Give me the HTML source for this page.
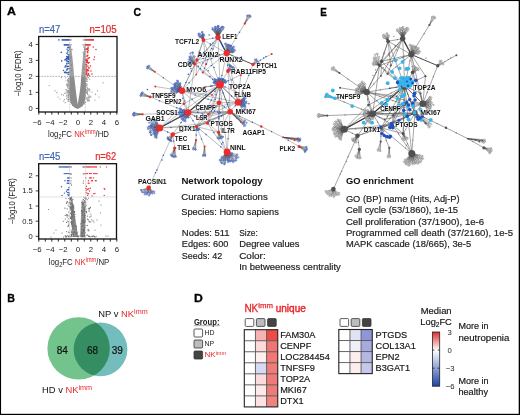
<!DOCTYPE html>
<html><head><meta charset="utf-8"><style>
html,body{margin:0;padding:0;background:#fff;}
svg{display:block;font-family:"Liberation Sans", sans-serif;will-change:transform;}
</style></head><body>
<svg width="520" height="415" viewBox="0 0 520 415">
<rect width="520" height="415" fill="#fff"/>
<g fill="#000"><rect x="0" y="0" width="520" height="1.05"/><rect x="0" y="0" width="1.05" height="415"/><rect x="518.7" y="0" width="1.3" height="415"/><rect x="0" y="413.8" width="520" height="1.2"/></g>
<text transform="translate(6.89,15.25) scale(1.065,1)" x="0" y="0" font-size="11.6" font-weight="bold" stroke="#000" stroke-width="0.3">A</text>
<text transform="translate(7.29,301.85) scale(0.92,1)" x="0" y="0" font-size="11.6" font-weight="bold" stroke="#000" stroke-width="0.3">B</text>
<text transform="translate(133.58,15.85) scale(0.9,1)" x="0" y="0" font-size="11.6" font-weight="bold" stroke="#000" stroke-width="0.3">C</text>
<text transform="translate(193.89,302.05) scale(1.05,1)" x="0" y="0" font-size="11.6" font-weight="bold" stroke="#000" stroke-width="0.3">D</text>
<text transform="translate(320.14,15.7) scale(0.85,1)" x="0" y="0" font-size="11.6" font-weight="bold" stroke="#000" stroke-width="0.3">E</text>
<polygon fill="#a2a2a2" opacity="1" points="69.4,46 70.9,46 72.4,57 73.4,67 74.2,76.5 69.4,76.5"/>
<polygon fill="#a2a2a2" opacity="1" points="84.4,46 85.7,46 85.7,76.5 81.2,76.5 82.0,67 83.0,57"/>
<g fill="#b8b8b8" opacity="1"><circle cx="68.58" cy="87.07" r="0.7"/><circle cx="68.65" cy="101.00" r="0.7"/><circle cx="68.14" cy="88.24" r="0.7"/><circle cx="86.79" cy="80.41" r="0.7"/><circle cx="68.47" cy="79.96" r="0.7"/><circle cx="68.76" cy="93.83" r="0.7"/><circle cx="67.74" cy="95.66" r="0.7"/><circle cx="73.23" cy="105.34" r="0.7"/><circle cx="68.72" cy="93.59" r="0.7"/><circle cx="87.00" cy="81.30" r="0.7"/><circle cx="67.55" cy="93.69" r="0.7"/><circle cx="67.88" cy="83.26" r="0.7"/><circle cx="67.24" cy="93.34" r="0.7"/><circle cx="87.01" cy="91.90" r="0.7"/><circle cx="87.53" cy="99.76" r="0.7"/><circle cx="68.17" cy="86.39" r="0.7"/><circle cx="67.94" cy="97.57" r="0.7"/><circle cx="86.84" cy="91.86" r="0.7"/><circle cx="86.69" cy="98.42" r="0.7"/><circle cx="68.58" cy="92.33" r="0.7"/><circle cx="67.66" cy="99.20" r="0.7"/><circle cx="72.88" cy="104.94" r="0.7"/><circle cx="86.95" cy="99.41" r="0.7"/><circle cx="87.32" cy="91.91" r="0.7"/><circle cx="67.51" cy="79.93" r="0.7"/><circle cx="68.40" cy="96.60" r="0.7"/><circle cx="88.77" cy="98.47" r="0.7"/><circle cx="88.96" cy="101.01" r="0.7"/><circle cx="87.73" cy="98.07" r="0.7"/><circle cx="68.70" cy="82.71" r="0.7"/><circle cx="68.82" cy="91.82" r="0.7"/><circle cx="86.98" cy="84.93" r="0.7"/><circle cx="84.27" cy="103.67" r="0.7"/><circle cx="68.21" cy="93.38" r="0.7"/><circle cx="87.33" cy="100.94" r="0.7"/><circle cx="89.97" cy="97.12" r="0.7"/><circle cx="72.67" cy="104.82" r="0.7"/><circle cx="68.53" cy="96.44" r="0.7"/><circle cx="68.89" cy="91.58" r="0.7"/><circle cx="86.42" cy="89.73" r="0.7"/><circle cx="88.21" cy="95.07" r="0.7"/><circle cx="68.32" cy="92.43" r="0.7"/><circle cx="87.34" cy="90.79" r="0.7"/><circle cx="87.08" cy="91.48" r="0.7"/><circle cx="67.51" cy="79.74" r="0.7"/><circle cx="68.77" cy="81.08" r="0.7"/><circle cx="65.81" cy="80.87" r="0.7"/><circle cx="68.18" cy="95.18" r="0.7"/><circle cx="84.81" cy="102.48" r="0.7"/><circle cx="87.10" cy="87.73" r="0.7"/><circle cx="66.51" cy="91.28" r="0.7"/><circle cx="89.63" cy="91.05" r="0.7"/><circle cx="67.95" cy="86.73" r="0.7"/><circle cx="68.19" cy="85.41" r="0.7"/><circle cx="67.38" cy="92.46" r="0.7"/><circle cx="68.42" cy="82.10" r="0.7"/><circle cx="88.87" cy="99.23" r="0.7"/><circle cx="86.65" cy="97.49" r="0.7"/><circle cx="68.33" cy="92.52" r="0.7"/><circle cx="87.03" cy="93.16" r="0.7"/><circle cx="68.07" cy="95.82" r="0.7"/><circle cx="66.65" cy="98.72" r="0.7"/><circle cx="86.49" cy="83.60" r="0.7"/><circle cx="86.55" cy="78.78" r="0.7"/><circle cx="67.75" cy="91.22" r="0.7"/><circle cx="89.35" cy="90.52" r="0.7"/><circle cx="82.49" cy="104.74" r="0.7"/><circle cx="86.59" cy="91.16" r="0.7"/><circle cx="67.02" cy="83.72" r="0.7"/><circle cx="68.66" cy="100.39" r="0.7"/></g>
<polygon fill="#8c8c8c" opacity="1" points="69.4,76.5 69.2,90 69.6,98 70.5,102.5 72.2,105.5 74.8,107.8 77.5,109 80.2,107.8 82.8,105.5 84.5,102.5 85.5,98 86.0,90 85.8,76.5 81.2,76.5 80.6,85 79.6,93 77.7,104.5 76.1,93 75.2,85 74.2,76.5"/>
<g fill="#8a8a8a" opacity="1"><circle cx="68.12" cy="101.20" r="0.6"/><circle cx="67.44" cy="90.86" r="0.6"/><circle cx="86.93" cy="89.58" r="0.6"/><circle cx="68.37" cy="90.43" r="0.6"/><circle cx="68.55" cy="98.02" r="0.6"/><circle cx="87.39" cy="94.13" r="0.6"/><circle cx="89.15" cy="100.39" r="0.6"/><circle cx="90.07" cy="96.06" r="0.6"/><circle cx="68.68" cy="81.52" r="0.6"/><circle cx="69.04" cy="92.27" r="0.6"/><circle cx="65.83" cy="89.58" r="0.6"/><circle cx="65.69" cy="77.81" r="0.6"/><circle cx="86.41" cy="85.50" r="0.6"/><circle cx="65.75" cy="92.79" r="0.6"/><circle cx="86.55" cy="78.77" r="0.6"/><circle cx="63.66" cy="100.99" r="0.6"/><circle cx="86.70" cy="92.42" r="0.6"/><circle cx="69.13" cy="99.52" r="0.6"/><circle cx="68.35" cy="99.51" r="0.6"/><circle cx="87.36" cy="93.14" r="0.6"/><circle cx="66.27" cy="96.79" r="0.6"/><circle cx="70.84" cy="102.61" r="0.6"/><circle cx="86.95" cy="84.21" r="0.6"/><circle cx="64.79" cy="93.29" r="0.6"/><circle cx="66.85" cy="89.85" r="0.6"/><circle cx="88.20" cy="97.09" r="0.6"/><circle cx="68.11" cy="91.74" r="0.6"/><circle cx="89.10" cy="97.28" r="0.6"/><circle cx="84.01" cy="103.76" r="0.6"/><circle cx="68.11" cy="80.98" r="0.6"/><circle cx="87.76" cy="88.38" r="0.6"/><circle cx="89.75" cy="79.12" r="0.6"/><circle cx="87.40" cy="99.73" r="0.6"/><circle cx="68.29" cy="81.15" r="0.6"/><circle cx="82.56" cy="105.06" r="0.6"/><circle cx="65.16" cy="102.66" r="0.6"/><circle cx="81.46" cy="105.71" r="0.6"/><circle cx="81.91" cy="105.83" r="0.6"/><circle cx="86.96" cy="86.83" r="0.6"/><circle cx="88.35" cy="77.57" r="0.6"/><circle cx="88.52" cy="89.77" r="0.6"/><circle cx="68.94" cy="91.86" r="0.6"/><circle cx="67.57" cy="80.27" r="0.6"/><circle cx="87.12" cy="79.44" r="0.6"/><circle cx="68.83" cy="78.15" r="0.6"/><circle cx="88.23" cy="100.77" r="0.6"/><circle cx="89.24" cy="88.77" r="0.6"/><circle cx="68.49" cy="97.31" r="0.6"/><circle cx="68.69" cy="85.09" r="0.6"/><circle cx="67.62" cy="84.80" r="0.6"/><circle cx="68.85" cy="95.40" r="0.6"/><circle cx="68.17" cy="78.93" r="0.6"/><circle cx="87.95" cy="90.16" r="0.6"/><circle cx="66.40" cy="95.03" r="0.6"/><circle cx="69.11" cy="92.28" r="0.6"/><circle cx="67.95" cy="84.59" r="0.6"/><circle cx="68.36" cy="82.85" r="0.6"/><circle cx="67.15" cy="85.41" r="0.6"/><circle cx="66.42" cy="84.85" r="0.6"/><circle cx="61.29" cy="77.45" r="0.6"/><circle cx="86.28" cy="91.91" r="0.6"/><circle cx="89.03" cy="96.04" r="0.6"/><circle cx="73.30" cy="105.14" r="0.6"/><circle cx="67.51" cy="86.94" r="0.6"/><circle cx="68.70" cy="88.74" r="0.6"/><circle cx="86.91" cy="77.41" r="0.6"/><circle cx="89.82" cy="89.49" r="0.6"/><circle cx="85.47" cy="102.25" r="0.6"/><circle cx="68.92" cy="94.36" r="0.6"/><circle cx="86.94" cy="81.57" r="0.6"/><circle cx="83.72" cy="47.11" r="0.6"/><circle cx="83.67" cy="54.09" r="0.6"/><circle cx="83.03" cy="52.31" r="0.6"/><circle cx="70.06" cy="61.58" r="0.6"/><circle cx="71.79" cy="49.63" r="0.6"/><circle cx="70.34" cy="58.43" r="0.6"/><circle cx="84.90" cy="63.98" r="0.6"/><circle cx="84.18" cy="69.17" r="0.6"/><circle cx="82.92" cy="68.00" r="0.6"/><circle cx="71.77" cy="68.28" r="0.6"/><circle cx="71.14" cy="70.97" r="0.6"/><circle cx="69.62" cy="49.47" r="0.6"/><circle cx="70.76" cy="57.92" r="0.6"/><circle cx="71.41" cy="65.16" r="0.6"/><circle cx="69.70" cy="60.25" r="0.6"/><circle cx="84.86" cy="66.12" r="0.6"/><circle cx="71.87" cy="70.47" r="0.6"/><circle cx="84.09" cy="53.69" r="0.6"/><circle cx="72.05" cy="49.23" r="0.6"/><circle cx="71.30" cy="64.89" r="0.6"/><circle cx="71.32" cy="56.62" r="0.6"/><circle cx="69.67" cy="47.36" r="0.6"/><circle cx="83.61" cy="67.07" r="0.6"/><circle cx="70.81" cy="60.48" r="0.6"/><circle cx="84.12" cy="56.04" r="0.6"/><circle cx="85.51" cy="60.31" r="0.6"/><circle cx="70.58" cy="75.83" r="0.6"/><circle cx="84.89" cy="49.16" r="0.6"/><circle cx="85.10" cy="74.63" r="0.6"/><circle cx="83.45" cy="72.72" r="0.6"/><circle cx="49.20" cy="85.50" r="0.6"/><circle cx="103.10" cy="82.80" r="0.6"/><circle cx="55.00" cy="90.80" r="0.6"/><circle cx="56.90" cy="92.70" r="0.6"/><circle cx="61.70" cy="94.60" r="0.6"/><circle cx="63.40" cy="95.10" r="0.6"/><circle cx="97.40" cy="90.80" r="0.6"/><circle cx="95.50" cy="94.20" r="0.6"/><circle cx="92.00" cy="92.00" r="0.6"/><circle cx="60.00" cy="99.00" r="0.6"/><circle cx="58.00" cy="97.00" r="0.6"/><circle cx="95.00" cy="100.00" r="0.6"/><circle cx="99.00" cy="97.00" r="0.6"/><circle cx="64.50" cy="99.50" r="0.6"/><circle cx="91.00" cy="97.00" r="0.6"/></g>
<g fill="#2f58b3" opacity="1"><circle cx="58.90" cy="39.90" r="0.78"/><circle cx="62.20" cy="39.90" r="0.78"/><circle cx="63.10" cy="39.90" r="0.78"/><circle cx="64.00" cy="39.90" r="0.78"/><circle cx="64.90" cy="39.90" r="0.78"/><circle cx="65.80" cy="39.90" r="0.78"/><circle cx="66.70" cy="39.90" r="0.78"/><circle cx="67.60" cy="39.90" r="0.78"/><circle cx="68.50" cy="39.90" r="0.78"/><circle cx="69.40" cy="39.90" r="0.78"/><circle cx="64.30" cy="44.90" r="0.78"/><circle cx="65.20" cy="44.90" r="0.78"/><circle cx="66.10" cy="44.90" r="0.78"/><circle cx="67.00" cy="44.90" r="0.78"/><circle cx="67.90" cy="44.90" r="0.78"/><circle cx="68.80" cy="44.90" r="0.78"/><circle cx="66.49" cy="58.63" r="0.78"/><circle cx="65.09" cy="67.11" r="0.78"/><circle cx="68.72" cy="58.96" r="0.78"/><circle cx="67.05" cy="58.10" r="0.78"/><circle cx="68.18" cy="50.57" r="0.78"/><circle cx="67.53" cy="56.98" r="0.78"/><circle cx="67.83" cy="58.75" r="0.78"/><circle cx="68.54" cy="47.35" r="0.78"/><circle cx="68.99" cy="68.83" r="0.78"/><circle cx="68.30" cy="58.51" r="0.78"/><circle cx="65.16" cy="72.66" r="0.78"/><circle cx="67.00" cy="69.29" r="0.78"/><circle cx="68.88" cy="72.20" r="0.78"/><circle cx="68.39" cy="66.53" r="0.78"/><circle cx="66.00" cy="65.73" r="0.78"/><circle cx="64.93" cy="59.87" r="0.78"/><circle cx="68.52" cy="56.31" r="0.78"/><circle cx="65.70" cy="59.62" r="0.78"/><circle cx="68.86" cy="47.86" r="0.78"/><circle cx="67.08" cy="72.83" r="0.78"/><circle cx="68.78" cy="63.35" r="0.78"/><circle cx="68.25" cy="74.54" r="0.78"/><circle cx="68.22" cy="59.12" r="0.78"/><circle cx="68.31" cy="72.65" r="0.78"/><circle cx="66.96" cy="61.32" r="0.78"/><circle cx="67.74" cy="52.04" r="0.78"/><circle cx="68.71" cy="59.24" r="0.78"/><circle cx="67.57" cy="68.79" r="0.78"/><circle cx="67.83" cy="66.26" r="0.78"/><circle cx="68.22" cy="61.25" r="0.78"/><circle cx="67.01" cy="66.73" r="0.78"/><circle cx="67.14" cy="49.22" r="0.78"/><circle cx="68.09" cy="61.77" r="0.78"/><circle cx="66.78" cy="60.36" r="0.78"/><circle cx="68.88" cy="56.82" r="0.78"/><circle cx="67.00" cy="63.16" r="0.78"/><circle cx="67.90" cy="54.20" r="0.78"/><circle cx="66.85" cy="56.42" r="0.78"/><circle cx="68.53" cy="57.87" r="0.78"/><circle cx="67.81" cy="47.59" r="0.78"/><circle cx="66.67" cy="72.68" r="0.78"/><circle cx="66.89" cy="53.20" r="0.78"/><circle cx="68.97" cy="54.97" r="0.78"/><circle cx="66.77" cy="63.94" r="0.78"/><circle cx="68.10" cy="57.62" r="0.78"/><circle cx="66.85" cy="70.31" r="0.78"/><circle cx="65.62" cy="72.03" r="0.78"/><circle cx="66.77" cy="58.34" r="0.78"/><circle cx="61.30" cy="52.40" r="0.78"/><circle cx="61.70" cy="60.90" r="0.78"/><circle cx="64.60" cy="72.40" r="0.78"/><circle cx="63.50" cy="70.50" r="0.78"/><circle cx="65.50" cy="66.00" r="0.78"/></g>
<g fill="#e8333a" opacity="1"><circle cx="85.30" cy="39.90" r="0.78"/><circle cx="86.20" cy="39.90" r="0.78"/><circle cx="87.10" cy="39.90" r="0.78"/><circle cx="88.00" cy="39.90" r="0.78"/><circle cx="88.90" cy="39.90" r="0.78"/><circle cx="89.80" cy="39.90" r="0.78"/><circle cx="90.70" cy="39.90" r="0.78"/><circle cx="91.60" cy="39.90" r="0.78"/><circle cx="92.50" cy="39.90" r="0.78"/><circle cx="93.40" cy="39.90" r="0.78"/><circle cx="85.60" cy="44.90" r="0.78"/><circle cx="86.50" cy="44.90" r="0.78"/><circle cx="87.40" cy="44.90" r="0.78"/><circle cx="88.30" cy="44.90" r="0.78"/><circle cx="89.20" cy="44.90" r="0.78"/><circle cx="90.10" cy="44.90" r="0.78"/><circle cx="87.83" cy="66.05" r="0.78"/><circle cx="86.89" cy="71.02" r="0.78"/><circle cx="87.71" cy="75.56" r="0.78"/><circle cx="87.76" cy="69.53" r="0.78"/><circle cx="88.60" cy="70.73" r="0.78"/><circle cx="86.61" cy="49.16" r="0.78"/><circle cx="88.53" cy="74.44" r="0.78"/><circle cx="87.28" cy="60.81" r="0.78"/><circle cx="86.42" cy="60.24" r="0.78"/><circle cx="87.63" cy="51.49" r="0.78"/><circle cx="89.29" cy="75.67" r="0.78"/><circle cx="88.70" cy="67.68" r="0.78"/><circle cx="86.83" cy="71.97" r="0.78"/><circle cx="86.67" cy="69.92" r="0.78"/><circle cx="88.11" cy="47.04" r="0.78"/><circle cx="88.13" cy="48.11" r="0.78"/><circle cx="89.10" cy="68.09" r="0.78"/><circle cx="86.82" cy="62.58" r="0.78"/><circle cx="86.19" cy="59.90" r="0.78"/><circle cx="87.10" cy="55.86" r="0.78"/><circle cx="86.71" cy="74.83" r="0.78"/><circle cx="87.70" cy="70.32" r="0.78"/><circle cx="93.27" cy="47.03" r="0.78"/><circle cx="87.82" cy="55.22" r="0.78"/><circle cx="86.97" cy="56.33" r="0.78"/><circle cx="87.49" cy="62.53" r="0.78"/><circle cx="88.33" cy="63.14" r="0.78"/><circle cx="86.51" cy="66.16" r="0.78"/><circle cx="87.67" cy="48.63" r="0.78"/><circle cx="90.40" cy="66.09" r="0.78"/><circle cx="86.42" cy="49.39" r="0.78"/><circle cx="88.39" cy="57.92" r="0.78"/><circle cx="87.27" cy="61.54" r="0.78"/><circle cx="89.40" cy="57.69" r="0.78"/><circle cx="87.93" cy="58.69" r="0.78"/><circle cx="86.18" cy="71.93" r="0.78"/><circle cx="87.57" cy="48.99" r="0.78"/><circle cx="86.14" cy="69.59" r="0.78"/><circle cx="87.79" cy="52.72" r="0.78"/><circle cx="86.48" cy="73.24" r="0.78"/><circle cx="88.25" cy="50.22" r="0.78"/><circle cx="88.22" cy="73.45" r="0.78"/><circle cx="86.73" cy="61.31" r="0.78"/><circle cx="86.50" cy="64.55" r="0.78"/><circle cx="86.55" cy="74.20" r="0.78"/><circle cx="86.26" cy="64.59" r="0.78"/><circle cx="86.45" cy="59.25" r="0.78"/><circle cx="87.46" cy="60.26" r="0.78"/><circle cx="86.52" cy="68.01" r="0.78"/><circle cx="87.09" cy="49.34" r="0.78"/><circle cx="87.26" cy="51.89" r="0.78"/><circle cx="89.08" cy="62.48" r="0.78"/><circle cx="96.00" cy="49.50" r="0.78"/><circle cx="94.50" cy="57.00" r="0.78"/><circle cx="94.00" cy="59.60" r="0.78"/><circle cx="91.00" cy="71.00" r="0.78"/><circle cx="92.00" cy="74.00" r="0.78"/></g>
<g fill="#9a9a9a" opacity="1"><circle cx="69.70" cy="39.90" r="0.65"/><circle cx="70.50" cy="39.90" r="0.65"/><circle cx="71.30" cy="39.90" r="0.65"/><circle cx="69.70" cy="44.90" r="0.65"/><circle cx="70.50" cy="44.90" r="0.65"/><circle cx="71.30" cy="44.90" r="0.65"/><circle cx="83.30" cy="39.90" r="0.65"/><circle cx="84.10" cy="39.90" r="0.65"/><circle cx="84.90" cy="39.90" r="0.65"/><circle cx="83.00" cy="44.90" r="0.65"/><circle cx="83.80" cy="44.90" r="0.65"/><circle cx="84.60" cy="44.90" r="0.65"/></g>
<line x1="38.7" y1="76.4" x2="117" y2="76.4" stroke="#777" stroke-width="0.6" stroke-dasharray="1.6,1.2"/>
<line x1="69.8" y1="36.5" x2="69.8" y2="112" stroke="#999" stroke-width="0.5" stroke-dasharray="1.6,1.2"/>
<line x1="85.3" y1="36.5" x2="85.3" y2="112" stroke="#999" stroke-width="0.5" stroke-dasharray="1.6,1.2"/>
<rect x="38.7" y="36.5" width="78.3" height="75.5" fill="none" stroke="#111" stroke-width="1.3"/>
<line x1="35.7" y1="108.40" x2="38.7" y2="108.40" stroke="#111" stroke-width="0.8"/>
<text x="32.80" y="110.90" font-size="7.6" fill="#222" text-anchor="end">0</text>
<line x1="35.7" y1="92.40" x2="38.7" y2="92.40" stroke="#111" stroke-width="0.8"/>
<text x="32.80" y="94.90" font-size="7.6" fill="#222" text-anchor="end">1</text>
<line x1="35.7" y1="76.40" x2="38.7" y2="76.40" stroke="#111" stroke-width="0.8"/>
<text x="32.80" y="78.90" font-size="7.6" fill="#222" text-anchor="end">2</text>
<line x1="35.7" y1="60.40" x2="38.7" y2="60.40" stroke="#111" stroke-width="0.8"/>
<text x="32.80" y="62.90" font-size="7.6" fill="#222" text-anchor="end">3</text>
<line x1="35.7" y1="44.40" x2="38.7" y2="44.40" stroke="#111" stroke-width="0.8"/>
<text x="32.80" y="46.90" font-size="7.6" fill="#222" text-anchor="end">4</text>
<line x1="38.80" y1="112" x2="38.80" y2="114.6" stroke="#111" stroke-width="0.9"/>
<text x="37.20" y="124.50" font-size="7.8" fill="#222" text-anchor="middle">−6</text>
<line x1="45.30" y1="112" x2="45.30" y2="114.6" stroke="#111" stroke-width="0.9"/>
<line x1="51.80" y1="112" x2="51.80" y2="114.6" stroke="#111" stroke-width="0.9"/>
<text x="50.20" y="124.50" font-size="7.8" fill="#222" text-anchor="middle">−4</text>
<line x1="58.30" y1="112" x2="58.30" y2="114.6" stroke="#111" stroke-width="0.9"/>
<line x1="64.80" y1="112" x2="64.80" y2="114.6" stroke="#111" stroke-width="0.9"/>
<text x="63.20" y="124.50" font-size="7.8" fill="#222" text-anchor="middle">−2</text>
<line x1="71.30" y1="112" x2="71.30" y2="114.6" stroke="#111" stroke-width="0.9"/>
<line x1="77.80" y1="112" x2="77.80" y2="114.6" stroke="#111" stroke-width="0.9"/>
<text x="77.80" y="124.50" font-size="7.8" fill="#222" text-anchor="middle">0</text>
<line x1="84.30" y1="112" x2="84.30" y2="114.6" stroke="#111" stroke-width="0.9"/>
<line x1="90.80" y1="112" x2="90.80" y2="114.6" stroke="#111" stroke-width="0.9"/>
<text x="90.80" y="124.50" font-size="7.8" fill="#222" text-anchor="middle">2</text>
<line x1="97.30" y1="112" x2="97.30" y2="114.6" stroke="#111" stroke-width="0.9"/>
<line x1="103.80" y1="112" x2="103.80" y2="114.6" stroke="#111" stroke-width="0.9"/>
<text x="103.80" y="124.50" font-size="7.8" fill="#222" text-anchor="middle">4</text>
<line x1="110.30" y1="112" x2="110.30" y2="114.6" stroke="#111" stroke-width="0.9"/>
<line x1="116.80" y1="112" x2="116.80" y2="114.6" stroke="#111" stroke-width="0.9"/>
<text x="116.80" y="124.50" font-size="7.8" fill="#222" text-anchor="middle">6</text>
<text x="38.90" y="32.80" font-size="10.2" fill="#3f66b8" textLength="21.50" lengthAdjust="spacingAndGlyphs" stroke="#3f66b8" stroke-width="0.2">n=47</text>
<text x="89.40" y="32.80" font-size="10.2" fill="#e8262b" textLength="27.30" lengthAdjust="spacingAndGlyphs" stroke="#e8262b" stroke-width="0.2">n=105</text>
<text transform="translate(21.0,73.5) rotate(-90)" x="0" y="0" font-size="8.6" text-anchor="middle" fill="#222" textLength="46" lengthAdjust="spacingAndGlyphs">−log10 (FDR)</text>
<polygon fill="#7a7a7a" opacity="0.85" points="70.6,203 72.4,200 78.2,236.8 72.6,236.8 71.0,215"/>
<polygon fill="#7a7a7a" opacity="0.85" points="81.8,200 84.6,203 85.3,215 84.8,236.8 80.1,236.8"/>
<g fill="#6e6e6e" opacity="1"><circle cx="84.87" cy="215.47" r="0.6"/><circle cx="86.14" cy="211.96" r="0.6"/><circle cx="75.02" cy="214.48" r="0.6"/><circle cx="84.05" cy="208.05" r="0.6"/><circle cx="74.19" cy="231.96" r="0.6"/><circle cx="85.21" cy="227.36" r="0.6"/><circle cx="71.22" cy="214.08" r="0.6"/><circle cx="83.04" cy="204.73" r="0.6"/><circle cx="81.68" cy="211.39" r="0.6"/><circle cx="81.71" cy="213.23" r="0.6"/><circle cx="69.88" cy="198.38" r="0.6"/><circle cx="70.11" cy="199.45" r="0.6"/><circle cx="83.07" cy="232.49" r="0.6"/><circle cx="72.75" cy="210.23" r="0.6"/><circle cx="85.65" cy="225.31" r="0.6"/><circle cx="74.02" cy="208.75" r="0.6"/><circle cx="85.30" cy="206.24" r="0.6"/><circle cx="85.36" cy="215.40" r="0.6"/><circle cx="81.73" cy="233.08" r="0.6"/><circle cx="71.02" cy="216.61" r="0.6"/><circle cx="72.50" cy="226.17" r="0.6"/><circle cx="84.17" cy="209.95" r="0.6"/><circle cx="73.12" cy="227.96" r="0.6"/><circle cx="73.05" cy="212.47" r="0.6"/><circle cx="70.91" cy="199.56" r="0.6"/><circle cx="70.46" cy="218.51" r="0.6"/><circle cx="74.90" cy="231.90" r="0.6"/><circle cx="71.18" cy="200.32" r="0.6"/><circle cx="81.90" cy="236.04" r="0.6"/><circle cx="85.03" cy="202.25" r="0.6"/><circle cx="71.55" cy="223.63" r="0.6"/><circle cx="84.66" cy="208.61" r="0.6"/><circle cx="82.84" cy="211.73" r="0.6"/><circle cx="72.53" cy="206.77" r="0.6"/><circle cx="72.25" cy="208.11" r="0.6"/><circle cx="71.89" cy="212.64" r="0.6"/><circle cx="70.86" cy="206.14" r="0.6"/><circle cx="77.80" cy="236.14" r="0.6"/><circle cx="71.79" cy="231.87" r="0.6"/><circle cx="71.69" cy="233.12" r="0.6"/><circle cx="72.69" cy="206.20" r="0.6"/><circle cx="71.57" cy="235.43" r="0.6"/><circle cx="72.06" cy="211.70" r="0.6"/><circle cx="73.25" cy="207.27" r="0.6"/><circle cx="82.67" cy="220.55" r="0.6"/><circle cx="74.19" cy="211.56" r="0.6"/><circle cx="73.32" cy="236.50" r="0.6"/><circle cx="71.35" cy="222.74" r="0.6"/><circle cx="84.59" cy="229.34" r="0.6"/><circle cx="82.33" cy="204.31" r="0.6"/><circle cx="84.85" cy="198.24" r="0.6"/><circle cx="69.97" cy="199.50" r="0.6"/><circle cx="72.14" cy="223.23" r="0.6"/><circle cx="71.29" cy="200.60" r="0.6"/><circle cx="85.08" cy="207.71" r="0.6"/><circle cx="72.83" cy="213.50" r="0.6"/><circle cx="83.70" cy="219.38" r="0.6"/><circle cx="85.24" cy="197.72" r="0.6"/><circle cx="82.85" cy="212.43" r="0.6"/><circle cx="70.90" cy="197.23" r="0.6"/><circle cx="84.16" cy="229.40" r="0.6"/><circle cx="73.58" cy="211.41" r="0.6"/><circle cx="70.38" cy="199.04" r="0.6"/><circle cx="73.19" cy="232.94" r="0.6"/><circle cx="75.94" cy="233.63" r="0.6"/><circle cx="70.10" cy="208.19" r="0.6"/><circle cx="85.55" cy="201.30" r="0.6"/><circle cx="74.31" cy="228.29" r="0.6"/><circle cx="71.08" cy="230.07" r="0.6"/><circle cx="71.75" cy="216.07" r="0.6"/><circle cx="70.95" cy="222.14" r="0.6"/><circle cx="72.01" cy="221.50" r="0.6"/><circle cx="84.28" cy="230.84" r="0.6"/><circle cx="82.98" cy="204.75" r="0.6"/><circle cx="86.11" cy="205.62" r="0.6"/><circle cx="82.67" cy="203.18" r="0.6"/><circle cx="73.63" cy="206.76" r="0.6"/><circle cx="71.73" cy="219.21" r="0.6"/><circle cx="84.76" cy="209.81" r="0.6"/><circle cx="84.73" cy="218.73" r="0.6"/><circle cx="71.94" cy="209.17" r="0.6"/><circle cx="84.00" cy="223.02" r="0.6"/><circle cx="70.82" cy="204.06" r="0.6"/><circle cx="72.46" cy="216.34" r="0.6"/><circle cx="85.40" cy="221.43" r="0.6"/><circle cx="81.69" cy="229.02" r="0.6"/><circle cx="83.97" cy="202.07" r="0.6"/><circle cx="76.33" cy="228.69" r="0.6"/><circle cx="85.62" cy="202.15" r="0.6"/><circle cx="71.25" cy="217.20" r="0.6"/><circle cx="76.96" cy="232.35" r="0.6"/><circle cx="71.97" cy="199.62" r="0.6"/><circle cx="82.58" cy="235.78" r="0.6"/><circle cx="72.33" cy="229.03" r="0.6"/><circle cx="75.69" cy="225.48" r="0.6"/><circle cx="82.64" cy="210.86" r="0.6"/><circle cx="85.42" cy="232.41" r="0.6"/><circle cx="84.21" cy="215.03" r="0.6"/><circle cx="73.12" cy="233.34" r="0.6"/><circle cx="73.54" cy="221.33" r="0.6"/><circle cx="71.07" cy="198.45" r="0.6"/><circle cx="84.77" cy="222.14" r="0.6"/><circle cx="72.05" cy="232.37" r="0.6"/><circle cx="71.01" cy="207.44" r="0.6"/><circle cx="84.54" cy="211.21" r="0.6"/><circle cx="73.78" cy="219.91" r="0.6"/><circle cx="85.10" cy="218.16" r="0.6"/><circle cx="86.17" cy="211.67" r="0.6"/><circle cx="83.29" cy="219.81" r="0.6"/><circle cx="72.11" cy="200.21" r="0.6"/><circle cx="74.16" cy="226.37" r="0.6"/><circle cx="84.73" cy="217.39" r="0.6"/><circle cx="84.66" cy="235.87" r="0.6"/><circle cx="75.13" cy="226.51" r="0.6"/><circle cx="83.66" cy="221.33" r="0.6"/><circle cx="73.56" cy="211.38" r="0.6"/><circle cx="73.69" cy="205.98" r="0.6"/><circle cx="83.84" cy="197.10" r="0.6"/><circle cx="72.73" cy="217.66" r="0.6"/><circle cx="72.90" cy="208.90" r="0.6"/><circle cx="82.28" cy="221.65" r="0.6"/><circle cx="70.09" cy="197.56" r="0.6"/><circle cx="71.53" cy="214.81" r="0.6"/><circle cx="83.30" cy="231.42" r="0.6"/><circle cx="73.60" cy="207.44" r="0.6"/><circle cx="84.23" cy="229.42" r="0.6"/><circle cx="82.86" cy="219.85" r="0.6"/><circle cx="76.59" cy="232.69" r="0.6"/><circle cx="71.62" cy="198.00" r="0.6"/><circle cx="72.93" cy="199.31" r="0.6"/><circle cx="74.32" cy="218.76" r="0.6"/><circle cx="85.69" cy="204.88" r="0.6"/><circle cx="82.24" cy="203.90" r="0.6"/><circle cx="84.93" cy="221.73" r="0.6"/><circle cx="85.62" cy="197.25" r="0.6"/><circle cx="82.59" cy="215.38" r="0.6"/><circle cx="82.25" cy="236.37" r="0.6"/><circle cx="86.10" cy="198.53" r="0.6"/><circle cx="84.63" cy="233.54" r="0.6"/><circle cx="85.15" cy="207.51" r="0.6"/><circle cx="82.70" cy="233.23" r="0.6"/><circle cx="76.47" cy="233.68" r="0.6"/><circle cx="73.44" cy="217.04" r="0.6"/><circle cx="69.94" cy="206.33" r="0.6"/><circle cx="82.33" cy="226.47" r="0.6"/><circle cx="72.41" cy="212.35" r="0.6"/><circle cx="83.65" cy="230.65" r="0.6"/><circle cx="70.89" cy="217.96" r="0.6"/><circle cx="71.77" cy="214.27" r="0.6"/><circle cx="72.07" cy="209.16" r="0.6"/><circle cx="74.46" cy="220.12" r="0.6"/><circle cx="70.37" cy="198.06" r="0.6"/><circle cx="70.51" cy="203.39" r="0.6"/><circle cx="70.18" cy="198.22" r="0.6"/><circle cx="71.63" cy="222.04" r="0.6"/><circle cx="83.24" cy="199.60" r="0.6"/><circle cx="71.77" cy="234.71" r="0.6"/><circle cx="81.76" cy="226.85" r="0.6"/><circle cx="73.48" cy="205.13" r="0.6"/><circle cx="72.02" cy="234.50" r="0.6"/><circle cx="83.92" cy="221.95" r="0.6"/><circle cx="71.82" cy="202.24" r="0.6"/><circle cx="81.62" cy="210.29" r="0.6"/><circle cx="82.00" cy="207.14" r="0.6"/><circle cx="85.01" cy="227.01" r="0.6"/><circle cx="85.47" cy="220.78" r="0.6"/><circle cx="71.37" cy="221.42" r="0.6"/><circle cx="71.25" cy="198.23" r="0.6"/><circle cx="71.92" cy="224.83" r="0.6"/><circle cx="82.09" cy="229.70" r="0.6"/><circle cx="71.34" cy="197.05" r="0.6"/><circle cx="76.57" cy="226.65" r="0.6"/><circle cx="84.97" cy="216.39" r="0.6"/><circle cx="84.22" cy="229.60" r="0.6"/><circle cx="84.02" cy="234.81" r="0.6"/><circle cx="69.79" cy="203.28" r="0.6"/><circle cx="73.10" cy="206.15" r="0.6"/><circle cx="72.75" cy="222.14" r="0.6"/><circle cx="73.14" cy="236.15" r="0.6"/><circle cx="85.97" cy="211.05" r="0.6"/><circle cx="73.96" cy="232.23" r="0.6"/><circle cx="82.54" cy="222.51" r="0.6"/><circle cx="71.97" cy="207.40" r="0.6"/><circle cx="71.32" cy="231.92" r="0.6"/><circle cx="71.59" cy="202.01" r="0.6"/><circle cx="70.38" cy="209.90" r="0.6"/><circle cx="82.57" cy="214.79" r="0.6"/><circle cx="84.56" cy="214.33" r="0.6"/><circle cx="85.12" cy="201.98" r="0.6"/><circle cx="74.15" cy="224.51" r="0.6"/><circle cx="72.01" cy="226.81" r="0.6"/><circle cx="84.11" cy="235.50" r="0.6"/><circle cx="72.50" cy="210.77" r="0.6"/><circle cx="72.62" cy="204.48" r="0.6"/><circle cx="73.35" cy="222.99" r="0.6"/><circle cx="84.66" cy="235.86" r="0.6"/><circle cx="74.02" cy="214.18" r="0.6"/><circle cx="82.20" cy="233.00" r="0.6"/><circle cx="74.60" cy="212.34" r="0.6"/><circle cx="84.62" cy="230.75" r="0.6"/><circle cx="84.00" cy="216.77" r="0.6"/><circle cx="81.71" cy="202.60" r="0.6"/><circle cx="85.23" cy="206.57" r="0.6"/><circle cx="85.47" cy="220.20" r="0.6"/><circle cx="71.97" cy="223.38" r="0.6"/><circle cx="83.70" cy="222.34" r="0.6"/><circle cx="70.14" cy="207.26" r="0.6"/><circle cx="85.28" cy="206.57" r="0.6"/><circle cx="85.44" cy="221.87" r="0.6"/><circle cx="71.69" cy="216.07" r="0.6"/><circle cx="70.48" cy="213.17" r="0.6"/><circle cx="72.16" cy="209.96" r="0.6"/><circle cx="74.83" cy="216.35" r="0.6"/><circle cx="71.48" cy="218.46" r="0.6"/><circle cx="73.61" cy="234.58" r="0.6"/><circle cx="84.75" cy="200.99" r="0.6"/><circle cx="72.29" cy="225.33" r="0.6"/><circle cx="83.39" cy="229.74" r="0.6"/><circle cx="71.24" cy="234.44" r="0.6"/><circle cx="70.48" cy="204.26" r="0.6"/><circle cx="73.91" cy="221.25" r="0.6"/><circle cx="74.56" cy="212.08" r="0.6"/><circle cx="84.78" cy="213.53" r="0.6"/><circle cx="81.89" cy="223.66" r="0.6"/><circle cx="86.05" cy="208.99" r="0.6"/><circle cx="70.38" cy="217.82" r="0.6"/><circle cx="82.17" cy="234.95" r="0.6"/><circle cx="70.10" cy="202.11" r="0.6"/><circle cx="84.62" cy="222.05" r="0.6"/><circle cx="73.75" cy="225.47" r="0.6"/><circle cx="83.87" cy="222.23" r="0.6"/><circle cx="70.60" cy="208.63" r="0.6"/><circle cx="73.25" cy="215.54" r="0.6"/><circle cx="86.14" cy="211.86" r="0.6"/><circle cx="80.86" cy="223.81" r="0.6"/><circle cx="83.25" cy="225.51" r="0.6"/><circle cx="83.90" cy="222.85" r="0.6"/><circle cx="71.39" cy="213.93" r="0.6"/><circle cx="85.69" cy="211.32" r="0.6"/><circle cx="85.71" cy="199.25" r="0.6"/><circle cx="85.07" cy="202.55" r="0.6"/><circle cx="71.69" cy="197.59" r="0.6"/><circle cx="83.49" cy="199.84" r="0.6"/><circle cx="69.90" cy="201.01" r="0.6"/><circle cx="83.82" cy="204.33" r="0.6"/><circle cx="85.65" cy="203.03" r="0.6"/><circle cx="70.63" cy="203.63" r="0.6"/><circle cx="82.17" cy="232.31" r="0.6"/><circle cx="71.76" cy="224.37" r="0.6"/><circle cx="71.83" cy="214.32" r="0.6"/><circle cx="70.37" cy="207.45" r="0.6"/><circle cx="72.24" cy="215.69" r="0.6"/><circle cx="82.44" cy="232.77" r="0.6"/><circle cx="72.54" cy="203.50" r="0.6"/><circle cx="85.02" cy="209.67" r="0.6"/><circle cx="83.45" cy="230.20" r="0.6"/><circle cx="75.98" cy="236.50" r="0.6"/><circle cx="74.37" cy="211.23" r="0.6"/><circle cx="85.81" cy="198.81" r="0.6"/><circle cx="84.53" cy="200.71" r="0.6"/><circle cx="68.64" cy="232.11" r="0.6"/><circle cx="66.47" cy="202.82" r="0.6"/><circle cx="89.14" cy="230.74" r="0.6"/><circle cx="65.22" cy="219.06" r="0.6"/><circle cx="89.64" cy="208.80" r="0.6"/><circle cx="88.17" cy="229.42" r="0.6"/><circle cx="89.23" cy="211.50" r="0.6"/><circle cx="88.38" cy="208.32" r="0.6"/><circle cx="87.15" cy="235.05" r="0.6"/><circle cx="88.92" cy="210.05" r="0.6"/><circle cx="69.13" cy="202.85" r="0.6"/><circle cx="87.28" cy="225.46" r="0.6"/><circle cx="68.22" cy="218.73" r="0.6"/><circle cx="87.30" cy="199.76" r="0.6"/><circle cx="67.81" cy="221.13" r="0.6"/><circle cx="63.34" cy="221.25" r="0.6"/><circle cx="68.33" cy="221.82" r="0.6"/><circle cx="65.26" cy="215.40" r="0.6"/><circle cx="67.31" cy="201.85" r="0.6"/><circle cx="67.15" cy="201.82" r="0.6"/><circle cx="68.48" cy="212.02" r="0.6"/><circle cx="90.00" cy="207.80" r="0.6"/><circle cx="68.06" cy="205.02" r="0.6"/><circle cx="66.60" cy="222.39" r="0.6"/><circle cx="67.11" cy="216.92" r="0.6"/><circle cx="90.80" cy="214.00" r="0.6"/><circle cx="67.70" cy="214.97" r="0.6"/><circle cx="65.90" cy="235.74" r="0.6"/><circle cx="87.61" cy="216.07" r="0.6"/><circle cx="68.95" cy="215.94" r="0.6"/><circle cx="90.75" cy="221.82" r="0.6"/><circle cx="69.17" cy="202.62" r="0.6"/><circle cx="68.93" cy="206.29" r="0.6"/><circle cx="68.92" cy="225.34" r="0.6"/><circle cx="66.94" cy="215.13" r="0.6"/><circle cx="68.05" cy="226.40" r="0.6"/><circle cx="68.34" cy="225.73" r="0.6"/><circle cx="89.94" cy="216.93" r="0.6"/><circle cx="69.21" cy="232.71" r="0.6"/><circle cx="68.88" cy="198.56" r="0.6"/><circle cx="86.72" cy="212.78" r="0.6"/><circle cx="88.17" cy="230.72" r="0.6"/><circle cx="88.97" cy="221.14" r="0.6"/><circle cx="66.59" cy="214.67" r="0.6"/><circle cx="66.67" cy="203.51" r="0.6"/><circle cx="89.55" cy="221.93" r="0.6"/><circle cx="91.12" cy="216.12" r="0.6"/><circle cx="88.16" cy="219.54" r="0.6"/><circle cx="89.57" cy="208.64" r="0.6"/><circle cx="66.01" cy="198.59" r="0.6"/><circle cx="93.10" cy="220.84" r="0.6"/><circle cx="90.39" cy="207.35" r="0.6"/><circle cx="68.49" cy="224.02" r="0.6"/><circle cx="88.64" cy="198.06" r="0.6"/><circle cx="64.89" cy="208.18" r="0.6"/><circle cx="66.63" cy="231.72" r="0.6"/><circle cx="67.17" cy="208.96" r="0.6"/><circle cx="91.71" cy="219.73" r="0.6"/><circle cx="87.17" cy="235.06" r="0.6"/><circle cx="87.47" cy="219.04" r="0.6"/><circle cx="69.19" cy="236.70" r="0.6"/><circle cx="93.99" cy="236.08" r="0.6"/><circle cx="82.97" cy="236.61" r="0.6"/><circle cx="78.17" cy="236.05" r="0.6"/><circle cx="71.04" cy="236.70" r="0.6"/><circle cx="89.24" cy="236.35" r="0.6"/><circle cx="65.37" cy="236.77" r="0.6"/><circle cx="88.58" cy="236.08" r="0.6"/><circle cx="82.05" cy="236.88" r="0.6"/><circle cx="92.40" cy="236.43" r="0.6"/><circle cx="78.56" cy="236.51" r="0.6"/><circle cx="68.81" cy="236.03" r="0.6"/><circle cx="68.53" cy="236.64" r="0.6"/><circle cx="74.70" cy="236.48" r="0.6"/><circle cx="76.04" cy="236.42" r="0.6"/><circle cx="67.45" cy="235.85" r="0.6"/><circle cx="96.20" cy="236.25" r="0.6"/><circle cx="66.00" cy="236.56" r="0.6"/><circle cx="89.09" cy="235.99" r="0.6"/><circle cx="82.65" cy="236.21" r="0.6"/><circle cx="80.01" cy="235.82" r="0.6"/><circle cx="63.54" cy="236.99" r="0.6"/><circle cx="91.76" cy="236.38" r="0.6"/><circle cx="81.63" cy="236.11" r="0.6"/><circle cx="88.81" cy="236.31" r="0.6"/><circle cx="94.49" cy="236.72" r="0.6"/><circle cx="90.16" cy="236.96" r="0.6"/><circle cx="71.01" cy="235.85" r="0.6"/><circle cx="69.21" cy="236.02" r="0.6"/><circle cx="65.24" cy="235.86" r="0.6"/><circle cx="81.30" cy="236.84" r="0.6"/><circle cx="77.94" cy="236.94" r="0.6"/><circle cx="93.25" cy="235.88" r="0.6"/><circle cx="82.67" cy="236.28" r="0.6"/><circle cx="66.47" cy="236.95" r="0.6"/><circle cx="71.12" cy="236.48" r="0.6"/><circle cx="84.12" cy="236.95" r="0.6"/><circle cx="85.10" cy="236.27" r="0.6"/><circle cx="77.60" cy="235.99" r="0.6"/><circle cx="95.14" cy="236.99" r="0.6"/><circle cx="48.50" cy="209.50" r="0.6"/><circle cx="54.00" cy="233.00" r="0.6"/><circle cx="51.00" cy="237.00" r="0.6"/><circle cx="99.00" cy="201.00" r="0.6"/><circle cx="101.00" cy="205.00" r="0.6"/><circle cx="100.50" cy="213.00" r="0.6"/><circle cx="97.00" cy="220.00" r="0.6"/><circle cx="101.00" cy="225.00" r="0.6"/><circle cx="106.00" cy="236.00" r="0.6"/><circle cx="108.00" cy="236.00" r="0.6"/><circle cx="56.00" cy="230.00" r="0.6"/><circle cx="62.00" cy="233.00" r="0.6"/><circle cx="94.00" cy="222.00" r="0.6"/><circle cx="95.00" cy="230.00" r="0.6"/></g>
<g fill="#2f58b3" opacity="1"><circle cx="59.30" cy="166.90" r="0.7"/><circle cx="60.20" cy="166.90" r="0.7"/><circle cx="61.10" cy="166.90" r="0.7"/><circle cx="62.00" cy="166.90" r="0.7"/><circle cx="62.90" cy="166.90" r="0.7"/><circle cx="63.80" cy="166.90" r="0.7"/><circle cx="64.70" cy="166.90" r="0.7"/><circle cx="65.60" cy="166.90" r="0.7"/><circle cx="66.50" cy="166.90" r="0.7"/><circle cx="67.40" cy="166.90" r="0.7"/><circle cx="68.30" cy="166.90" r="0.7"/><circle cx="69.20" cy="166.90" r="0.7"/><circle cx="64.20" cy="173.60" r="0.7"/><circle cx="65.10" cy="173.60" r="0.7"/><circle cx="66.00" cy="173.60" r="0.7"/><circle cx="66.90" cy="173.60" r="0.7"/><circle cx="67.80" cy="173.60" r="0.7"/><circle cx="68.70" cy="173.60" r="0.7"/><circle cx="69.60" cy="173.60" r="0.7"/><circle cx="67.50" cy="177.90" r="0.7"/><circle cx="68.40" cy="177.90" r="0.7"/><circle cx="69.30" cy="177.90" r="0.7"/><circle cx="65.00" cy="180.80" r="0.7"/><circle cx="67.50" cy="180.80" r="0.7"/><circle cx="68.30" cy="180.80" r="0.7"/><circle cx="69.10" cy="180.80" r="0.7"/><circle cx="67.30" cy="183.20" r="0.7"/><circle cx="68.10" cy="183.20" r="0.7"/><circle cx="68.90" cy="183.20" r="0.7"/><circle cx="61.50" cy="186.80" r="0.7"/><circle cx="67.30" cy="189.70" r="0.7"/><circle cx="68.10" cy="189.90" r="0.7"/><circle cx="68.60" cy="189.40" r="0.7"/><circle cx="64.40" cy="193.10" r="0.7"/><circle cx="67.30" cy="192.60" r="0.7"/><circle cx="68.20" cy="192.40" r="0.7"/><circle cx="69.00" cy="192.80" r="0.7"/><circle cx="62.10" cy="195.40" r="0.7"/><circle cx="68.40" cy="195.60" r="0.7"/><circle cx="69.20" cy="195.00" r="0.7"/><circle cx="66.50" cy="191.20" r="0.7"/><circle cx="68.90" cy="187.50" r="0.7"/><circle cx="69.30" cy="194.00" r="0.7"/><circle cx="67.90" cy="194.60" r="0.7"/></g>
<g fill="#e8333a" opacity="1"><circle cx="85.80" cy="166.90" r="0.7"/><circle cx="86.70" cy="166.90" r="0.7"/><circle cx="87.60" cy="166.90" r="0.7"/><circle cx="88.50" cy="166.90" r="0.7"/><circle cx="89.40" cy="166.90" r="0.7"/><circle cx="90.30" cy="166.90" r="0.7"/><circle cx="91.20" cy="166.90" r="0.7"/><circle cx="92.10" cy="166.90" r="0.7"/><circle cx="93.00" cy="166.90" r="0.7"/><circle cx="93.90" cy="166.90" r="0.7"/><circle cx="94.80" cy="166.90" r="0.7"/><circle cx="95.70" cy="166.90" r="0.7"/><circle cx="96.60" cy="166.90" r="0.7"/><circle cx="100.20" cy="166.90" r="0.7"/><circle cx="106.50" cy="166.90" r="0.7"/><circle cx="84.90" cy="173.60" r="0.7"/><circle cx="85.80" cy="173.60" r="0.7"/><circle cx="86.70" cy="173.60" r="0.7"/><circle cx="87.60" cy="173.60" r="0.7"/><circle cx="89.50" cy="173.60" r="0.7"/><circle cx="90.40" cy="173.60" r="0.7"/><circle cx="91.30" cy="173.60" r="0.7"/><circle cx="93.50" cy="173.60" r="0.7"/><circle cx="94.40" cy="173.60" r="0.7"/><circle cx="95.30" cy="173.60" r="0.7"/><circle cx="96.20" cy="173.60" r="0.7"/><circle cx="97.10" cy="173.60" r="0.7"/><circle cx="85.80" cy="177.90" r="0.7"/><circle cx="89.50" cy="177.90" r="0.7"/><circle cx="90.40" cy="177.90" r="0.7"/><circle cx="91.30" cy="177.90" r="0.7"/><circle cx="93.50" cy="177.90" r="0.7"/><circle cx="88.40" cy="180.80" r="0.7"/><circle cx="91.50" cy="180.80" r="0.7"/><circle cx="92.40" cy="180.80" r="0.7"/><circle cx="95.30" cy="180.80" r="0.7"/><circle cx="96.20" cy="180.80" r="0.7"/><circle cx="88.20" cy="183.20" r="0.7"/><circle cx="89.00" cy="183.20" r="0.7"/><circle cx="85.80" cy="188.50" r="0.7"/><circle cx="86.80" cy="189.00" r="0.7"/><circle cx="87.80" cy="189.50" r="0.7"/><circle cx="88.80" cy="188.80" r="0.7"/><circle cx="90.40" cy="188.20" r="0.7"/><circle cx="104.20" cy="188.50" r="0.7"/><circle cx="104.80" cy="189.20" r="0.7"/><circle cx="86.00" cy="192.60" r="0.7"/><circle cx="87.20" cy="193.20" r="0.7"/><circle cx="88.60" cy="193.70" r="0.7"/><circle cx="93.80" cy="193.70" r="0.7"/><circle cx="95.00" cy="193.40" r="0.7"/><circle cx="92.10" cy="196.00" r="0.7"/><circle cx="104.20" cy="195.40" r="0.7"/><circle cx="86.50" cy="186.20" r="0.7"/><circle cx="87.60" cy="195.20" r="0.7"/><circle cx="89.50" cy="191.00" r="0.7"/><circle cx="86.10" cy="190.60" r="0.7"/></g>
<g fill="#777" opacity="1"><circle cx="69.70" cy="166.90" r="0.65"/><circle cx="70.50" cy="166.90" r="0.65"/><circle cx="71.30" cy="166.90" r="0.65"/><circle cx="83.00" cy="166.90" r="0.65"/><circle cx="83.80" cy="166.90" r="0.65"/><circle cx="84.60" cy="166.90" r="0.65"/><circle cx="71.00" cy="177.90" r="0.65"/><circle cx="71.00" cy="180.80" r="0.65"/><circle cx="70.80" cy="183.20" r="0.65"/><circle cx="71.50" cy="185.00" r="0.65"/><circle cx="83.50" cy="180.80" r="0.65"/><circle cx="83.20" cy="183.20" r="0.65"/><circle cx="70.50" cy="174.00" r="0.65"/><circle cx="71.20" cy="174.00" r="0.65"/><circle cx="83.40" cy="174.00" r="0.65"/></g>
<line x1="38.7" y1="196.98" x2="116.5" y2="196.98" stroke="#cfcfcf" stroke-width="0.65"/>
<line x1="69.5" y1="163.7" x2="69.5" y2="239" stroke="#c8c8c8" stroke-width="0.5"/>
<line x1="85.6" y1="163.7" x2="85.6" y2="239" stroke="#c8c8c8" stroke-width="0.5"/>
<rect x="38.7" y="163.7" width="77.8" height="75.30000000000001" fill="none" stroke="#111" stroke-width="1.3"/>
<line x1="35.7" y1="236.30" x2="38.7" y2="236.30" stroke="#111" stroke-width="0.8"/>
<text x="32.80" y="238.80" font-size="7.6" fill="#222" text-anchor="end">0</text>
<line x1="35.7" y1="221.18" x2="38.7" y2="221.18" stroke="#111" stroke-width="0.8"/>
<text x="32.80" y="223.68" font-size="7.6" fill="#222" text-anchor="end">0.5</text>
<line x1="35.7" y1="206.05" x2="38.7" y2="206.05" stroke="#111" stroke-width="0.8"/>
<text x="32.80" y="208.55" font-size="7.6" fill="#222" text-anchor="end">1</text>
<line x1="35.7" y1="190.93" x2="38.7" y2="190.93" stroke="#111" stroke-width="0.8"/>
<text x="32.80" y="193.43" font-size="7.6" fill="#222" text-anchor="end">1.5</text>
<line x1="35.7" y1="175.80" x2="38.7" y2="175.80" stroke="#111" stroke-width="0.8"/>
<text x="32.80" y="178.30" font-size="7.6" fill="#222" text-anchor="end">2</text>
<line x1="38.80" y1="239" x2="38.80" y2="241.6" stroke="#111" stroke-width="0.9"/>
<text x="37.20" y="251.50" font-size="7.8" fill="#222" text-anchor="middle">−6</text>
<line x1="45.30" y1="239" x2="45.30" y2="241.6" stroke="#111" stroke-width="0.9"/>
<line x1="51.80" y1="239" x2="51.80" y2="241.6" stroke="#111" stroke-width="0.9"/>
<text x="50.20" y="251.50" font-size="7.8" fill="#222" text-anchor="middle">−4</text>
<line x1="58.30" y1="239" x2="58.30" y2="241.6" stroke="#111" stroke-width="0.9"/>
<line x1="64.80" y1="239" x2="64.80" y2="241.6" stroke="#111" stroke-width="0.9"/>
<text x="63.20" y="251.50" font-size="7.8" fill="#222" text-anchor="middle">−2</text>
<line x1="71.30" y1="239" x2="71.30" y2="241.6" stroke="#111" stroke-width="0.9"/>
<line x1="77.80" y1="239" x2="77.80" y2="241.6" stroke="#111" stroke-width="0.9"/>
<text x="77.80" y="251.50" font-size="7.8" fill="#222" text-anchor="middle">0</text>
<line x1="84.30" y1="239" x2="84.30" y2="241.6" stroke="#111" stroke-width="0.9"/>
<line x1="90.80" y1="239" x2="90.80" y2="241.6" stroke="#111" stroke-width="0.9"/>
<text x="90.80" y="251.50" font-size="7.8" fill="#222" text-anchor="middle">2</text>
<line x1="97.30" y1="239" x2="97.30" y2="241.6" stroke="#111" stroke-width="0.9"/>
<line x1="103.80" y1="239" x2="103.80" y2="241.6" stroke="#111" stroke-width="0.9"/>
<text x="103.80" y="251.50" font-size="7.8" fill="#222" text-anchor="middle">4</text>
<line x1="110.30" y1="239" x2="110.30" y2="241.6" stroke="#111" stroke-width="0.9"/>
<line x1="116.80" y1="239" x2="116.80" y2="241.6" stroke="#111" stroke-width="0.9"/>
<text x="116.80" y="251.50" font-size="7.8" fill="#222" text-anchor="middle">6</text>
<text x="38.90" y="160.40" font-size="10.2" fill="#3f66b8" textLength="21.50" lengthAdjust="spacingAndGlyphs" stroke="#3f66b8" stroke-width="0.2">n=45</text>
<text x="95.20" y="160.40" font-size="10.2" fill="#e8262b" textLength="21.00" lengthAdjust="spacingAndGlyphs" stroke="#e8262b" stroke-width="0.2">n=62</text>
<text transform="translate(15.2,201.3) rotate(-90)" x="0" y="0" font-size="8.6" text-anchor="middle" fill="#222" textLength="46" lengthAdjust="spacingAndGlyphs">−log10 (FDR)</text>
<text transform="translate(48.0,136.5) scale(0.87,1)" x="0" y="0" font-size="9" fill="#222">log<tspan font-size="6.4" dy="2">2</tspan><tspan dy="-2">FC </tspan><tspan fill="#e8262b">NK<tspan font-size="6.4" dy="-3">imm</tspan></tspan><tspan dy="3">/HD</tspan></text>
<text transform="translate(48.7,265.0) scale(0.87,1)" x="0" y="0" font-size="9" fill="#222">log<tspan font-size="6.4" dy="2">2</tspan><tspan dy="-2">FC </tspan><tspan fill="#e8262b">NK<tspan font-size="6.4" dy="-3">imm</tspan></tspan><tspan dy="3">/NP</tspan></text>
<circle cx="78.6" cy="348.4" r="31.2" fill="#72c48c"/>
<circle cx="100.5" cy="349.3" r="26.9" fill="#73bebd"/>
<clipPath id="cg"><circle cx="78.6" cy="348.4" r="31.2"/></clipPath>
<circle cx="100.5" cy="349.3" r="26.9" fill="#358e61" clip-path="url(#cg)"/>
<text x="62.20" y="353.50" font-size="10" fill="#111" text-anchor="middle" stroke="#111" stroke-width="0.2">84</text>
<text x="92.60" y="353.50" font-size="10" fill="#111" text-anchor="middle" stroke="#111" stroke-width="0.2">68</text>
<text x="117.20" y="353.50" font-size="10" fill="#111" text-anchor="middle" stroke="#111" stroke-width="0.2">39</text>
<text x="98.3" y="317" font-size="9.4" fill="#111">NP v <tspan fill="#e8262b">NK<tspan font-size="7.2" dy="-3.5">imm</tspan></tspan></text>
<text x="42" y="393" font-size="9.4" fill="#111">HD v <tspan fill="#e8262b">NK<tspan font-size="7.2" dy="-3.5">imm</tspan></tspan></text>
<line x1="218.00" y1="37.30" x2="203.40" y2="40.00" stroke="#626262" stroke-width="0.42"/>
<line x1="218.00" y1="37.30" x2="226.60" y2="53.20" stroke="#333" stroke-width="1.20"/>
<line x1="218.00" y1="37.30" x2="196.90" y2="60.00" stroke="#626262" stroke-width="0.40"/>
<line x1="218.00" y1="37.30" x2="196.20" y2="74.60" stroke="#626262" stroke-width="0.40"/>
<line x1="218.00" y1="37.30" x2="202.80" y2="72.50" stroke="#626262" stroke-width="0.40"/>
<line x1="218.00" y1="37.30" x2="194.80" y2="64.20" stroke="#626262" stroke-width="0.40"/>
<line x1="203.40" y1="40.00" x2="196.90" y2="60.00" stroke="#626262" stroke-width="0.40"/>
<line x1="203.40" y1="40.00" x2="194.80" y2="64.20" stroke="#626262" stroke-width="0.40"/>
<line x1="203.40" y1="40.00" x2="206.00" y2="64.20" stroke="#626262" stroke-width="0.40"/>
<line x1="203.40" y1="40.00" x2="226.60" y2="53.20" stroke="#626262" stroke-width="0.40"/>
<line x1="244.70" y1="23.70" x2="226.60" y2="53.20" stroke="#626262" stroke-width="0.40"/>
<line x1="226.60" y1="53.20" x2="196.90" y2="60.00" stroke="#626262" stroke-width="0.40"/>
<line x1="226.60" y1="53.20" x2="253.00" y2="64.40" stroke="#333" stroke-width="0.84"/>
<line x1="226.60" y1="53.20" x2="220.00" y2="84.60" stroke="#626262" stroke-width="0.42"/>
<line x1="226.60" y1="53.20" x2="228.00" y2="71.00" stroke="#626262" stroke-width="0.40"/>
<line x1="226.60" y1="53.20" x2="202.80" y2="72.50" stroke="#626262" stroke-width="0.40"/>
<line x1="226.60" y1="53.20" x2="194.80" y2="64.20" stroke="#626262" stroke-width="0.40"/>
<line x1="253.00" y1="64.40" x2="271.70" y2="53.90" stroke="#626262" stroke-width="0.40"/>
<line x1="253.00" y1="64.40" x2="238.10" y2="102.40" stroke="#626262" stroke-width="0.40"/>
<line x1="220.00" y1="84.60" x2="240.70" y2="74.90" stroke="#626262" stroke-width="0.40"/>
<line x1="220.00" y1="84.60" x2="182.00" y2="90.80" stroke="#626262" stroke-width="0.48"/>
<line x1="220.00" y1="84.60" x2="188.00" y2="112.50" stroke="#333" stroke-width="1.14"/>
<line x1="220.00" y1="84.60" x2="219.00" y2="102.80" stroke="#626262" stroke-width="0.40"/>
<line x1="220.00" y1="84.60" x2="238.10" y2="102.40" stroke="#333" stroke-width="0.72"/>
<line x1="220.00" y1="84.60" x2="230.20" y2="111.70" stroke="#333" stroke-width="0.72"/>
<line x1="220.00" y1="84.60" x2="228.00" y2="71.00" stroke="#626262" stroke-width="0.40"/>
<line x1="220.00" y1="84.60" x2="194.80" y2="64.20" stroke="#626262" stroke-width="0.40"/>
<line x1="220.00" y1="84.60" x2="196.90" y2="60.00" stroke="#626262" stroke-width="0.40"/>
<line x1="220.00" y1="84.60" x2="208.50" y2="114.20" stroke="#626262" stroke-width="0.40"/>
<line x1="220.00" y1="84.60" x2="207.50" y2="123.20" stroke="#626262" stroke-width="0.40"/>
<line x1="220.00" y1="84.60" x2="196.50" y2="126.50" stroke="#626262" stroke-width="0.40"/>
<line x1="220.00" y1="84.60" x2="202.80" y2="72.50" stroke="#626262" stroke-width="0.40"/>
<line x1="220.00" y1="84.60" x2="205.00" y2="87.00" stroke="#626262" stroke-width="0.40"/>
<line x1="220.00" y1="84.60" x2="183.80" y2="103.70" stroke="#626262" stroke-width="0.40"/>
<line x1="220.00" y1="84.60" x2="218.50" y2="132.30" stroke="#626262" stroke-width="0.40"/>
<line x1="220.00" y1="84.60" x2="236.00" y2="92.00" stroke="#626262" stroke-width="0.40"/>
<line x1="182.00" y1="90.80" x2="150.10" y2="96.90" stroke="#626262" stroke-width="0.40"/>
<line x1="182.00" y1="90.80" x2="188.00" y2="112.50" stroke="#626262" stroke-width="0.40"/>
<line x1="182.00" y1="90.80" x2="155.30" y2="86.50" stroke="#626262" stroke-width="0.40"/>
<line x1="182.00" y1="90.80" x2="194.80" y2="64.20" stroke="#626262" stroke-width="0.40"/>
<line x1="182.00" y1="90.80" x2="183.80" y2="103.70" stroke="#626262" stroke-width="0.40"/>
<line x1="182.00" y1="90.80" x2="154.80" y2="71.80" stroke="#626262" stroke-width="0.40"/>
<line x1="182.00" y1="90.80" x2="196.20" y2="74.60" stroke="#626262" stroke-width="0.40"/>
<line x1="182.00" y1="90.80" x2="219.00" y2="102.80" stroke="#626262" stroke-width="0.40"/>
<line x1="188.00" y1="112.50" x2="159.60" y2="128.00" stroke="#333" stroke-width="1.26"/>
<line x1="188.00" y1="112.50" x2="142.60" y2="114.30" stroke="#626262" stroke-width="0.40"/>
<line x1="188.00" y1="112.50" x2="196.50" y2="126.50" stroke="#626262" stroke-width="0.40"/>
<line x1="188.00" y1="112.50" x2="219.00" y2="102.80" stroke="#626262" stroke-width="0.40"/>
<line x1="188.00" y1="112.50" x2="172.80" y2="134.50" stroke="#626262" stroke-width="0.40"/>
<line x1="188.00" y1="112.50" x2="230.20" y2="111.70" stroke="#626262" stroke-width="0.40"/>
<line x1="188.00" y1="112.50" x2="208.50" y2="114.20" stroke="#626262" stroke-width="0.40"/>
<line x1="159.60" y1="128.00" x2="172.80" y2="134.50" stroke="#626262" stroke-width="0.48"/>
<line x1="159.60" y1="128.00" x2="196.50" y2="126.50" stroke="#626262" stroke-width="0.40"/>
<line x1="150.10" y1="96.90" x2="188.00" y2="112.50" stroke="#626262" stroke-width="0.40"/>
<line x1="159.60" y1="128.00" x2="183.80" y2="103.70" stroke="#626262" stroke-width="0.40"/>
<line x1="172.80" y1="134.50" x2="148.70" y2="187.80" stroke="#626262" stroke-width="0.40"/>
<line x1="172.80" y1="134.50" x2="174.70" y2="148.00" stroke="#626262" stroke-width="0.40"/>
<line x1="172.80" y1="134.50" x2="196.50" y2="126.50" stroke="#626262" stroke-width="0.40"/>
<line x1="196.50" y1="126.50" x2="227.10" y2="152.10" stroke="#626262" stroke-width="0.48"/>
<line x1="196.50" y1="126.50" x2="207.50" y2="123.20" stroke="#626262" stroke-width="0.40"/>
<line x1="196.50" y1="126.50" x2="196.00" y2="140.20" stroke="#626262" stroke-width="0.40"/>
<line x1="196.50" y1="126.50" x2="204.60" y2="146.50" stroke="#626262" stroke-width="0.40"/>
<line x1="196.50" y1="126.50" x2="230.20" y2="111.70" stroke="#626262" stroke-width="0.40"/>
<line x1="230.20" y1="111.70" x2="240.80" y2="121.90" stroke="#626262" stroke-width="0.40"/>
<line x1="230.20" y1="111.70" x2="261.30" y2="126.50" stroke="#626262" stroke-width="0.54"/>
<line x1="261.30" y1="126.50" x2="283.00" y2="137.30" stroke="#626262" stroke-width="0.42"/>
<line x1="283.00" y1="137.30" x2="299.20" y2="146.50" stroke="#626262" stroke-width="0.40"/>
<line x1="230.20" y1="111.70" x2="238.10" y2="102.40" stroke="#626262" stroke-width="0.42"/>
<line x1="230.20" y1="111.70" x2="219.00" y2="102.80" stroke="#626262" stroke-width="0.40"/>
<line x1="230.20" y1="111.70" x2="207.50" y2="123.20" stroke="#626262" stroke-width="0.40"/>
<line x1="230.20" y1="111.70" x2="218.50" y2="132.30" stroke="#626262" stroke-width="0.40"/>
<line x1="230.20" y1="111.70" x2="227.10" y2="152.10" stroke="#626262" stroke-width="0.40"/>
<line x1="230.20" y1="111.70" x2="208.50" y2="114.20" stroke="#626262" stroke-width="0.40"/>
<line x1="218.50" y1="132.30" x2="227.10" y2="152.10" stroke="#626262" stroke-width="0.40"/>
<line x1="207.50" y1="123.20" x2="227.10" y2="152.10" stroke="#626262" stroke-width="0.40"/>
<line x1="219.00" y1="102.80" x2="238.10" y2="102.40" stroke="#626262" stroke-width="0.40"/>
<line x1="219.00" y1="102.80" x2="208.50" y2="114.20" stroke="#626262" stroke-width="0.40"/>
<line x1="238.10" y1="102.40" x2="236.00" y2="92.00" stroke="#626262" stroke-width="0.40"/>
<line x1="219.00" y1="102.80" x2="207.50" y2="123.20" stroke="#626262" stroke-width="0.40"/>
<line x1="212.00" y1="95.00" x2="220.00" y2="84.60" stroke="#626262" stroke-width="0.40"/>
<line x1="212.00" y1="95.00" x2="182.00" y2="90.80" stroke="#626262" stroke-width="0.40"/>
<line x1="200.00" y1="118.00" x2="188.00" y2="112.50" stroke="#626262" stroke-width="0.40"/>
<line x1="200.00" y1="118.00" x2="230.20" y2="111.70" stroke="#626262" stroke-width="0.40"/>
<line x1="238.10" y1="102.40" x2="240.80" y2="74.90" stroke="#626262" stroke-width="0.40"/>
<line x1="240.80" y1="74.90" x2="226.60" y2="53.20" stroke="#626262" stroke-width="0.40"/>
<line x1="196.90" y1="60.00" x2="196.20" y2="74.60" stroke="#626262" stroke-width="0.40"/>
<line x1="194.80" y1="64.20" x2="202.80" y2="72.50" stroke="#626262" stroke-width="0.40"/>
<line x1="183.80" y1="103.70" x2="188.00" y2="112.50" stroke="#626262" stroke-width="0.40"/>
<line x1="208.50" y1="114.20" x2="207.50" y2="123.20" stroke="#626262" stroke-width="0.40"/>
<line x1="218.50" y1="132.30" x2="207.50" y2="123.20" stroke="#626262" stroke-width="0.40"/>
<line x1="159.60" y1="128.00" x2="188.00" y2="112.50" stroke="#626262" stroke-width="0.40"/>
<line x1="159.60" y1="128.00" x2="220.00" y2="84.60" stroke="#626262" stroke-width="0.40"/>
<line x1="230.20" y1="111.70" x2="188.00" y2="112.50" stroke="#626262" stroke-width="0.40"/>
<line x1="230.20" y1="111.70" x2="196.50" y2="126.50" stroke="#626262" stroke-width="0.40"/>
<line x1="238.10" y1="102.40" x2="188.00" y2="112.50" stroke="#626262" stroke-width="0.40"/>
<line x1="238.10" y1="102.40" x2="208.50" y2="114.20" stroke="#626262" stroke-width="0.40"/>
<line x1="219.00" y1="102.80" x2="196.50" y2="126.50" stroke="#626262" stroke-width="0.40"/>
<line x1="219.00" y1="102.80" x2="218.50" y2="132.30" stroke="#626262" stroke-width="0.40"/>
<line x1="220.00" y1="84.60" x2="227.10" y2="152.10" stroke="#626262" stroke-width="0.40"/>
<line x1="182.00" y1="90.80" x2="208.50" y2="114.20" stroke="#626262" stroke-width="0.40"/>
<line x1="182.00" y1="90.80" x2="238.10" y2="102.40" stroke="#626262" stroke-width="0.40"/>
<line x1="203.40" y1="40.00" x2="220.00" y2="84.60" stroke="#626262" stroke-width="0.40"/>
<line x1="218.00" y1="37.30" x2="220.00" y2="84.60" stroke="#626262" stroke-width="0.40"/>
<line x1="196.90" y1="60.00" x2="182.00" y2="90.80" stroke="#626262" stroke-width="0.40"/>
<line x1="194.80" y1="64.20" x2="188.00" y2="112.50" stroke="#626262" stroke-width="0.40"/>
<line x1="226.60" y1="53.20" x2="238.10" y2="102.40" stroke="#626262" stroke-width="0.40"/>
<line x1="228.00" y1="71.00" x2="238.10" y2="102.40" stroke="#626262" stroke-width="0.40"/>
<line x1="228.00" y1="71.00" x2="230.20" y2="111.70" stroke="#626262" stroke-width="0.40"/>
<line x1="172.80" y1="134.50" x2="230.20" y2="111.70" stroke="#626262" stroke-width="0.40"/>
<line x1="159.60" y1="128.00" x2="207.50" y2="123.20" stroke="#626262" stroke-width="0.40"/>
<line x1="188.00" y1="112.50" x2="207.50" y2="123.20" stroke="#626262" stroke-width="0.40"/>
<line x1="196.50" y1="126.50" x2="218.50" y2="132.30" stroke="#626262" stroke-width="0.40"/>
<path d="M218.00,37.30L212.47,29.57M218.00,37.30L212.73,29.06M218.00,37.30L214.73,31.36M218.00,37.30L212.54,27.95M218.00,37.30L214.48,30.28M218.00,37.30L214.88,28.72M218.00,37.30L215.06,28.62M218.00,37.30L215.77,30.31M218.00,37.30L215.07,26.74M218.00,37.30L215.48,27.20M218.00,37.30L216.72,30.65M218.00,37.30L216.62,27.68M218.00,37.30L217.01,30.83M218.00,37.30L217.50,28.17M218.00,37.30L217.66,26.30M218.00,37.30L218.08,26.12M218.00,37.30L218.13,26.63M218.00,37.30L218.62,26.08M218.00,37.30L218.97,30.37M218.00,37.30L218.78,29.59M218.00,37.30L220.00,28.57M218.00,37.30L219.87,29.28M218.00,37.30L220.19,28.89M218.00,37.30L220.65,27.98M218.00,37.30L221.70,26.83M218.00,37.30L222.25,26.92M218.00,37.30L222.94,26.95M218.00,37.30L221.32,30.67M218.00,37.30L223.67,27.46M218.00,37.30L223.16,29.18M203.40,40.00L199.44,36.76M203.40,40.00L198.65,35.42M203.40,40.00L200.30,36.93M203.40,40.00L198.51,33.71M203.40,40.00L198.81,34.22M203.40,40.00L200.81,35.94M203.40,40.00L199.85,33.65M203.40,40.00L201.82,36.05M203.40,40.00L201.99,35.98M203.40,40.00L201.97,34.54M203.40,40.00L202.06,32.17M203.40,40.00L202.29,32.08M203.40,40.00L203.00,35.58M203.40,40.00L203.44,35.82M203.40,40.00L203.63,34.04M203.40,40.00L204.13,35.21M226.60,53.20L224.99,43.85M226.60,53.20L225.74,43.39M226.60,53.20L226.80,45.90M226.60,53.20L226.89,45.20M226.60,53.20L227.51,44.90M226.60,53.20L227.90,44.84M226.60,53.20L228.56,45.51M226.60,53.20L228.80,44.59M226.60,53.20L228.53,46.58M226.60,53.20L229.83,45.88M226.60,53.20L228.69,48.57M226.60,53.20L230.31,45.80M226.60,53.20L230.48,45.71M226.60,53.20L229.65,48.70M226.60,53.20L231.28,47.03M226.60,53.20L231.27,47.76M226.60,53.20L232.82,46.74M226.60,53.20L230.30,49.22M226.60,53.20L234.15,46.85M226.60,53.20L232.54,48.30M226.60,53.20L232.38,49.25M226.60,53.20L232.46,49.45M226.60,53.20L233.86,49.09M226.60,53.20L233.11,49.91M226.60,53.20L231.46,51.35M226.60,53.20L235.06,50.29M226.60,53.20L232.76,51.26M226.60,53.20L233.02,51.91M226.60,53.20L234.03,51.62M226.60,53.20L232.28,52.62M194.80,64.20L189.15,63.81M194.80,64.20L188.84,62.98M194.80,64.20L190.08,62.83M194.80,64.20L188.25,62.12M194.80,64.20L189.26,61.56M194.80,64.20L190.61,62.15M194.80,64.20L190.57,61.51M194.80,64.20L188.94,59.52M194.80,64.20L190.62,60.76M194.80,64.20L190.20,59.14M194.80,64.20L191.31,59.68M194.80,64.20L191.49,59.84M194.80,64.20L189.80,57.85M194.80,64.20L189.54,56.90M194.80,64.20L190.30,56.46M194.80,64.20L192.07,57.46M194.80,64.20L190.33,53.34M194.80,64.20L192.32,52.52M194.80,64.20L192.85,52.59M194.80,64.20L194.61,56.46M228.00,71.00L229.28,64.68M228.00,71.00L229.85,65.19M228.00,71.00L230.22,65.53M228.00,71.00L230.66,66.07M228.00,71.00L231.53,66.35M228.00,71.00L231.96,67.07M228.00,71.00L232.99,67.16M228.00,71.00L233.60,67.66M228.00,71.00L233.62,68.47M228.00,71.00L233.85,68.53M220.00,84.60L215.22,83.93M220.00,84.60L214.56,83.20M220.00,84.60L213.44,82.66M220.00,84.60L215.36,82.80M220.00,84.60L213.88,82.07M220.00,84.60L214.31,81.66M220.00,84.60L216.18,82.39M220.00,84.60L214.65,80.91M220.00,84.60L214.79,80.83M220.00,84.60L215.34,80.11M220.00,84.60L217.58,82.02M220.00,84.60L215.66,79.59M220.00,84.60L216.92,81.03M220.00,84.60L216.69,80.05M220.00,84.60L217.15,79.97M220.00,84.60L218.46,81.45M220.00,84.60L218.14,80.93M220.00,84.60L218.50,81.06M220.00,84.60L218.36,78.20M220.00,84.60L218.45,79.28M220.00,84.60L219.04,79.82M220.00,84.60L219.20,78.65M220.00,84.60L219.76,79.55M220.00,84.60L219.86,79.67M220.00,84.60L220.15,78.89M220.00,84.60L220.76,79.54M220.00,84.60L220.62,80.31M220.00,84.60L221.36,78.89M220.00,84.60L221.70,79.77M220.00,84.60L222.31,79.14M220.00,84.60L222.09,79.96M220.00,84.60L222.91,79.16M220.00,84.60L223.18,79.34M220.00,84.60L222.64,80.82M220.00,84.60L223.85,79.81M220.00,84.60L223.36,80.53M220.00,84.60L224.73,79.89M220.00,84.60L224.00,81.44M220.00,84.60L225.26,80.91M220.00,84.60L224.41,81.47M220.00,84.60L225.46,81.09M220.00,84.60L226.02,81.66M220.00,84.60L225.63,82.35M220.00,84.60L225.44,82.77M182.00,90.80L173.39,94.00M182.00,90.80L176.56,92.62M182.00,90.80L177.47,91.72M182.00,90.80L176.87,91.99M182.00,90.80L175.95,91.42M182.00,90.80L171.45,92.39M182.00,90.80L171.37,91.82M182.00,90.80L171.36,90.75M182.00,90.80L172.89,90.10M182.00,90.80L177.51,90.33M182.00,90.80L173.40,89.56M182.00,90.80L176.74,89.84M182.00,90.80L171.12,88.28M182.00,90.80L174.81,89.35M182.00,90.80L171.86,87.73M182.00,90.80L176.19,88.98M182.00,90.80L173.19,87.62M182.00,90.80L174.89,87.43M182.00,90.80L174.88,87.40M182.00,90.80L174.89,87.04M182.00,90.80L174.44,86.66M182.00,90.80L175.57,86.03M182.00,90.80L177.33,87.20M182.00,90.80L174.16,84.28M182.00,90.80L175.52,84.95M182.00,90.80L175.08,84.25M182.00,90.80L178.15,86.47M182.00,90.80L174.95,83.49M182.00,90.80L176.80,83.79M182.00,90.80L176.00,82.82M182.00,90.80L177.96,85.24M182.00,90.80L176.94,83.15M182.00,90.80L178.68,85.13M182.00,90.80L177.13,80.64M182.00,90.80L177.73,81.86M182.00,90.80L177.91,80.87M182.00,90.80L179.78,84.30M182.00,90.80L180.61,86.68M182.00,90.80L180.04,83.27M182.00,90.80L180.16,83.41M150.10,96.90L140.82,95.94M150.10,96.90L140.53,95.47M150.10,96.90L141.33,94.68M150.10,96.90L141.13,94.02M150.10,96.90L141.88,93.31M150.10,96.90L141.74,92.96M150.10,96.90L142.64,92.39M188.00,112.50L185.36,121.45M188.00,112.50L186.33,117.64M188.00,112.50L185.22,120.26M188.00,112.50L183.99,120.92M188.00,112.50L185.28,117.28M188.00,112.50L185.29,117.42M188.00,112.50L183.67,119.44M188.00,112.50L182.27,119.54M188.00,112.50L182.43,119.46M188.00,112.50L183.52,117.45M188.00,112.50L184.87,115.34M188.00,112.50L181.57,118.47M188.00,112.50L183.10,116.41M188.00,112.50L181.31,116.95M188.00,112.50L182.92,115.92M188.00,112.50L181.80,115.83M188.00,112.50L181.22,115.87M188.00,112.50L181.87,114.59M188.00,112.50L183.70,113.91M188.00,112.50L180.35,114.79M188.00,112.50L179.27,114.75M188.00,112.50L183.70,112.99M188.00,112.50L181.63,112.86M188.00,112.50L179.57,112.66M188.00,112.50L179.96,112.61M188.00,112.50L179.37,111.82M188.00,112.50L179.62,111.72M188.00,112.50L180.17,110.75M188.00,112.50L183.64,111.48M188.00,112.50L182.00,110.77M188.00,112.50L180.47,109.67M188.00,112.50L183.35,110.54M188.00,112.50L181.01,109.02M188.00,112.50L179.94,108.43M188.00,112.50L184.17,110.03M188.00,112.50L184.26,109.62M159.60,128.00L156.57,137.91M159.60,128.00L156.26,136.63M159.60,128.00L156.12,135.80M159.60,128.00L157.09,133.46M159.60,128.00L155.11,137.30M159.60,128.00L154.67,135.74M159.60,128.00L155.16,134.35M159.60,128.00L155.07,134.53M159.60,128.00L156.78,131.25M159.60,128.00L155.15,133.05M159.60,128.00L154.10,133.40M159.60,128.00L153.81,133.68M159.60,128.00L151.50,134.96M159.60,128.00L150.97,135.03M159.60,128.00L154.12,132.29M159.60,128.00L155.31,131.06M159.60,128.00L150.49,133.02M159.60,128.00L154.27,131.05M159.60,128.00L150.14,132.58M159.60,128.00L149.75,131.75M159.60,128.00L154.26,129.90M159.60,128.00L153.72,129.93M159.60,128.00L150.56,130.39M159.60,128.00L153.04,129.65M159.60,128.00L155.53,128.58M159.60,128.00L148.26,129.07M159.60,128.00L151.66,128.26M159.60,128.00L150.15,128.28M159.60,128.00L147.73,127.71M159.60,128.00L152.40,127.46M159.60,128.00L150.94,126.79M159.60,128.00L149.33,126.38M159.60,128.00L149.03,126.52M159.60,128.00L151.08,125.79M159.60,128.00L151.38,125.60M159.60,128.00L150.92,125.36M159.60,128.00L151.20,125.18M159.60,128.00L151.94,124.46M159.60,128.00L149.10,122.67M159.60,128.00L154.87,125.11M159.60,128.00L151.48,122.64M159.60,128.00L153.00,123.94M159.60,128.00L155.67,125.22M159.60,128.00L150.67,120.58M159.60,128.00L151.10,120.60M159.60,128.00L155.75,124.03M159.60,128.00L153.37,120.73M159.60,128.00L153.30,119.81M159.60,128.00L155.11,121.85M159.60,128.00L153.25,118.27M159.60,128.00L155.38,120.76M159.60,128.00L155.46,120.29M159.60,128.00L157.48,124.25M159.60,128.00L156.75,122.43M159.60,128.00L156.00,119.93M238.10,102.40L244.31,96.45M238.10,102.40L244.90,96.15M238.10,102.40L244.31,97.11M238.10,102.40L244.46,97.96M238.10,102.40L246.67,96.29M238.10,102.40L244.66,98.71M238.10,102.40L245.61,98.30M238.10,102.40L244.01,99.72M238.10,102.40L243.87,99.69M238.10,102.40L243.65,100.64M238.10,102.40L244.10,100.60M238.10,102.40L243.94,100.80M238.10,102.40L244.02,101.22M238.10,102.40L243.53,101.37M238.10,102.40L246.36,101.39M238.10,102.40L242.74,102.01M238.10,102.40L245.90,102.45M238.10,102.40L243.04,102.81M238.10,102.40L245.78,103.19M238.10,102.40L248.87,103.62M238.10,102.40L243.39,103.38M238.10,102.40L243.91,103.94M238.10,102.40L245.10,104.76M238.10,102.40L242.81,103.97M238.10,102.40L244.34,105.30M238.10,102.40L245.30,106.25M238.10,102.40L244.10,106.13M238.10,102.40L243.96,105.87M238.10,102.40L245.40,107.88M238.10,102.40L242.40,105.63M238.10,102.40L246.19,109.64M238.10,102.40L241.29,105.49M238.10,102.40L241.97,106.09M238.10,102.40L241.36,105.93M238.10,102.40L244.12,109.44M238.10,102.40L241.50,107.71M218.50,132.30L222.79,136.57M218.50,132.30L222.63,137.37M218.50,132.30L221.39,137.05M218.50,132.30L221.43,137.76M218.50,132.30L220.17,137.67M218.50,132.30L220.09,138.57M218.50,132.30L219.36,138.19M218.50,132.30L218.50,138.58M218.50,132.30L217.45,137.92M172.80,134.50L171.45,141.19M172.80,134.50L170.81,140.80M172.80,134.50L170.24,140.35M172.80,134.50L170.06,140.09M172.80,134.50L169.16,139.91M172.80,134.50L169.15,139.45M172.80,134.50L168.11,139.25M172.80,134.50L167.88,138.61M172.80,134.50L167.82,138.07M172.80,134.50L167.56,137.37M174.70,148.00L175.96,156.72M174.70,148.00L175.03,155.79M174.70,148.00L174.79,156.94M174.70,148.00L173.70,156.94M174.70,148.00L172.93,156.15M174.70,148.00L172.15,156.39M174.70,148.00L172.16,155.81M174.70,148.00L171.75,155.72M174.70,148.00L170.71,154.71M227.10,152.10L232.40,153.36M227.10,152.10L237.14,154.44M227.10,152.10L231.49,153.42M227.10,152.10L236.83,155.42M227.10,152.10L230.72,153.72M227.10,152.10L238.30,157.22M227.10,152.10L235.73,156.53M227.10,152.10L236.69,157.86M227.10,152.10L236.33,158.50M227.10,152.10L232.21,155.94M227.10,152.10L231.09,155.16M227.10,152.10L231.05,155.91M227.10,152.10L236.27,160.30M227.10,152.10L235.43,160.57M227.10,152.10L233.16,158.70M227.10,152.10L234.34,161.02M227.10,152.10L232.85,160.60M227.10,152.10L233.08,162.21M227.10,152.10L232.16,160.71M227.10,152.10L229.60,156.96M227.10,152.10L230.85,161.29M227.10,152.10L229.32,158.30M227.10,152.10L229.97,160.57M227.10,152.10L228.39,156.94M227.10,152.10L229.40,160.91M227.10,152.10L229.37,161.46M227.10,152.10L228.15,160.65M227.10,152.10L227.95,162.07M227.10,152.10L227.77,160.07M227.10,152.10L226.76,159.95M227.10,152.10L226.95,157.20M227.10,152.10L226.77,158.22M227.10,152.10L225.22,162.77M227.10,152.10L224.45,164.24M227.10,152.10L224.30,163.87M227.10,152.10L224.80,160.36M227.10,152.10L222.89,163.27M227.10,152.10L223.50,160.46M227.10,152.10L223.53,159.79M227.10,152.10L221.29,162.64M227.10,152.10L221.54,162.87M227.10,152.10L224.53,156.69M227.10,152.10L222.80,158.21M227.10,152.10L221.00,160.33M227.10,152.10L220.61,160.93M227.10,152.10L221.47,158.72M227.10,152.10L219.58,160.04M227.10,152.10L221.55,157.01M299.20,146.50L306.40,146.83M299.20,146.50L306.01,147.64M299.20,146.50L306.84,148.25M299.20,146.50L306.78,149.44M299.20,146.50L306.26,150.24M299.20,146.50L305.33,149.93M299.20,146.50L305.37,150.64M299.20,146.50L304.96,151.36M299.20,146.50L304.91,152.05M148.70,187.80L154.16,191.45M148.70,187.80L154.40,193.21M148.70,187.80L152.57,191.83M148.70,187.80L151.15,191.35M148.70,187.80L152.37,193.57M148.70,187.80L150.80,192.56M148.70,187.80L150.59,192.85M148.70,187.80L149.85,194.28M148.70,187.80L149.05,195.58M148.70,187.80L148.42,192.26M148.70,187.80L148.32,192.12M148.70,187.80L147.37,193.69M148.70,187.80L146.73,194.42M148.70,187.80L146.39,193.24M148.70,187.80L144.76,194.58M148.70,187.80L145.26,192.31M148.70,187.80L144.46,192.63M148.70,187.80L142.95,192.45M148.70,187.80L141.96,191.86M148.70,187.80L144.29,190.24M148.70,187.80L141.35,190.42M148.70,187.80L141.03,189.85M244.70,23.70L247.38,15.61M244.70,23.70L247.47,16.09M244.70,23.70L249.00,15.20M244.70,23.70L249.44,16.25M244.70,23.70L250.19,15.86M244.70,23.70L250.50,16.76M154.80,71.80L147.12,68.30M154.80,71.80L147.74,68.20M154.80,71.80L147.21,66.66M154.80,71.80L148.22,66.79M154.80,71.80L148.42,66.42M154.80,71.80L149.09,65.72M142.60,114.30L134.36,115.49M142.60,114.30L133.78,115.61M142.60,114.30L133.18,114.99M142.60,114.30L133.03,113.97M142.60,114.30L134.50,113.68M142.60,114.30L133.72,113.09M142.60,114.30L134.23,112.68M196.00,140.20L195.62,149.74M196.00,140.20L195.50,149.34M196.00,140.20L194.57,148.99M196.00,140.20L193.21,149.41M196.00,140.20L193.15,148.09M204.60,146.50L205.25,154.84M204.60,146.50L205.13,155.90M204.60,146.50L204.47,155.01M204.60,146.50L203.07,155.98M204.60,146.50L203.10,155.08M253.00,64.40L255.10,59.61M253.00,64.40L256.37,59.31M253.00,64.40L256.60,60.47M253.00,64.40L257.15,61.30M253.00,64.40L258.32,61.94M253.00,64.40L258.60,63.11M283.00,137.30L297.39,138.79M283.00,137.30L300.19,138.48M283.00,137.30L298.19,138.34M283.00,137.30L298.09,139.33M283.00,137.30L297.40,139.65M283.00,137.30L300.02,139.89M283.00,137.30L299.84,140.08M283.00,137.30L300.01,140.55M283.00,137.30L298.76,141.54M230.20,111.70L244.95,120.51M230.20,111.70L244.42,122.07M230.20,111.70L246.56,122.84M230.20,111.70L243.37,122.71M230.20,111.70L244.19,124.29M230.20,111.70L243.49,122.88M230.20,111.70L245.41,125.24M230.20,111.70L243.05,123.50M230.20,111.70L242.88,123.66M230.20,111.70L244.14,126.19M188.00,112.50L188.95,115.49M188.00,112.50L188.59,117.46M188.00,112.50L188.06,115.80M188.00,112.50L187.93,117.41M188.00,112.50L187.45,116.87M188.00,112.50L187.48,115.03M188.00,112.50L186.65,116.80M188.00,112.50L186.22,116.21M188.00,112.50L186.03,116.03M188.00,112.50L185.71,115.82M196.50,126.50L199.13,128.87M196.50,126.50L199.14,129.55M196.50,126.50L198.30,129.53M196.50,126.50L197.96,130.19M196.50,126.50L197.59,129.91M196.50,126.50L197.03,129.89M196.50,126.50L196.22,130.17M196.50,126.50L195.76,129.90" stroke="#3a3a3a" stroke-width="0.3" fill="none"/>
<g fill="#fff" fill-opacity="0.55" stroke="#2248a8" stroke-width="0.5"><circle cx="212.47" cy="29.57" r="0.66"/><circle cx="212.73" cy="29.06" r="0.66"/><circle cx="214.73" cy="31.36" r="0.66"/><circle cx="212.54" cy="27.95" r="0.66"/><circle cx="214.48" cy="30.28" r="0.66"/><circle cx="214.88" cy="28.72" r="0.66"/><circle cx="215.06" cy="28.62" r="0.66"/><circle cx="215.77" cy="30.31" r="0.66"/><circle cx="215.07" cy="26.74" r="0.66"/><circle cx="215.48" cy="27.20" r="0.66"/><circle cx="216.72" cy="30.65" r="0.66"/><circle cx="216.62" cy="27.68" r="0.66"/><circle cx="217.01" cy="30.83" r="0.66"/><circle cx="217.50" cy="28.17" r="0.66"/><circle cx="217.66" cy="26.30" r="0.66"/><circle cx="218.08" cy="26.12" r="0.66"/><circle cx="218.13" cy="26.63" r="0.66"/><circle cx="218.62" cy="26.08" r="0.66"/><circle cx="218.97" cy="30.37" r="0.66"/><circle cx="218.78" cy="29.59" r="0.66"/><circle cx="220.00" cy="28.57" r="0.66"/><circle cx="219.87" cy="29.28" r="0.66"/><circle cx="220.19" cy="28.89" r="0.66"/><circle cx="220.65" cy="27.98" r="0.66"/><circle cx="221.70" cy="26.83" r="0.66"/><circle cx="222.25" cy="26.92" r="0.66"/><circle cx="222.94" cy="26.95" r="0.66"/><circle cx="221.32" cy="30.67" r="0.66"/><circle cx="223.67" cy="27.46" r="0.66"/><circle cx="223.16" cy="29.18" r="0.66"/><circle cx="199.44" cy="36.76" r="0.66"/><circle cx="198.65" cy="35.42" r="0.66"/><circle cx="200.30" cy="36.93" r="0.66"/><circle cx="198.51" cy="33.71" r="0.66"/><circle cx="198.81" cy="34.22" r="0.66"/><circle cx="200.81" cy="35.94" r="0.66"/><circle cx="199.85" cy="33.65" r="0.66"/><circle cx="201.82" cy="36.05" r="0.66"/><circle cx="201.99" cy="35.98" r="0.66"/><circle cx="201.97" cy="34.54" r="0.66"/><circle cx="202.06" cy="32.17" r="0.66"/><circle cx="202.29" cy="32.08" r="0.66"/><circle cx="203.00" cy="35.58" r="0.66"/><circle cx="203.44" cy="35.82" r="0.66"/><circle cx="203.63" cy="34.04" r="0.66"/><circle cx="204.13" cy="35.21" r="0.66"/><circle cx="224.99" cy="43.85" r="0.66"/><circle cx="225.74" cy="43.39" r="0.66"/><circle cx="226.80" cy="45.90" r="0.66"/><circle cx="226.89" cy="45.20" r="0.66"/><circle cx="227.51" cy="44.90" r="0.66"/><circle cx="227.90" cy="44.84" r="0.66"/><circle cx="228.56" cy="45.51" r="0.66"/><circle cx="228.80" cy="44.59" r="0.66"/><circle cx="228.53" cy="46.58" r="0.66"/><circle cx="229.83" cy="45.88" r="0.66"/><circle cx="228.69" cy="48.57" r="0.66"/><circle cx="230.31" cy="45.80" r="0.66"/><circle cx="230.48" cy="45.71" r="0.66"/><circle cx="229.65" cy="48.70" r="0.66"/><circle cx="231.28" cy="47.03" r="0.66"/><circle cx="231.27" cy="47.76" r="0.66"/><circle cx="232.82" cy="46.74" r="0.66"/><circle cx="230.30" cy="49.22" r="0.66"/><circle cx="234.15" cy="46.85" r="0.66"/><circle cx="232.54" cy="48.30" r="0.66"/><circle cx="232.38" cy="49.25" r="0.66"/><circle cx="232.46" cy="49.45" r="0.66"/><circle cx="233.86" cy="49.09" r="0.66"/><circle cx="233.11" cy="49.91" r="0.66"/><circle cx="231.46" cy="51.35" r="0.66"/><circle cx="235.06" cy="50.29" r="0.66"/><circle cx="232.76" cy="51.26" r="0.66"/><circle cx="233.02" cy="51.91" r="0.66"/><circle cx="234.03" cy="51.62" r="0.66"/><circle cx="232.28" cy="52.62" r="0.66"/><circle cx="189.15" cy="63.81" r="0.66"/><circle cx="188.84" cy="62.98" r="0.66"/><circle cx="190.08" cy="62.83" r="0.66"/><circle cx="188.25" cy="62.12" r="0.66"/><circle cx="189.26" cy="61.56" r="0.66"/><circle cx="190.61" cy="62.15" r="0.66"/><circle cx="190.57" cy="61.51" r="0.66"/><circle cx="188.94" cy="59.52" r="0.66"/><circle cx="190.62" cy="60.76" r="0.66"/><circle cx="190.20" cy="59.14" r="0.66"/><circle cx="191.31" cy="59.68" r="0.66"/><circle cx="191.49" cy="59.84" r="0.66"/><circle cx="189.80" cy="57.85" r="0.66"/><circle cx="189.54" cy="56.90" r="0.66"/><circle cx="190.30" cy="56.46" r="0.66"/><circle cx="192.07" cy="57.46" r="0.66"/><circle cx="190.33" cy="53.34" r="0.66"/><circle cx="192.32" cy="52.52" r="0.66"/><circle cx="192.85" cy="52.59" r="0.66"/><circle cx="194.61" cy="56.46" r="0.66"/><circle cx="229.28" cy="64.68" r="0.66"/><circle cx="229.85" cy="65.19" r="0.66"/><circle cx="230.22" cy="65.53" r="0.66"/><circle cx="230.66" cy="66.07" r="0.66"/><circle cx="231.53" cy="66.35" r="0.66"/><circle cx="231.96" cy="67.07" r="0.66"/><circle cx="232.99" cy="67.16" r="0.66"/><circle cx="233.60" cy="67.66" r="0.66"/><circle cx="233.62" cy="68.47" r="0.66"/><circle cx="233.85" cy="68.53" r="0.66"/><circle cx="215.22" cy="83.93" r="0.66"/><circle cx="214.56" cy="83.20" r="0.66"/><circle cx="213.44" cy="82.66" r="0.66"/><circle cx="215.36" cy="82.80" r="0.66"/><circle cx="213.88" cy="82.07" r="0.66"/><circle cx="214.31" cy="81.66" r="0.66"/><circle cx="216.18" cy="82.39" r="0.66"/><circle cx="214.65" cy="80.91" r="0.66"/><circle cx="214.79" cy="80.83" r="0.66"/><circle cx="215.34" cy="80.11" r="0.66"/><circle cx="217.58" cy="82.02" r="0.66"/><circle cx="215.66" cy="79.59" r="0.66"/><circle cx="216.92" cy="81.03" r="0.66"/><circle cx="216.69" cy="80.05" r="0.66"/><circle cx="217.15" cy="79.97" r="0.66"/><circle cx="218.46" cy="81.45" r="0.66"/><circle cx="218.14" cy="80.93" r="0.66"/><circle cx="218.50" cy="81.06" r="0.66"/><circle cx="218.36" cy="78.20" r="0.66"/><circle cx="218.45" cy="79.28" r="0.66"/><circle cx="219.04" cy="79.82" r="0.66"/><circle cx="219.20" cy="78.65" r="0.66"/><circle cx="219.76" cy="79.55" r="0.66"/><circle cx="219.86" cy="79.67" r="0.66"/><circle cx="220.15" cy="78.89" r="0.66"/><circle cx="220.76" cy="79.54" r="0.66"/><circle cx="220.62" cy="80.31" r="0.66"/><circle cx="221.36" cy="78.89" r="0.66"/><circle cx="221.70" cy="79.77" r="0.66"/><circle cx="222.31" cy="79.14" r="0.66"/><circle cx="222.09" cy="79.96" r="0.66"/><circle cx="222.91" cy="79.16" r="0.66"/><circle cx="223.18" cy="79.34" r="0.66"/><circle cx="222.64" cy="80.82" r="0.66"/><circle cx="223.85" cy="79.81" r="0.66"/><circle cx="223.36" cy="80.53" r="0.66"/><circle cx="224.73" cy="79.89" r="0.66"/><circle cx="224.00" cy="81.44" r="0.66"/><circle cx="225.26" cy="80.91" r="0.66"/><circle cx="224.41" cy="81.47" r="0.66"/><circle cx="225.46" cy="81.09" r="0.66"/><circle cx="226.02" cy="81.66" r="0.66"/><circle cx="225.63" cy="82.35" r="0.66"/><circle cx="225.44" cy="82.77" r="0.66"/><circle cx="173.39" cy="94.00" r="0.66"/><circle cx="176.56" cy="92.62" r="0.66"/><circle cx="177.47" cy="91.72" r="0.66"/><circle cx="176.87" cy="91.99" r="0.66"/><circle cx="175.95" cy="91.42" r="0.66"/><circle cx="171.45" cy="92.39" r="0.66"/><circle cx="171.37" cy="91.82" r="0.66"/><circle cx="171.36" cy="90.75" r="0.66"/><circle cx="172.89" cy="90.10" r="0.66"/><circle cx="177.51" cy="90.33" r="0.66"/><circle cx="173.40" cy="89.56" r="0.66"/><circle cx="176.74" cy="89.84" r="0.66"/><circle cx="171.12" cy="88.28" r="0.66"/><circle cx="174.81" cy="89.35" r="0.66"/><circle cx="171.86" cy="87.73" r="0.66"/><circle cx="176.19" cy="88.98" r="0.66"/><circle cx="173.19" cy="87.62" r="0.66"/><circle cx="174.89" cy="87.43" r="0.66"/><circle cx="174.88" cy="87.40" r="0.66"/><circle cx="174.89" cy="87.04" r="0.66"/><circle cx="174.44" cy="86.66" r="0.66"/><circle cx="175.57" cy="86.03" r="0.66"/><circle cx="177.33" cy="87.20" r="0.66"/><circle cx="174.16" cy="84.28" r="0.66"/><circle cx="175.52" cy="84.95" r="0.66"/><circle cx="175.08" cy="84.25" r="0.66"/><circle cx="178.15" cy="86.47" r="0.66"/><circle cx="174.95" cy="83.49" r="0.66"/><circle cx="176.80" cy="83.79" r="0.66"/><circle cx="176.00" cy="82.82" r="0.66"/><circle cx="177.96" cy="85.24" r="0.66"/><circle cx="176.94" cy="83.15" r="0.66"/><circle cx="178.68" cy="85.13" r="0.66"/><circle cx="177.13" cy="80.64" r="0.66"/><circle cx="177.73" cy="81.86" r="0.66"/><circle cx="177.91" cy="80.87" r="0.66"/><circle cx="179.78" cy="84.30" r="0.66"/><circle cx="180.61" cy="86.68" r="0.66"/><circle cx="180.04" cy="83.27" r="0.66"/><circle cx="180.16" cy="83.41" r="0.66"/><circle cx="140.82" cy="95.94" r="0.66"/><circle cx="140.53" cy="95.47" r="0.66"/><circle cx="141.33" cy="94.68" r="0.66"/><circle cx="141.13" cy="94.02" r="0.66"/><circle cx="141.88" cy="93.31" r="0.66"/><circle cx="141.74" cy="92.96" r="0.66"/><circle cx="142.64" cy="92.39" r="0.66"/><circle cx="185.36" cy="121.45" r="0.66"/><circle cx="186.33" cy="117.64" r="0.66"/><circle cx="185.22" cy="120.26" r="0.66"/><circle cx="183.99" cy="120.92" r="0.66"/><circle cx="185.28" cy="117.28" r="0.66"/><circle cx="185.29" cy="117.42" r="0.66"/><circle cx="183.67" cy="119.44" r="0.66"/><circle cx="182.27" cy="119.54" r="0.66"/><circle cx="182.43" cy="119.46" r="0.66"/><circle cx="183.52" cy="117.45" r="0.66"/><circle cx="184.87" cy="115.34" r="0.66"/><circle cx="181.57" cy="118.47" r="0.66"/><circle cx="183.10" cy="116.41" r="0.66"/><circle cx="181.31" cy="116.95" r="0.66"/><circle cx="182.92" cy="115.92" r="0.66"/><circle cx="181.80" cy="115.83" r="0.66"/><circle cx="181.22" cy="115.87" r="0.66"/><circle cx="181.87" cy="114.59" r="0.66"/><circle cx="183.70" cy="113.91" r="0.66"/><circle cx="180.35" cy="114.79" r="0.66"/><circle cx="179.27" cy="114.75" r="0.66"/><circle cx="183.70" cy="112.99" r="0.66"/><circle cx="181.63" cy="112.86" r="0.66"/><circle cx="179.57" cy="112.66" r="0.66"/><circle cx="179.96" cy="112.61" r="0.66"/><circle cx="179.37" cy="111.82" r="0.66"/><circle cx="179.62" cy="111.72" r="0.66"/><circle cx="180.17" cy="110.75" r="0.66"/><circle cx="183.64" cy="111.48" r="0.66"/><circle cx="182.00" cy="110.77" r="0.66"/><circle cx="180.47" cy="109.67" r="0.66"/><circle cx="183.35" cy="110.54" r="0.66"/><circle cx="181.01" cy="109.02" r="0.66"/><circle cx="179.94" cy="108.43" r="0.66"/><circle cx="184.17" cy="110.03" r="0.66"/><circle cx="184.26" cy="109.62" r="0.66"/><circle cx="156.57" cy="137.91" r="0.66"/><circle cx="156.26" cy="136.63" r="0.66"/><circle cx="156.12" cy="135.80" r="0.66"/><circle cx="157.09" cy="133.46" r="0.66"/><circle cx="155.11" cy="137.30" r="0.66"/><circle cx="154.67" cy="135.74" r="0.66"/><circle cx="155.16" cy="134.35" r="0.66"/><circle cx="155.07" cy="134.53" r="0.66"/><circle cx="156.78" cy="131.25" r="0.66"/><circle cx="155.15" cy="133.05" r="0.66"/><circle cx="154.10" cy="133.40" r="0.66"/><circle cx="153.81" cy="133.68" r="0.66"/><circle cx="151.50" cy="134.96" r="0.66"/><circle cx="150.97" cy="135.03" r="0.66"/><circle cx="154.12" cy="132.29" r="0.66"/><circle cx="155.31" cy="131.06" r="0.66"/><circle cx="150.49" cy="133.02" r="0.66"/><circle cx="154.27" cy="131.05" r="0.66"/><circle cx="150.14" cy="132.58" r="0.66"/><circle cx="149.75" cy="131.75" r="0.66"/><circle cx="154.26" cy="129.90" r="0.66"/><circle cx="153.72" cy="129.93" r="0.66"/><circle cx="150.56" cy="130.39" r="0.66"/><circle cx="153.04" cy="129.65" r="0.66"/><circle cx="155.53" cy="128.58" r="0.66"/><circle cx="148.26" cy="129.07" r="0.66"/><circle cx="151.66" cy="128.26" r="0.66"/><circle cx="150.15" cy="128.28" r="0.66"/><circle cx="147.73" cy="127.71" r="0.66"/><circle cx="152.40" cy="127.46" r="0.66"/><circle cx="150.94" cy="126.79" r="0.66"/><circle cx="149.33" cy="126.38" r="0.66"/><circle cx="149.03" cy="126.52" r="0.66"/><circle cx="151.08" cy="125.79" r="0.66"/><circle cx="151.38" cy="125.60" r="0.66"/><circle cx="150.92" cy="125.36" r="0.66"/><circle cx="151.20" cy="125.18" r="0.66"/><circle cx="151.94" cy="124.46" r="0.66"/><circle cx="149.10" cy="122.67" r="0.66"/><circle cx="154.87" cy="125.11" r="0.66"/><circle cx="151.48" cy="122.64" r="0.66"/><circle cx="153.00" cy="123.94" r="0.66"/><circle cx="155.67" cy="125.22" r="0.66"/><circle cx="150.67" cy="120.58" r="0.66"/><circle cx="151.10" cy="120.60" r="0.66"/><circle cx="155.75" cy="124.03" r="0.66"/><circle cx="153.37" cy="120.73" r="0.66"/><circle cx="153.30" cy="119.81" r="0.66"/><circle cx="155.11" cy="121.85" r="0.66"/><circle cx="153.25" cy="118.27" r="0.66"/><circle cx="155.38" cy="120.76" r="0.66"/><circle cx="155.46" cy="120.29" r="0.66"/><circle cx="157.48" cy="124.25" r="0.66"/><circle cx="156.75" cy="122.43" r="0.66"/><circle cx="156.00" cy="119.93" r="0.66"/><circle cx="244.31" cy="96.45" r="0.66"/><circle cx="244.90" cy="96.15" r="0.66"/><circle cx="244.31" cy="97.11" r="0.66"/><circle cx="244.46" cy="97.96" r="0.66"/><circle cx="246.67" cy="96.29" r="0.66"/><circle cx="244.66" cy="98.71" r="0.66"/><circle cx="245.61" cy="98.30" r="0.66"/><circle cx="244.01" cy="99.72" r="0.66"/><circle cx="243.87" cy="99.69" r="0.66"/><circle cx="243.65" cy="100.64" r="0.66"/><circle cx="244.10" cy="100.60" r="0.66"/><circle cx="243.94" cy="100.80" r="0.66"/><circle cx="244.02" cy="101.22" r="0.66"/><circle cx="243.53" cy="101.37" r="0.66"/><circle cx="246.36" cy="101.39" r="0.66"/><circle cx="242.74" cy="102.01" r="0.66"/><circle cx="245.90" cy="102.45" r="0.66"/><circle cx="243.04" cy="102.81" r="0.66"/><circle cx="245.78" cy="103.19" r="0.66"/><circle cx="248.87" cy="103.62" r="0.66"/><circle cx="243.39" cy="103.38" r="0.66"/><circle cx="243.91" cy="103.94" r="0.66"/><circle cx="245.10" cy="104.76" r="0.66"/><circle cx="242.81" cy="103.97" r="0.66"/><circle cx="244.34" cy="105.30" r="0.66"/><circle cx="245.30" cy="106.25" r="0.66"/><circle cx="244.10" cy="106.13" r="0.66"/><circle cx="243.96" cy="105.87" r="0.66"/><circle cx="245.40" cy="107.88" r="0.66"/><circle cx="242.40" cy="105.63" r="0.66"/><circle cx="246.19" cy="109.64" r="0.66"/><circle cx="241.29" cy="105.49" r="0.66"/><circle cx="241.97" cy="106.09" r="0.66"/><circle cx="241.36" cy="105.93" r="0.66"/><circle cx="244.12" cy="109.44" r="0.66"/><circle cx="241.50" cy="107.71" r="0.66"/><circle cx="222.79" cy="136.57" r="0.66"/><circle cx="222.63" cy="137.37" r="0.66"/><circle cx="221.39" cy="137.05" r="0.66"/><circle cx="221.43" cy="137.76" r="0.66"/><circle cx="220.17" cy="137.67" r="0.66"/><circle cx="220.09" cy="138.57" r="0.66"/><circle cx="219.36" cy="138.19" r="0.66"/><circle cx="218.50" cy="138.58" r="0.66"/><circle cx="217.45" cy="137.92" r="0.66"/><circle cx="171.45" cy="141.19" r="0.66"/><circle cx="170.81" cy="140.80" r="0.66"/><circle cx="170.24" cy="140.35" r="0.66"/><circle cx="170.06" cy="140.09" r="0.66"/><circle cx="169.16" cy="139.91" r="0.66"/><circle cx="169.15" cy="139.45" r="0.66"/><circle cx="168.11" cy="139.25" r="0.66"/><circle cx="167.88" cy="138.61" r="0.66"/><circle cx="167.82" cy="138.07" r="0.66"/><circle cx="167.56" cy="137.37" r="0.66"/><circle cx="175.96" cy="156.72" r="0.66"/><circle cx="175.03" cy="155.79" r="0.66"/><circle cx="174.79" cy="156.94" r="0.66"/><circle cx="173.70" cy="156.94" r="0.66"/><circle cx="172.93" cy="156.15" r="0.66"/><circle cx="172.15" cy="156.39" r="0.66"/><circle cx="172.16" cy="155.81" r="0.66"/><circle cx="171.75" cy="155.72" r="0.66"/><circle cx="170.71" cy="154.71" r="0.66"/><circle cx="232.40" cy="153.36" r="0.66"/><circle cx="237.14" cy="154.44" r="0.66"/><circle cx="231.49" cy="153.42" r="0.66"/><circle cx="236.83" cy="155.42" r="0.66"/><circle cx="230.72" cy="153.72" r="0.66"/><circle cx="238.30" cy="157.22" r="0.66"/><circle cx="235.73" cy="156.53" r="0.66"/><circle cx="236.69" cy="157.86" r="0.66"/><circle cx="236.33" cy="158.50" r="0.66"/><circle cx="232.21" cy="155.94" r="0.66"/><circle cx="231.09" cy="155.16" r="0.66"/><circle cx="231.05" cy="155.91" r="0.66"/><circle cx="236.27" cy="160.30" r="0.66"/><circle cx="235.43" cy="160.57" r="0.66"/><circle cx="233.16" cy="158.70" r="0.66"/><circle cx="234.34" cy="161.02" r="0.66"/><circle cx="232.85" cy="160.60" r="0.66"/><circle cx="233.08" cy="162.21" r="0.66"/><circle cx="232.16" cy="160.71" r="0.66"/><circle cx="229.60" cy="156.96" r="0.66"/><circle cx="230.85" cy="161.29" r="0.66"/><circle cx="229.32" cy="158.30" r="0.66"/><circle cx="229.97" cy="160.57" r="0.66"/><circle cx="228.39" cy="156.94" r="0.66"/><circle cx="229.40" cy="160.91" r="0.66"/><circle cx="229.37" cy="161.46" r="0.66"/><circle cx="228.15" cy="160.65" r="0.66"/><circle cx="227.95" cy="162.07" r="0.66"/><circle cx="227.77" cy="160.07" r="0.66"/><circle cx="226.76" cy="159.95" r="0.66"/><circle cx="226.95" cy="157.20" r="0.66"/><circle cx="226.77" cy="158.22" r="0.66"/><circle cx="225.22" cy="162.77" r="0.66"/><circle cx="224.45" cy="164.24" r="0.66"/><circle cx="224.30" cy="163.87" r="0.66"/><circle cx="224.80" cy="160.36" r="0.66"/><circle cx="222.89" cy="163.27" r="0.66"/><circle cx="223.50" cy="160.46" r="0.66"/><circle cx="223.53" cy="159.79" r="0.66"/><circle cx="221.29" cy="162.64" r="0.66"/><circle cx="221.54" cy="162.87" r="0.66"/><circle cx="224.53" cy="156.69" r="0.66"/><circle cx="222.80" cy="158.21" r="0.66"/><circle cx="221.00" cy="160.33" r="0.66"/><circle cx="220.61" cy="160.93" r="0.66"/><circle cx="221.47" cy="158.72" r="0.66"/><circle cx="219.58" cy="160.04" r="0.66"/><circle cx="221.55" cy="157.01" r="0.66"/><circle cx="306.40" cy="146.83" r="0.66"/><circle cx="306.01" cy="147.64" r="0.66"/><circle cx="306.84" cy="148.25" r="0.66"/><circle cx="306.78" cy="149.44" r="0.66"/><circle cx="306.26" cy="150.24" r="0.66"/><circle cx="305.33" cy="149.93" r="0.66"/><circle cx="305.37" cy="150.64" r="0.66"/><circle cx="304.96" cy="151.36" r="0.66"/><circle cx="304.91" cy="152.05" r="0.66"/><circle cx="154.16" cy="191.45" r="0.66"/><circle cx="154.40" cy="193.21" r="0.66"/><circle cx="152.57" cy="191.83" r="0.66"/><circle cx="151.15" cy="191.35" r="0.66"/><circle cx="152.37" cy="193.57" r="0.66"/><circle cx="150.80" cy="192.56" r="0.66"/><circle cx="150.59" cy="192.85" r="0.66"/><circle cx="149.85" cy="194.28" r="0.66"/><circle cx="149.05" cy="195.58" r="0.66"/><circle cx="148.42" cy="192.26" r="0.66"/><circle cx="148.32" cy="192.12" r="0.66"/><circle cx="147.37" cy="193.69" r="0.66"/><circle cx="146.73" cy="194.42" r="0.66"/><circle cx="146.39" cy="193.24" r="0.66"/><circle cx="144.76" cy="194.58" r="0.66"/><circle cx="145.26" cy="192.31" r="0.66"/><circle cx="144.46" cy="192.63" r="0.66"/><circle cx="142.95" cy="192.45" r="0.66"/><circle cx="141.96" cy="191.86" r="0.66"/><circle cx="144.29" cy="190.24" r="0.66"/><circle cx="141.35" cy="190.42" r="0.66"/><circle cx="141.03" cy="189.85" r="0.66"/><circle cx="247.38" cy="15.61" r="0.66"/><circle cx="247.47" cy="16.09" r="0.66"/><circle cx="249.00" cy="15.20" r="0.66"/><circle cx="249.44" cy="16.25" r="0.66"/><circle cx="250.19" cy="15.86" r="0.66"/><circle cx="250.50" cy="16.76" r="0.66"/><circle cx="147.12" cy="68.30" r="0.66"/><circle cx="147.74" cy="68.20" r="0.66"/><circle cx="147.21" cy="66.66" r="0.66"/><circle cx="148.22" cy="66.79" r="0.66"/><circle cx="148.42" cy="66.42" r="0.66"/><circle cx="149.09" cy="65.72" r="0.66"/><circle cx="134.36" cy="115.49" r="0.66"/><circle cx="133.78" cy="115.61" r="0.66"/><circle cx="133.18" cy="114.99" r="0.66"/><circle cx="133.03" cy="113.97" r="0.66"/><circle cx="134.50" cy="113.68" r="0.66"/><circle cx="133.72" cy="113.09" r="0.66"/><circle cx="134.23" cy="112.68" r="0.66"/><circle cx="195.62" cy="149.74" r="0.66"/><circle cx="195.50" cy="149.34" r="0.66"/><circle cx="194.57" cy="148.99" r="0.66"/><circle cx="193.21" cy="149.41" r="0.66"/><circle cx="193.15" cy="148.09" r="0.66"/><circle cx="205.25" cy="154.84" r="0.66"/><circle cx="205.13" cy="155.90" r="0.66"/><circle cx="204.47" cy="155.01" r="0.66"/><circle cx="203.07" cy="155.98" r="0.66"/><circle cx="203.10" cy="155.08" r="0.66"/><circle cx="255.10" cy="59.61" r="0.66"/><circle cx="256.37" cy="59.31" r="0.66"/><circle cx="256.60" cy="60.47" r="0.66"/><circle cx="257.15" cy="61.30" r="0.66"/><circle cx="258.32" cy="61.94" r="0.66"/><circle cx="258.60" cy="63.11" r="0.66"/><circle cx="297.39" cy="138.79" r="0.66"/><circle cx="300.19" cy="138.48" r="0.66"/><circle cx="298.19" cy="138.34" r="0.66"/><circle cx="298.09" cy="139.33" r="0.66"/><circle cx="297.40" cy="139.65" r="0.66"/><circle cx="300.02" cy="139.89" r="0.66"/><circle cx="299.84" cy="140.08" r="0.66"/><circle cx="300.01" cy="140.55" r="0.66"/><circle cx="298.76" cy="141.54" r="0.66"/><circle cx="244.95" cy="120.51" r="0.66"/><circle cx="244.42" cy="122.07" r="0.66"/><circle cx="246.56" cy="122.84" r="0.66"/><circle cx="243.37" cy="122.71" r="0.66"/><circle cx="244.19" cy="124.29" r="0.66"/><circle cx="243.49" cy="122.88" r="0.66"/><circle cx="245.41" cy="125.24" r="0.66"/><circle cx="243.05" cy="123.50" r="0.66"/><circle cx="242.88" cy="123.66" r="0.66"/><circle cx="244.14" cy="126.19" r="0.66"/><circle cx="188.95" cy="115.49" r="0.66"/><circle cx="188.59" cy="117.46" r="0.66"/><circle cx="188.06" cy="115.80" r="0.66"/><circle cx="187.93" cy="117.41" r="0.66"/><circle cx="187.45" cy="116.87" r="0.66"/><circle cx="187.48" cy="115.03" r="0.66"/><circle cx="186.65" cy="116.80" r="0.66"/><circle cx="186.22" cy="116.21" r="0.66"/><circle cx="186.03" cy="116.03" r="0.66"/><circle cx="185.71" cy="115.82" r="0.66"/><circle cx="199.13" cy="128.87" r="0.66"/><circle cx="199.14" cy="129.55" r="0.66"/><circle cx="198.30" cy="129.53" r="0.66"/><circle cx="197.96" cy="130.19" r="0.66"/><circle cx="197.59" cy="129.91" r="0.66"/><circle cx="197.03" cy="129.89" r="0.66"/><circle cx="196.22" cy="130.17" r="0.66"/><circle cx="195.76" cy="129.90" r="0.66"/></g>
<g fill="#2d5bc4"><circle cx="212.84" cy="38.26" r="0.75"/><circle cx="223.50" cy="47.46" r="0.75"/><circle cx="210.56" cy="45.31" r="0.75"/><circle cx="204.26" cy="52.08" r="0.75"/><circle cx="211.48" cy="48.46" r="0.75"/><circle cx="202.96" cy="63.03" r="0.75"/><circle cx="212.98" cy="48.93" r="0.75"/><circle cx="206.48" cy="63.97" r="0.75"/><circle cx="212.92" cy="43.18" r="0.75"/><circle cx="203.95" cy="53.59" r="0.75"/><circle cx="199.28" cy="52.69" r="0.75"/><circle cx="199.33" cy="51.45" r="0.75"/><circle cx="204.97" cy="54.64" r="0.75"/><circle cx="210.38" cy="43.97" r="0.75"/><circle cx="239.47" cy="32.23" r="0.75"/><circle cx="231.23" cy="45.66" r="0.75"/><circle cx="219.30" cy="54.87" r="0.75"/><circle cx="203.17" cy="58.57" r="0.75"/><circle cx="236.64" cy="57.46" r="0.75"/><circle cx="242.60" cy="59.99" r="0.75"/><circle cx="225.25" cy="59.64" r="0.75"/><circle cx="221.93" cy="75.44" r="0.75"/><circle cx="227.55" cy="65.23" r="0.75"/><circle cx="220.03" cy="58.53" r="0.75"/><circle cx="211.29" cy="65.62" r="0.75"/><circle cx="217.56" cy="56.33" r="0.75"/><circle cx="207.34" cy="59.86" r="0.75"/><circle cx="260.27" cy="60.32" r="0.75"/><circle cx="248.72" cy="75.33" r="0.75"/><circle cx="242.58" cy="90.97" r="0.75"/><circle cx="228.14" cy="80.79" r="0.75"/><circle cx="210.65" cy="86.13" r="0.75"/><circle cx="195.54" cy="88.59" r="0.75"/><circle cx="210.66" cy="92.74" r="0.75"/><circle cx="198.95" cy="102.96" r="0.75"/><circle cx="219.69" cy="90.22" r="0.75"/><circle cx="231.49" cy="95.90" r="0.75"/><circle cx="223.18" cy="93.04" r="0.75"/><circle cx="227.43" cy="104.34" r="0.75"/><circle cx="222.99" cy="79.51" r="0.75"/><circle cx="209.96" cy="76.47" r="0.75"/><circle cx="200.55" cy="68.85" r="0.75"/><circle cx="214.82" cy="79.09" r="0.75"/><circle cx="204.60" cy="68.20" r="0.75"/><circle cx="216.04" cy="94.79" r="0.75"/><circle cx="211.46" cy="106.57" r="0.75"/><circle cx="215.16" cy="99.55" r="0.75"/><circle cx="211.44" cy="111.02" r="0.75"/><circle cx="211.40" cy="99.94" r="0.75"/><circle cx="202.75" cy="115.36" r="0.75"/><circle cx="212.75" cy="79.50" r="0.75"/><circle cx="211.97" cy="85.88" r="0.75"/><circle cx="206.37" cy="91.79" r="0.75"/><circle cx="192.15" cy="99.29" r="0.75"/><circle cx="219.55" cy="98.96" r="0.75"/><circle cx="218.92" cy="118.84" r="0.75"/><circle cx="225.02" cy="86.92" r="0.75"/><circle cx="174.07" cy="92.32" r="0.75"/><circle cx="157.77" cy="95.43" r="0.75"/><circle cx="184.79" cy="100.91" r="0.75"/><circle cx="172.14" cy="89.21" r="0.75"/><circle cx="185.96" cy="82.56" r="0.75"/><circle cx="191.48" cy="71.10" r="0.75"/><circle cx="183.03" cy="98.15" r="0.75"/><circle cx="174.52" cy="85.58" r="0.75"/><circle cx="163.29" cy="77.73" r="0.75"/><circle cx="189.15" cy="82.65" r="0.75"/><circle cx="195.16" cy="95.07" r="0.75"/><circle cx="208.05" cy="99.25" r="0.75"/><circle cx="180.09" cy="116.82" r="0.75"/><circle cx="168.18" cy="123.32" r="0.75"/><circle cx="178.65" cy="112.87" r="0.75"/><circle cx="160.37" cy="113.60" r="0.75"/><circle cx="192.94" cy="120.64" r="0.75"/><circle cx="200.30" cy="108.65" r="0.75"/><circle cx="210.28" cy="105.53" r="0.75"/><circle cx="181.05" cy="122.56" r="0.75"/><circle cx="197.88" cy="112.31" r="0.75"/><circle cx="217.56" cy="111.94" r="0.75"/><circle cx="202.20" cy="113.68" r="0.75"/><circle cx="167.63" cy="131.95" r="0.75"/><circle cx="170.96" cy="127.54" r="0.75"/><circle cx="188.09" cy="126.84" r="0.75"/><circle cx="159.44" cy="100.74" r="0.75"/><circle cx="176.73" cy="107.86" r="0.75"/><circle cx="163.39" cy="155.31" r="0.75"/><circle cx="155.56" cy="172.64" r="0.75"/><circle cx="173.72" cy="141.03" r="0.75"/><circle cx="182.46" cy="131.24" r="0.75"/><circle cx="205.97" cy="134.43" r="0.75"/><circle cx="220.72" cy="146.76" r="0.75"/><circle cx="199.83" cy="125.50" r="0.75"/><circle cx="196.19" cy="134.90" r="0.75"/><circle cx="201.59" cy="139.06" r="0.75"/><circle cx="209.21" cy="120.92" r="0.75"/><circle cx="221.71" cy="115.43" r="0.75"/><circle cx="236.81" cy="118.06" r="0.75"/><circle cx="239.65" cy="116.20" r="0.75"/><circle cx="252.35" cy="122.24" r="0.75"/><circle cx="271.51" cy="131.58" r="0.75"/><circle cx="288.22" cy="140.27" r="0.75"/><circle cx="235.32" cy="105.67" r="0.75"/><circle cx="224.29" cy="107.00" r="0.75"/><circle cx="221.58" cy="116.07" r="0.75"/><circle cx="224.33" cy="122.04" r="0.75"/><circle cx="229.28" cy="123.70" r="0.75"/><circle cx="228.12" cy="138.82" r="0.75"/><circle cx="220.69" cy="112.80" r="0.75"/><circle cx="222.93" cy="142.50" r="0.75"/><circle cx="213.86" cy="132.58" r="0.75"/><circle cx="221.66" cy="144.08" r="0.75"/><circle cx="228.23" cy="102.61" r="0.75"/><circle cx="215.73" cy="106.35" r="0.75"/><circle cx="214.49" cy="110.79" r="0.75"/><circle cx="214.97" cy="91.14" r="0.75"/><circle cx="239.54" cy="87.72" r="0.75"/><circle cx="170.17" cy="122.23" r="0.75"/><circle cx="181.18" cy="116.22" r="0.75"/><circle cx="181.31" cy="112.40" r="0.75"/><circle cx="205.70" cy="94.87" r="0.75"/><circle cx="219.61" cy="111.90" r="0.75"/><circle cx="197.78" cy="112.31" r="0.75"/><circle cx="218.92" cy="116.65" r="0.75"/><circle cx="209.42" cy="120.83" r="0.75"/><circle cx="214.42" cy="107.62" r="0.75"/><circle cx="205.43" cy="117.09" r="0.75"/><circle cx="218.82" cy="113.16" r="0.75"/><circle cx="218.68" cy="121.97" r="0.75"/><circle cx="194.70" cy="116.18" r="0.75"/><circle cx="220.60" cy="41.20" r="0.75"/><circle cx="221.40" cy="43.00" r="0.75"/><circle cx="222.20" cy="44.80" r="0.75"/><circle cx="223.00" cy="46.60" r="0.75"/><circle cx="223.80" cy="48.40" r="0.75"/><circle cx="209.20" cy="35.00" r="0.75"/><circle cx="211.60" cy="58.70" r="0.75"/><circle cx="190.80" cy="68.50" r="0.75"/><circle cx="198.40" cy="66.30" r="0.75"/><circle cx="208.20" cy="70.70" r="0.75"/><circle cx="214.00" cy="67.40" r="0.75"/><circle cx="188.30" cy="74.30" r="0.75"/><circle cx="241.30" cy="56.90" r="0.75"/><circle cx="263.60" cy="58.00" r="0.75"/><circle cx="266.00" cy="56.50" r="0.75"/><circle cx="232.00" cy="80.00" r="0.75"/><circle cx="147.40" cy="89.40" r="0.75"/><circle cx="168.50" cy="139.30" r="0.75"/><circle cx="162.00" cy="160.00" r="0.75"/><circle cx="157.00" cy="170.00" r="0.75"/></g>
<g fill="#ee2a2a"><circle cx="218.00" cy="37.30" r="2.7"/><circle cx="203.40" cy="40.00" r="1.9"/><circle cx="226.60" cy="53.20" r="3.0"/><circle cx="196.90" cy="60.00" r="1.7"/><circle cx="194.80" cy="64.20" r="1.4"/><circle cx="228.00" cy="71.00" r="1.9"/><circle cx="253.00" cy="64.40" r="1.7"/><circle cx="220.00" cy="84.60" r="3.9"/><circle cx="182.00" cy="90.80" r="3.2"/><circle cx="150.10" cy="96.90" r="1.3"/><circle cx="183.80" cy="103.70" r="1.3"/><circle cx="188.00" cy="112.50" r="3.3"/><circle cx="159.60" cy="128.00" r="3.5"/><circle cx="219.00" cy="102.80" r="2.4"/><circle cx="238.10" cy="102.40" r="3.3"/><circle cx="230.20" cy="111.70" r="2.8"/><circle cx="208.50" cy="114.20" r="1.3"/><circle cx="207.50" cy="123.20" r="1.6"/><circle cx="196.50" cy="126.50" r="1.6"/><circle cx="218.50" cy="132.30" r="1.6"/><circle cx="172.80" cy="134.50" r="2.3"/><circle cx="174.70" cy="148.00" r="1.6"/><circle cx="227.10" cy="152.10" r="3.5"/><circle cx="261.30" cy="126.50" r="1.2"/><circle cx="299.20" cy="146.50" r="1.6"/><circle cx="148.70" cy="187.80" r="2.3"/><circle cx="244.70" cy="23.70" r="1.1"/><circle cx="271.70" cy="53.90" r="1.0"/><circle cx="154.80" cy="71.80" r="1.0"/><circle cx="155.30" cy="86.50" r="1.0"/><circle cx="142.60" cy="114.30" r="1.1"/><circle cx="196.00" cy="140.20" r="1.1"/><circle cx="204.60" cy="146.50" r="1.1"/><circle cx="240.80" cy="121.90" r="1.0"/><circle cx="202.80" cy="72.50" r="1.1"/><circle cx="206.00" cy="64.20" r="1.0"/><circle cx="240.70" cy="74.90" r="1.0"/><circle cx="196.20" cy="74.60" r="0.9"/><circle cx="240.80" cy="74.90" r="0.9"/><circle cx="205.00" cy="87.00" r="0.9"/><circle cx="236.00" cy="92.00" r="0.9"/><circle cx="212.00" cy="95.00" r="0.9"/><circle cx="200.00" cy="118.00" r="0.9"/><circle cx="283.00" cy="137.30" r="0.9"/><circle cx="291.00" cy="138.60" r="0.9"/><circle cx="294.60" cy="140.30" r="0.9"/><circle cx="297.60" cy="139.40" r="0.8"/></g>
<text x="222.30" y="39.00" font-size="7" font-weight="bold" fill="#111" textLength="15.00" lengthAdjust="spacingAndGlyphs" stroke="#fff" stroke-opacity="0.6" stroke-width="0.8" paint-order="stroke">LEF1</text>
<text x="175.00" y="44.00" font-size="7" font-weight="bold" fill="#111" textLength="24.20" lengthAdjust="spacingAndGlyphs" stroke="#fff" stroke-opacity="0.6" stroke-width="0.8" paint-order="stroke">TCF7L2</text>
<text x="219.50" y="62.10" font-size="7" font-weight="bold" fill="#111" textLength="23.10" lengthAdjust="spacingAndGlyphs" stroke="#fff" stroke-opacity="0.6" stroke-width="0.8" paint-order="stroke">RUNX2</text>
<text x="197.60" y="57.20" font-size="7" font-weight="bold" fill="#111" textLength="20.80" lengthAdjust="spacingAndGlyphs" stroke="#fff" stroke-opacity="0.6" stroke-width="0.8" paint-order="stroke">AXIN2</text>
<text x="177.80" y="67.10" font-size="7" font-weight="bold" fill="#111" textLength="14.00" lengthAdjust="spacingAndGlyphs" stroke="#fff" stroke-opacity="0.6" stroke-width="0.8" paint-order="stroke">CD6</text>
<text x="230.90" y="74.20" font-size="7" font-weight="bold" fill="#111" textLength="35.10" lengthAdjust="spacingAndGlyphs" stroke="#fff" stroke-opacity="0.6" stroke-width="0.8" paint-order="stroke">RAB11FIP5</text>
<text x="256.50" y="67.60" font-size="7" font-weight="bold" fill="#111" textLength="20.50" lengthAdjust="spacingAndGlyphs" stroke="#fff" stroke-opacity="0.6" stroke-width="0.8" paint-order="stroke">PTCH1</text>
<text x="228.90" y="89.10" font-size="7" font-weight="bold" fill="#111" textLength="21.80" lengthAdjust="spacingAndGlyphs" stroke="#fff" stroke-opacity="0.6" stroke-width="0.8" paint-order="stroke">TOP2A</text>
<text x="186.30" y="92.40" font-size="7" font-weight="bold" fill="#111" textLength="19.80" lengthAdjust="spacingAndGlyphs" stroke="#fff" stroke-opacity="0.6" stroke-width="0.8" paint-order="stroke">MYO6</text>
<text x="151.20" y="97.80" font-size="7" font-weight="bold" fill="#111" textLength="24.50" lengthAdjust="spacingAndGlyphs" stroke="#fff" stroke-opacity="0.6" stroke-width="0.8" paint-order="stroke">TNFSF9</text>
<text x="164.70" y="103.50" font-size="7" font-weight="bold" fill="#111" textLength="16.90" lengthAdjust="spacingAndGlyphs" stroke="#fff" stroke-opacity="0.6" stroke-width="0.8" paint-order="stroke">EPN2</text>
<text x="156.30" y="114.90" font-size="7" font-weight="bold" fill="#111" textLength="21.60" lengthAdjust="spacingAndGlyphs" stroke="#fff" stroke-opacity="0.6" stroke-width="0.8" paint-order="stroke">SOCS1</text>
<text x="145.40" y="120.70" font-size="7" font-weight="bold" fill="#111" textLength="19.30" lengthAdjust="spacingAndGlyphs" stroke="#fff" stroke-opacity="0.6" stroke-width="0.8" paint-order="stroke">GAB1</text>
<text x="195.50" y="109.70" font-size="7" font-weight="bold" fill="#111" textLength="20.20" lengthAdjust="spacingAndGlyphs" stroke="#fff" stroke-opacity="0.6" stroke-width="0.8" paint-order="stroke">CENPF</text>
<text x="234.30" y="97.20" font-size="7" font-weight="bold" fill="#111" textLength="16.70" lengthAdjust="spacingAndGlyphs" stroke="#fff" stroke-opacity="0.6" stroke-width="0.8" paint-order="stroke">FLNB</text>
<text x="235.60" y="113.90" font-size="7" font-weight="bold" fill="#111" textLength="20.30" lengthAdjust="spacingAndGlyphs" stroke="#fff" stroke-opacity="0.6" stroke-width="0.8" paint-order="stroke">MKI67</text>
<text x="196.00" y="119.90" font-size="7" font-weight="bold" fill="#111" textLength="11.50" lengthAdjust="spacingAndGlyphs" stroke="#fff" stroke-opacity="0.6" stroke-width="0.8" paint-order="stroke">LSR</text>
<text x="210.60" y="125.50" font-size="7" font-weight="bold" fill="#111" textLength="22.20" lengthAdjust="spacingAndGlyphs" stroke="#fff" stroke-opacity="0.6" stroke-width="0.8" paint-order="stroke">PTGDS</text>
<text x="179.00" y="130.90" font-size="7" font-weight="bold" fill="#111" textLength="16.50" lengthAdjust="spacingAndGlyphs" stroke="#fff" stroke-opacity="0.6" stroke-width="0.8" paint-order="stroke">DTX1</text>
<text x="221.20" y="132.80" font-size="7" font-weight="bold" fill="#111" textLength="13.50" lengthAdjust="spacingAndGlyphs" stroke="#fff" stroke-opacity="0.6" stroke-width="0.8" paint-order="stroke">IL7R</text>
<text x="174.70" y="141.20" font-size="7" font-weight="bold" fill="#111" textLength="12.50" lengthAdjust="spacingAndGlyphs" stroke="#fff" stroke-opacity="0.6" stroke-width="0.8" paint-order="stroke">TEC</text>
<text x="177.20" y="149.50" font-size="7" font-weight="bold" fill="#111" textLength="13.10" lengthAdjust="spacingAndGlyphs" stroke="#fff" stroke-opacity="0.6" stroke-width="0.8" paint-order="stroke">TIE1</text>
<text x="230.00" y="150.10" font-size="7" font-weight="bold" fill="#111" textLength="15.70" lengthAdjust="spacingAndGlyphs" stroke="#fff" stroke-opacity="0.6" stroke-width="0.8" paint-order="stroke">NINL</text>
<text x="242.40" y="134.80" font-size="7" font-weight="bold" fill="#111" textLength="22.60" lengthAdjust="spacingAndGlyphs" stroke="#fff" stroke-opacity="0.6" stroke-width="0.8" paint-order="stroke">AGAP1</text>
<text x="279.60" y="151.30" font-size="7" font-weight="bold" fill="#111" textLength="15.70" lengthAdjust="spacingAndGlyphs" stroke="#fff" stroke-opacity="0.6" stroke-width="0.8" paint-order="stroke">PLK2</text>
<text x="138.00" y="184.20" font-size="7" font-weight="bold" fill="#111" textLength="28.60" lengthAdjust="spacingAndGlyphs" stroke="#fff" stroke-opacity="0.6" stroke-width="0.8" paint-order="stroke">PACSIN1</text>
<line x1="402.70" y1="38.60" x2="388.10" y2="41.30" stroke="#4c4c4c" stroke-width="0.50"/>
<line x1="402.70" y1="38.60" x2="411.30" y2="54.50" stroke="#2a2a2a" stroke-width="1.20"/>
<line x1="402.70" y1="38.60" x2="381.60" y2="61.30" stroke="#4c4c4c" stroke-width="0.50"/>
<line x1="402.70" y1="38.60" x2="380.90" y2="75.90" stroke="#4c4c4c" stroke-width="0.50"/>
<line x1="402.70" y1="38.60" x2="387.50" y2="73.80" stroke="#4c4c4c" stroke-width="0.50"/>
<line x1="402.70" y1="38.60" x2="379.50" y2="65.50" stroke="#4c4c4c" stroke-width="0.50"/>
<line x1="388.10" y1="41.30" x2="381.60" y2="61.30" stroke="#4c4c4c" stroke-width="0.50"/>
<line x1="388.10" y1="41.30" x2="379.50" y2="65.50" stroke="#4c4c4c" stroke-width="0.50"/>
<line x1="388.10" y1="41.30" x2="390.70" y2="65.50" stroke="#4c4c4c" stroke-width="0.50"/>
<line x1="388.10" y1="41.30" x2="411.30" y2="54.50" stroke="#4c4c4c" stroke-width="0.50"/>
<line x1="429.40" y1="25.00" x2="411.30" y2="54.50" stroke="#4c4c4c" stroke-width="0.50"/>
<line x1="411.30" y1="54.50" x2="381.60" y2="61.30" stroke="#4c4c4c" stroke-width="0.50"/>
<line x1="411.30" y1="54.50" x2="437.70" y2="65.70" stroke="#2a2a2a" stroke-width="0.84"/>
<line x1="411.30" y1="54.50" x2="404.70" y2="85.90" stroke="#4c4c4c" stroke-width="0.50"/>
<line x1="411.30" y1="54.50" x2="412.70" y2="72.30" stroke="#4c4c4c" stroke-width="0.50"/>
<line x1="411.30" y1="54.50" x2="387.50" y2="73.80" stroke="#4c4c4c" stroke-width="0.50"/>
<line x1="411.30" y1="54.50" x2="379.50" y2="65.50" stroke="#4c4c4c" stroke-width="0.50"/>
<line x1="437.70" y1="65.70" x2="456.40" y2="55.20" stroke="#4c4c4c" stroke-width="0.50"/>
<line x1="437.70" y1="65.70" x2="422.80" y2="103.70" stroke="#4c4c4c" stroke-width="0.50"/>
<line x1="404.70" y1="85.90" x2="425.40" y2="76.20" stroke="#4c4c4c" stroke-width="0.50"/>
<line x1="404.70" y1="85.90" x2="366.70" y2="92.10" stroke="#4c4c4c" stroke-width="0.50"/>
<line x1="404.70" y1="85.90" x2="372.70" y2="113.80" stroke="#2a2a2a" stroke-width="1.14"/>
<line x1="404.70" y1="85.90" x2="403.70" y2="104.10" stroke="#4c4c4c" stroke-width="0.50"/>
<line x1="404.70" y1="85.90" x2="422.80" y2="103.70" stroke="#2a2a2a" stroke-width="0.72"/>
<line x1="404.70" y1="85.90" x2="414.90" y2="113.00" stroke="#2a2a2a" stroke-width="0.72"/>
<line x1="404.70" y1="85.90" x2="412.70" y2="72.30" stroke="#4c4c4c" stroke-width="0.50"/>
<line x1="404.70" y1="85.90" x2="379.50" y2="65.50" stroke="#4c4c4c" stroke-width="0.50"/>
<line x1="404.70" y1="85.90" x2="381.60" y2="61.30" stroke="#4c4c4c" stroke-width="0.50"/>
<line x1="404.70" y1="85.90" x2="393.20" y2="115.50" stroke="#4c4c4c" stroke-width="0.50"/>
<line x1="404.70" y1="85.90" x2="392.20" y2="124.50" stroke="#4c4c4c" stroke-width="0.50"/>
<line x1="404.70" y1="85.90" x2="381.20" y2="127.80" stroke="#4c4c4c" stroke-width="0.50"/>
<line x1="404.70" y1="85.90" x2="387.50" y2="73.80" stroke="#4c4c4c" stroke-width="0.50"/>
<line x1="404.70" y1="85.90" x2="389.70" y2="88.30" stroke="#4c4c4c" stroke-width="0.50"/>
<line x1="404.70" y1="85.90" x2="368.50" y2="105.00" stroke="#4c4c4c" stroke-width="0.50"/>
<line x1="404.70" y1="85.90" x2="403.20" y2="133.60" stroke="#4c4c4c" stroke-width="0.50"/>
<line x1="404.70" y1="85.90" x2="420.70" y2="93.30" stroke="#4c4c4c" stroke-width="0.50"/>
<line x1="366.70" y1="92.10" x2="334.80" y2="98.20" stroke="#4c4c4c" stroke-width="0.50"/>
<line x1="366.70" y1="92.10" x2="372.70" y2="113.80" stroke="#4c4c4c" stroke-width="0.50"/>
<line x1="366.70" y1="92.10" x2="340.00" y2="87.80" stroke="#4c4c4c" stroke-width="0.50"/>
<line x1="366.70" y1="92.10" x2="379.50" y2="65.50" stroke="#4c4c4c" stroke-width="0.50"/>
<line x1="366.70" y1="92.10" x2="368.50" y2="105.00" stroke="#4c4c4c" stroke-width="0.50"/>
<line x1="366.70" y1="92.10" x2="339.50" y2="73.10" stroke="#4c4c4c" stroke-width="0.50"/>
<line x1="366.70" y1="92.10" x2="380.90" y2="75.90" stroke="#4c4c4c" stroke-width="0.50"/>
<line x1="366.70" y1="92.10" x2="403.70" y2="104.10" stroke="#4c4c4c" stroke-width="0.50"/>
<line x1="372.70" y1="113.80" x2="344.30" y2="129.30" stroke="#2a2a2a" stroke-width="1.26"/>
<line x1="372.70" y1="113.80" x2="327.30" y2="115.60" stroke="#4c4c4c" stroke-width="0.50"/>
<line x1="372.70" y1="113.80" x2="381.20" y2="127.80" stroke="#4c4c4c" stroke-width="0.50"/>
<line x1="372.70" y1="113.80" x2="403.70" y2="104.10" stroke="#4c4c4c" stroke-width="0.50"/>
<line x1="372.70" y1="113.80" x2="357.50" y2="135.80" stroke="#4c4c4c" stroke-width="0.50"/>
<line x1="372.70" y1="113.80" x2="414.90" y2="113.00" stroke="#4c4c4c" stroke-width="0.50"/>
<line x1="372.70" y1="113.80" x2="393.20" y2="115.50" stroke="#4c4c4c" stroke-width="0.50"/>
<line x1="344.30" y1="129.30" x2="357.50" y2="135.80" stroke="#4c4c4c" stroke-width="0.50"/>
<line x1="344.30" y1="129.30" x2="381.20" y2="127.80" stroke="#4c4c4c" stroke-width="0.50"/>
<line x1="334.80" y1="98.20" x2="372.70" y2="113.80" stroke="#4c4c4c" stroke-width="0.50"/>
<line x1="344.30" y1="129.30" x2="368.50" y2="105.00" stroke="#4c4c4c" stroke-width="0.50"/>
<line x1="357.50" y1="135.80" x2="333.40" y2="189.10" stroke="#4c4c4c" stroke-width="0.50"/>
<line x1="357.50" y1="135.80" x2="359.40" y2="149.30" stroke="#4c4c4c" stroke-width="0.50"/>
<line x1="357.50" y1="135.80" x2="381.20" y2="127.80" stroke="#4c4c4c" stroke-width="0.50"/>
<line x1="381.20" y1="127.80" x2="411.80" y2="153.40" stroke="#4c4c4c" stroke-width="0.50"/>
<line x1="381.20" y1="127.80" x2="392.20" y2="124.50" stroke="#4c4c4c" stroke-width="0.50"/>
<line x1="381.20" y1="127.80" x2="380.70" y2="141.50" stroke="#4c4c4c" stroke-width="0.50"/>
<line x1="381.20" y1="127.80" x2="389.30" y2="147.80" stroke="#4c4c4c" stroke-width="0.50"/>
<line x1="381.20" y1="127.80" x2="414.90" y2="113.00" stroke="#4c4c4c" stroke-width="0.50"/>
<line x1="414.90" y1="113.00" x2="425.50" y2="123.20" stroke="#4c4c4c" stroke-width="0.50"/>
<line x1="414.90" y1="113.00" x2="446.00" y2="127.80" stroke="#4c4c4c" stroke-width="0.54"/>
<line x1="446.00" y1="127.80" x2="467.70" y2="138.60" stroke="#4c4c4c" stroke-width="0.50"/>
<line x1="467.70" y1="138.60" x2="483.90" y2="147.80" stroke="#4c4c4c" stroke-width="0.50"/>
<line x1="414.90" y1="113.00" x2="422.80" y2="103.70" stroke="#4c4c4c" stroke-width="0.50"/>
<line x1="414.90" y1="113.00" x2="403.70" y2="104.10" stroke="#4c4c4c" stroke-width="0.50"/>
<line x1="414.90" y1="113.00" x2="392.20" y2="124.50" stroke="#4c4c4c" stroke-width="0.50"/>
<line x1="414.90" y1="113.00" x2="403.20" y2="133.60" stroke="#4c4c4c" stroke-width="0.50"/>
<line x1="414.90" y1="113.00" x2="411.80" y2="153.40" stroke="#4c4c4c" stroke-width="0.50"/>
<line x1="414.90" y1="113.00" x2="393.20" y2="115.50" stroke="#4c4c4c" stroke-width="0.50"/>
<line x1="403.20" y1="133.60" x2="411.80" y2="153.40" stroke="#4c4c4c" stroke-width="0.50"/>
<line x1="392.20" y1="124.50" x2="411.80" y2="153.40" stroke="#4c4c4c" stroke-width="0.50"/>
<line x1="403.70" y1="104.10" x2="422.80" y2="103.70" stroke="#4c4c4c" stroke-width="0.50"/>
<line x1="403.70" y1="104.10" x2="393.20" y2="115.50" stroke="#4c4c4c" stroke-width="0.50"/>
<line x1="422.80" y1="103.70" x2="420.70" y2="93.30" stroke="#4c4c4c" stroke-width="0.50"/>
<line x1="403.70" y1="104.10" x2="392.20" y2="124.50" stroke="#4c4c4c" stroke-width="0.50"/>
<line x1="396.70" y1="96.30" x2="404.70" y2="85.90" stroke="#4c4c4c" stroke-width="0.50"/>
<line x1="396.70" y1="96.30" x2="366.70" y2="92.10" stroke="#4c4c4c" stroke-width="0.50"/>
<line x1="384.70" y1="119.30" x2="372.70" y2="113.80" stroke="#4c4c4c" stroke-width="0.50"/>
<line x1="384.70" y1="119.30" x2="414.90" y2="113.00" stroke="#4c4c4c" stroke-width="0.50"/>
<line x1="422.80" y1="103.70" x2="425.50" y2="76.20" stroke="#4c4c4c" stroke-width="0.50"/>
<line x1="425.50" y1="76.20" x2="411.30" y2="54.50" stroke="#4c4c4c" stroke-width="0.50"/>
<line x1="381.60" y1="61.30" x2="380.90" y2="75.90" stroke="#4c4c4c" stroke-width="0.50"/>
<line x1="379.50" y1="65.50" x2="387.50" y2="73.80" stroke="#4c4c4c" stroke-width="0.50"/>
<line x1="368.50" y1="105.00" x2="372.70" y2="113.80" stroke="#4c4c4c" stroke-width="0.50"/>
<line x1="393.20" y1="115.50" x2="392.20" y2="124.50" stroke="#4c4c4c" stroke-width="0.50"/>
<line x1="403.20" y1="133.60" x2="392.20" y2="124.50" stroke="#4c4c4c" stroke-width="0.50"/>
<line x1="344.30" y1="129.30" x2="372.70" y2="113.80" stroke="#4c4c4c" stroke-width="0.50"/>
<line x1="344.30" y1="129.30" x2="404.70" y2="85.90" stroke="#4c4c4c" stroke-width="0.50"/>
<line x1="414.90" y1="113.00" x2="372.70" y2="113.80" stroke="#4c4c4c" stroke-width="0.50"/>
<line x1="414.90" y1="113.00" x2="381.20" y2="127.80" stroke="#4c4c4c" stroke-width="0.50"/>
<line x1="422.80" y1="103.70" x2="372.70" y2="113.80" stroke="#4c4c4c" stroke-width="0.50"/>
<line x1="422.80" y1="103.70" x2="393.20" y2="115.50" stroke="#4c4c4c" stroke-width="0.50"/>
<line x1="403.70" y1="104.10" x2="381.20" y2="127.80" stroke="#4c4c4c" stroke-width="0.50"/>
<line x1="403.70" y1="104.10" x2="403.20" y2="133.60" stroke="#4c4c4c" stroke-width="0.50"/>
<line x1="404.70" y1="85.90" x2="411.80" y2="153.40" stroke="#4c4c4c" stroke-width="0.50"/>
<line x1="366.70" y1="92.10" x2="393.20" y2="115.50" stroke="#4c4c4c" stroke-width="0.50"/>
<line x1="366.70" y1="92.10" x2="422.80" y2="103.70" stroke="#4c4c4c" stroke-width="0.50"/>
<line x1="388.10" y1="41.30" x2="404.70" y2="85.90" stroke="#4c4c4c" stroke-width="0.50"/>
<line x1="402.70" y1="38.60" x2="404.70" y2="85.90" stroke="#4c4c4c" stroke-width="0.50"/>
<line x1="381.60" y1="61.30" x2="366.70" y2="92.10" stroke="#4c4c4c" stroke-width="0.50"/>
<line x1="379.50" y1="65.50" x2="372.70" y2="113.80" stroke="#4c4c4c" stroke-width="0.50"/>
<line x1="411.30" y1="54.50" x2="422.80" y2="103.70" stroke="#4c4c4c" stroke-width="0.50"/>
<line x1="412.70" y1="72.30" x2="422.80" y2="103.70" stroke="#4c4c4c" stroke-width="0.50"/>
<line x1="412.70" y1="72.30" x2="414.90" y2="113.00" stroke="#4c4c4c" stroke-width="0.50"/>
<line x1="357.50" y1="135.80" x2="414.90" y2="113.00" stroke="#4c4c4c" stroke-width="0.50"/>
<line x1="344.30" y1="129.30" x2="392.20" y2="124.50" stroke="#4c4c4c" stroke-width="0.50"/>
<line x1="372.70" y1="113.80" x2="392.20" y2="124.50" stroke="#4c4c4c" stroke-width="0.50"/>
<line x1="381.20" y1="127.80" x2="403.20" y2="133.60" stroke="#4c4c4c" stroke-width="0.50"/>
<path d="M402.70,38.60L397.07,30.73M402.70,38.60L397.35,30.23M402.70,38.60L399.18,32.21M402.70,38.60L397.21,29.20M402.70,38.60L399.02,31.26M402.70,38.60L399.50,29.81M402.70,38.60L399.69,29.72M402.70,38.60L400.34,31.20M402.70,38.60L399.75,28.00M402.70,38.60L400.16,28.41M402.70,38.60L401.32,31.45M402.70,38.60L401.29,28.82M402.70,38.60L401.63,31.59M402.70,38.60L402.19,29.25M402.70,38.60L402.35,27.56M402.70,38.60L402.78,27.39M402.70,38.60L402.83,27.86M402.70,38.60L403.33,27.36M402.70,38.60L403.74,31.20M402.70,38.60L403.51,30.52M402.70,38.60L404.76,29.64M402.70,38.60L404.64,30.27M402.70,38.60L404.96,29.93M402.70,38.60L405.39,29.12M402.70,38.60L406.41,28.10M402.70,38.60L406.96,28.20M402.70,38.60L407.64,28.25M402.70,38.60L406.21,31.59M402.70,38.60L408.38,28.75M402.70,38.60L407.95,30.34M388.10,41.30L383.74,37.74M388.10,41.30L383.19,36.56M388.10,41.30L384.50,37.74M388.10,41.30L383.20,35.01M388.10,41.30L383.45,35.45M388.10,41.30L385.19,36.74M388.10,41.30L384.49,34.86M388.10,41.30L386.25,36.67M388.10,41.30L386.45,36.59M388.10,41.30L386.57,35.45M388.10,41.30L386.76,33.46M388.10,41.30L386.99,33.38M388.10,41.30L387.64,36.20M388.10,41.30L388.15,36.37M388.10,41.30L388.34,35.00M388.10,41.30L388.92,35.94M411.30,54.50L409.68,45.07M411.30,54.50L410.44,44.67M411.30,54.50L411.51,46.75M411.30,54.50L411.60,46.18M411.30,54.50L412.24,45.94M411.30,54.50L412.64,45.90M411.30,54.50L413.34,46.48M411.30,54.50L413.54,45.72M411.30,54.50L413.38,47.36M411.30,54.50L414.66,46.88M411.30,54.50L413.80,48.98M411.30,54.50L415.13,46.86M411.30,54.50L415.29,46.79M411.30,54.50L414.84,49.28M411.30,54.50L416.21,48.04M411.30,54.50L416.28,48.69M411.30,54.50L417.63,47.93M411.30,54.50L415.60,49.87M411.30,54.50L418.86,48.14M411.30,54.50L417.53,49.36M411.30,54.50L417.50,50.26M411.30,54.50L417.60,50.46M411.30,54.50L418.79,50.26M411.30,54.50L418.22,51.00M411.30,54.50L417.04,52.31M411.30,54.50L419.92,51.53M411.30,54.50L418.06,52.37M411.30,54.50L418.32,53.09M411.30,54.50L419.12,52.84M411.30,54.50L417.79,53.84M379.50,65.50L373.46,65.08M379.50,65.50L373.23,64.22M379.50,65.50L374.24,63.97M379.50,65.50L372.78,63.36M379.50,65.50L373.68,62.73M379.50,65.50L374.75,63.17M379.50,65.50L374.81,62.52M379.50,65.50L373.58,60.77M379.50,65.50L374.97,61.77M379.50,65.50L374.78,60.30M379.50,65.50L375.77,60.68M379.50,65.50L375.92,60.79M379.50,65.50L374.08,58.62M379.50,65.50L373.95,57.79M379.50,65.50L374.74,57.32M379.50,65.50L376.45,57.96M379.50,65.50L375.01,54.61M379.50,65.50L377.01,53.81M379.50,65.50L377.54,53.86M379.50,65.50L379.29,57.00M412.70,72.30L413.98,65.98M412.70,72.30L414.55,66.49M412.70,72.30L414.92,66.83M412.70,72.30L415.36,67.37M412.70,72.30L416.23,67.65M412.70,72.30L416.66,68.37M412.70,72.30L417.69,68.46M412.70,72.30L418.30,68.96M412.70,72.30L418.32,69.77M412.70,72.30L418.55,69.83M404.70,85.90L399.55,85.17M404.70,85.90L399.05,84.44M404.70,85.90L398.12,83.96M404.70,85.90L399.73,83.98M404.70,85.90L398.52,83.35M404.70,85.90L398.93,82.92M404.70,85.90L400.47,83.46M404.70,85.90L399.29,82.16M404.70,85.90L399.42,82.08M404.70,85.90L399.98,81.36M404.70,85.90L401.81,82.82M404.70,85.90L400.33,80.84M404.70,85.90L401.36,82.03M404.70,85.90L401.26,81.17M404.70,85.90L401.71,81.05M404.70,85.90L402.85,82.12M404.70,85.90L402.60,81.75M404.70,85.90L402.97,81.80M404.70,85.90L403.05,79.44M404.70,85.90L403.09,80.35M404.70,85.90L403.67,80.76M404.70,85.90L403.88,79.80M404.70,85.90L404.44,80.53M404.70,85.90L404.55,80.62M404.70,85.90L404.85,79.98M404.70,85.90L405.50,80.52M404.70,85.90L405.39,81.13M404.70,85.90L406.10,80.02M404.70,85.90L406.50,80.77M404.70,85.90L407.08,80.29M404.70,85.90L406.92,80.96M404.70,85.90L407.67,80.34M404.70,85.90L407.95,80.53M404.70,85.90L407.58,81.77M404.70,85.90L408.64,81.01M404.70,85.90L408.24,81.61M404.70,85.90L409.47,81.16M404.70,85.90L408.95,82.54M404.70,85.90L410.03,82.16M404.70,85.90L409.33,82.61M404.70,85.90L410.23,82.35M404.70,85.90L410.76,82.94M404.70,85.90L410.47,83.60M404.70,85.90L410.33,84.00M366.70,92.10L357.45,95.54M366.70,92.10L359.37,94.55M366.70,92.10L359.68,93.52M366.70,92.10L359.41,93.79M366.70,92.10L358.82,92.91M366.70,92.10L355.92,93.72M366.70,92.10L355.84,93.15M366.70,92.10L355.82,92.05M366.70,92.10L356.90,91.34M366.70,92.10L359.62,91.36M366.70,92.10L357.26,90.74M366.70,92.10L359.30,90.75M366.70,92.10L355.73,89.56M366.70,92.10L358.21,90.39M366.70,92.10L356.32,88.96M366.70,92.10L359.14,89.73M366.70,92.10L357.31,88.70M366.70,92.10L358.57,88.25M366.70,92.10L358.57,88.22M366.70,92.10L358.65,87.84M366.70,92.10L358.38,87.54M366.70,92.10L359.40,86.69M366.70,92.10L360.50,87.32M366.70,92.10L358.58,85.34M366.70,92.10L359.61,85.69M366.70,92.10L359.37,85.15M366.70,92.10L361.55,86.30M366.70,92.10L359.39,84.52M366.70,92.10L361.00,84.42M366.70,92.10L360.44,83.78M366.70,92.10L361.77,85.32M366.70,92.10L361.26,83.88M366.70,92.10L362.56,85.02M366.70,92.10L361.80,81.89M366.70,92.10L362.24,82.75M366.70,92.10L362.53,81.98M366.70,92.10L363.99,84.17M366.70,92.10L364.45,85.43M366.70,92.10L364.45,83.44M366.70,92.10L364.57,83.52M334.80,98.20L325.52,97.24M334.80,98.20L325.23,96.77M334.80,98.20L326.03,95.98M334.80,98.20L325.83,95.32M334.80,98.20L326.58,94.61M334.80,98.20L326.44,94.26M334.80,98.20L327.34,93.69M372.70,113.80L370.05,122.80M372.70,113.80L370.62,120.23M372.70,113.80L369.80,121.90M372.70,113.80L368.67,122.26M372.70,113.80L369.32,119.72M372.70,113.80L369.38,119.83M372.70,113.80L368.17,121.06M372.70,113.80L366.90,120.93M372.70,113.80L367.03,120.89M372.70,113.80L367.63,119.39M372.70,113.80L368.17,117.91M372.70,113.80L366.12,119.91M372.70,113.80L367.00,118.34M372.70,113.80L365.66,118.49M372.70,113.80L366.73,117.82M372.70,113.80L365.84,117.48M372.70,113.80L365.41,117.43M372.70,113.80L365.68,116.20M372.70,113.80L366.74,115.76M372.70,113.80L364.63,116.21M372.70,113.80L363.84,116.09M372.70,113.80L366.57,114.50M372.70,113.80L365.36,114.21M372.70,113.80L363.97,113.96M372.70,113.80L364.24,113.92M372.70,113.80L363.84,113.10M372.70,113.80L364.02,112.99M372.70,113.80L364.46,111.95M372.70,113.80L366.62,112.37M372.70,113.80L365.72,111.78M372.70,113.80L364.77,110.82M372.70,113.80L366.66,111.26M372.70,113.80L365.27,110.10M372.70,113.80L364.52,109.67M372.70,113.80L367.41,110.39M372.70,113.80L367.65,109.91M344.30,129.30L341.12,139.70M344.30,129.30L340.63,138.76M344.30,129.30L340.35,138.15M344.30,129.30L340.86,136.80M344.30,129.30L339.58,139.07M344.30,129.30L338.88,137.81M344.30,129.30L339.01,136.85M344.30,129.30L338.98,136.97M344.30,129.30L339.41,134.94M344.30,129.30L338.59,135.78M344.30,129.30L337.74,135.74M344.30,129.30L337.57,135.91M344.30,129.30L335.89,136.52M344.30,129.30L335.47,136.50M344.30,129.30L337.40,134.70M344.30,129.30L337.88,133.88M344.30,129.30L334.75,134.56M344.30,129.30L337.08,133.44M344.30,129.30L334.43,134.08M344.30,129.30L334.03,133.21M344.30,129.30L336.68,132.01M344.30,129.30L336.37,131.90M344.30,129.30L334.43,131.91M344.30,129.30L335.91,131.42M344.30,129.30L336.98,130.34M344.30,129.30L332.78,130.38M344.30,129.30L334.97,129.61M344.30,129.30L334.03,129.60M344.30,129.30L332.39,129.01M344.30,129.30L335.41,128.63M344.30,129.30L334.57,127.94M344.30,129.30L333.53,127.60M344.30,129.30L333.32,127.76M344.30,129.30L334.76,126.83M344.30,129.30L334.98,126.58M344.30,129.30L334.70,126.38M344.30,129.30L334.92,126.15M344.30,129.30L335.56,125.26M344.30,129.30L333.74,123.94M344.30,129.30L337.46,125.11M344.30,129.30L335.58,123.54M344.30,129.30L336.45,124.47M344.30,129.30L338.03,124.86M344.30,129.30L335.28,121.81M344.30,129.30L335.63,121.76M344.30,129.30L338.72,123.55M344.30,129.30L337.56,121.44M344.30,129.30L337.68,120.70M344.30,129.30L338.91,121.92M344.30,129.30L337.89,119.47M344.30,129.30L339.47,121.01M344.30,129.30L339.65,120.64M344.30,129.30L340.62,122.80M344.30,129.30L340.48,121.84M344.30,129.30L340.28,120.27M422.80,103.70L429.46,97.31M422.80,103.70L429.93,97.14M422.80,103.70L429.59,97.91M422.80,103.70L429.89,98.76M422.80,103.70L431.46,97.52M422.80,103.70L430.19,99.54M422.80,103.70L430.87,99.29M422.80,103.70L429.91,100.47M422.80,103.70L429.80,100.42M422.80,103.70L429.85,101.47M422.80,103.70L430.14,101.50M422.80,103.70L430.07,101.71M422.80,103.70L430.18,102.23M422.80,103.70L429.89,102.36M422.80,103.70L431.76,102.60M422.80,103.70L429.51,103.14M422.80,103.70L431.47,103.76M422.80,103.70L429.67,104.28M422.80,103.70L431.37,104.58M422.80,103.70L433.61,104.92M422.80,103.70L429.81,104.99M422.80,103.70L430.05,105.62M422.80,103.70L430.75,106.37M422.80,103.70L429.34,105.88M422.80,103.70L430.10,107.10M422.80,103.70L430.67,107.91M422.80,103.70L429.74,108.02M422.80,103.70L429.69,107.78M422.80,103.70L430.48,109.47M422.80,103.70L428.50,107.98M422.80,103.70L430.92,110.96M422.80,103.70L427.55,108.31M422.80,103.70L427.95,108.61M422.80,103.70L427.42,108.71M422.80,103.70L429.11,111.08M422.80,103.70L426.94,110.18M403.20,133.60L407.49,137.87M403.20,133.60L407.33,138.67M403.20,133.60L406.09,138.35M403.20,133.60L406.13,139.06M403.20,133.60L404.87,138.97M403.20,133.60L404.79,139.87M403.20,133.60L404.06,139.49M403.20,133.60L403.20,139.88M403.20,133.60L402.15,139.22M357.50,135.80L356.15,142.49M357.50,135.80L355.51,142.10M357.50,135.80L354.94,141.65M357.50,135.80L354.76,141.39M357.50,135.80L353.86,141.21M357.50,135.80L353.85,140.75M357.50,135.80L352.81,140.55M357.50,135.80L352.58,139.91M357.50,135.80L352.52,139.37M357.50,135.80L352.26,138.67M359.40,149.30L360.66,158.02M359.40,149.30L359.73,157.09M359.40,149.30L359.49,158.24M359.40,149.30L358.40,158.24M359.40,149.30L357.63,157.45M359.40,149.30L356.85,157.69M359.40,149.30L356.86,157.11M359.40,149.30L356.45,157.02M359.40,149.30L355.41,156.01M411.80,153.40L419.78,155.30M411.80,153.40L422.52,155.90M411.80,153.40L419.29,155.65M411.80,153.40L422.20,156.95M411.80,153.40L418.72,156.49M411.80,153.40L423.05,158.54M411.80,153.40L421.24,158.24M411.80,153.40L421.74,159.37M411.80,153.40L421.35,160.02M411.80,153.40L418.72,158.61M411.80,153.40L418.16,158.27M411.80,153.40L417.71,159.10M411.80,153.40L421.02,161.64M411.80,153.40L420.26,162.00M411.80,153.40L418.66,160.87M411.80,153.40L419.24,162.56M411.80,153.40L417.95,162.49M411.80,153.40L417.89,163.71M411.80,153.40L417.27,162.71M411.80,153.40L415.55,160.70M411.80,153.40L415.87,163.36M411.80,153.40L414.76,161.65M411.80,153.40L415.05,163.00M411.80,153.40L413.86,161.13M411.80,153.40L414.38,163.30M411.80,153.40L414.29,163.66M411.80,153.40L413.01,163.25M411.80,153.40L412.72,164.17M411.80,153.40L412.61,162.92M411.80,153.40L411.39,162.87M411.80,153.40L411.56,161.44M411.80,153.40L411.34,161.92M411.80,153.40L409.83,164.58M411.80,153.40L409.15,165.56M411.80,153.40L408.97,165.29M411.80,153.40L409.14,162.94M411.80,153.40L407.53,164.73M411.80,153.40L407.75,162.80M411.80,153.40L407.65,162.33M411.80,153.40L405.92,164.06M411.80,153.40L406.19,164.27M411.80,153.40L407.83,160.48M411.80,153.40L406.47,160.97M411.80,153.40L405.27,162.20M411.80,153.40L405.03,162.61M411.80,153.40L405.34,161.00M411.80,153.40L403.95,161.69M411.80,153.40L404.90,159.51M483.90,147.80L491.10,148.13M483.90,147.80L490.71,148.94M483.90,147.80L491.54,149.55M483.90,147.80L491.48,150.74M483.90,147.80L490.96,151.54M483.90,147.80L490.03,151.23M483.90,147.80L490.07,151.94M483.90,147.80L489.66,152.66M483.90,147.80L489.61,153.35M333.40,189.10L339.13,192.92M333.40,189.10L339.17,194.58M333.40,189.10L337.63,193.50M333.40,189.10L336.32,193.34M333.40,189.10L337.22,195.10M333.40,189.10L335.74,194.41M333.40,189.10L335.49,194.67M333.40,189.10L334.60,195.89M333.40,189.10L333.76,196.99M333.40,189.10L333.07,194.35M333.40,189.10L332.95,194.24M333.40,189.10L331.98,195.40M333.40,189.10L331.36,195.96M333.40,189.10L330.91,194.95M333.40,189.10L329.41,195.97M333.40,189.10L329.66,194.00M333.40,189.10L328.93,194.19M333.40,189.10L327.52,193.86M333.40,189.10L326.58,193.21M333.40,189.10L328.43,191.85M333.40,189.10L325.95,191.76M333.40,189.10L325.64,191.17M429.40,25.00L432.08,16.91M429.40,25.00L432.17,17.39M429.40,25.00L433.70,16.50M429.40,25.00L434.14,17.55M429.40,25.00L434.89,17.16M429.40,25.00L435.20,18.06M339.50,73.10L331.82,69.60M339.50,73.10L332.44,69.50M339.50,73.10L331.91,67.96M339.50,73.10L332.92,68.09M339.50,73.10L333.12,67.72M339.50,73.10L333.79,67.02M327.30,115.60L319.06,116.79M327.30,115.60L318.48,116.91M327.30,115.60L317.88,116.29M327.30,115.60L317.73,115.27M327.30,115.60L319.20,114.98M327.30,115.60L318.42,114.39M327.30,115.60L318.93,113.98M380.70,141.50L380.32,151.04M380.70,141.50L380.20,150.64M380.70,141.50L379.27,150.29M380.70,141.50L377.91,150.71M380.70,141.50L377.85,149.39M389.30,147.80L389.95,156.14M389.30,147.80L389.83,157.20M389.30,147.80L389.17,156.31M389.30,147.80L387.77,157.28M389.30,147.80L387.80,156.38M437.70,65.70L439.80,60.91M437.70,65.70L441.07,60.61M437.70,65.70L441.30,61.77M437.70,65.70L441.85,62.60M437.70,65.70L443.02,63.24M437.70,65.70L443.30,64.41M467.70,138.60L482.09,140.09M467.70,138.60L484.89,139.78M467.70,138.60L482.89,139.64M467.70,138.60L482.79,140.63M467.70,138.60L482.10,140.95M467.70,138.60L484.72,141.19M467.70,138.60L484.54,141.38M467.70,138.60L484.71,141.85M467.70,138.60L483.46,142.84M414.90,113.00L429.65,121.81M414.90,113.00L429.12,123.37M414.90,113.00L431.26,124.14M414.90,113.00L428.07,124.01M414.90,113.00L428.89,125.59M414.90,113.00L428.19,124.18M414.90,113.00L430.11,126.54M414.90,113.00L427.75,124.80M414.90,113.00L427.58,124.96M414.90,113.00L428.84,127.49M372.70,113.80L373.75,117.11M372.70,113.80L373.29,118.76M372.70,113.80L372.76,117.40M372.70,113.80L372.63,118.72M372.70,113.80L372.14,118.27M372.70,113.80L372.08,116.79M372.70,113.80L371.33,118.17M372.70,113.80L370.86,117.64M372.70,113.80L370.65,117.46M372.70,113.80L370.32,117.25M381.20,127.80L383.83,130.17M381.20,127.80L383.84,130.85M381.20,127.80L383.00,130.83M381.20,127.80L382.66,131.49M381.20,127.80L382.29,131.21M381.20,127.80L381.73,131.19M381.20,127.80L380.92,131.47M381.20,127.80L380.46,131.20" stroke="#404040" stroke-width="0.26" fill="none"/>
<g fill="#fff" fill-opacity="1" stroke="#666" stroke-width="0.38"><circle cx="397.07" cy="30.73" r="0.72"/><circle cx="397.35" cy="30.23" r="0.72"/><circle cx="399.18" cy="32.21" r="0.72"/><circle cx="397.21" cy="29.20" r="0.72"/><circle cx="399.02" cy="31.26" r="0.72"/><circle cx="399.50" cy="29.81" r="0.72"/><circle cx="399.69" cy="29.72" r="0.72"/><circle cx="400.34" cy="31.20" r="0.72"/><circle cx="399.75" cy="28.00" r="0.72"/><circle cx="400.16" cy="28.41" r="0.72"/><circle cx="401.32" cy="31.45" r="0.72"/><circle cx="401.29" cy="28.82" r="0.72"/><circle cx="401.63" cy="31.59" r="0.72"/><circle cx="402.19" cy="29.25" r="0.72"/><circle cx="402.35" cy="27.56" r="0.72"/><circle cx="402.78" cy="27.39" r="0.72"/><circle cx="402.83" cy="27.86" r="0.72"/><circle cx="403.33" cy="27.36" r="0.72"/><circle cx="403.74" cy="31.20" r="0.72"/><circle cx="403.51" cy="30.52" r="0.72"/><circle cx="404.76" cy="29.64" r="0.72"/><circle cx="404.64" cy="30.27" r="0.72"/><circle cx="404.96" cy="29.93" r="0.72"/><circle cx="405.39" cy="29.12" r="0.72"/><circle cx="406.41" cy="28.10" r="0.72"/><circle cx="406.96" cy="28.20" r="0.72"/><circle cx="407.64" cy="28.25" r="0.72"/><circle cx="406.21" cy="31.59" r="0.72"/><circle cx="408.38" cy="28.75" r="0.72"/><circle cx="407.95" cy="30.34" r="0.72"/><circle cx="383.74" cy="37.74" r="0.72"/><circle cx="383.19" cy="36.56" r="0.72"/><circle cx="384.50" cy="37.74" r="0.72"/><circle cx="383.20" cy="35.01" r="0.72"/><circle cx="383.45" cy="35.45" r="0.72"/><circle cx="385.19" cy="36.74" r="0.72"/><circle cx="384.49" cy="34.86" r="0.72"/><circle cx="386.25" cy="36.67" r="0.72"/><circle cx="386.45" cy="36.59" r="0.72"/><circle cx="386.57" cy="35.45" r="0.72"/><circle cx="386.76" cy="33.46" r="0.72"/><circle cx="386.99" cy="33.38" r="0.72"/><circle cx="387.64" cy="36.20" r="0.72"/><circle cx="388.15" cy="36.37" r="0.72"/><circle cx="388.34" cy="35.00" r="0.72"/><circle cx="388.92" cy="35.94" r="0.72"/><circle cx="409.68" cy="45.07" r="0.72"/><circle cx="410.44" cy="44.67" r="0.72"/><circle cx="411.51" cy="46.75" r="0.72"/><circle cx="411.60" cy="46.18" r="0.72"/><circle cx="412.24" cy="45.94" r="0.72"/><circle cx="412.64" cy="45.90" r="0.72"/><circle cx="413.34" cy="46.48" r="0.72"/><circle cx="413.54" cy="45.72" r="0.72"/><circle cx="413.38" cy="47.36" r="0.72"/><circle cx="414.66" cy="46.88" r="0.72"/><circle cx="413.80" cy="48.98" r="0.72"/><circle cx="415.13" cy="46.86" r="0.72"/><circle cx="415.29" cy="46.79" r="0.72"/><circle cx="414.84" cy="49.28" r="0.72"/><circle cx="416.21" cy="48.04" r="0.72"/><circle cx="416.28" cy="48.69" r="0.72"/><circle cx="417.63" cy="47.93" r="0.72"/><circle cx="415.60" cy="49.87" r="0.72"/><circle cx="418.86" cy="48.14" r="0.72"/><circle cx="417.53" cy="49.36" r="0.72"/><circle cx="417.50" cy="50.26" r="0.72"/><circle cx="417.60" cy="50.46" r="0.72"/><circle cx="418.79" cy="50.26" r="0.72"/><circle cx="418.22" cy="51.00" r="0.72"/><circle cx="417.04" cy="52.31" r="0.72"/><circle cx="419.92" cy="51.53" r="0.72"/><circle cx="418.06" cy="52.37" r="0.72"/><circle cx="418.32" cy="53.09" r="0.72"/><circle cx="419.12" cy="52.84" r="0.72"/><circle cx="417.79" cy="53.84" r="0.72"/><circle cx="373.46" cy="65.08" r="0.72"/><circle cx="373.23" cy="64.22" r="0.72"/><circle cx="374.24" cy="63.97" r="0.72"/><circle cx="372.78" cy="63.36" r="0.72"/><circle cx="373.68" cy="62.73" r="0.72"/><circle cx="374.75" cy="63.17" r="0.72"/><circle cx="374.81" cy="62.52" r="0.72"/><circle cx="373.58" cy="60.77" r="0.72"/><circle cx="374.97" cy="61.77" r="0.72"/><circle cx="374.78" cy="60.30" r="0.72"/><circle cx="375.77" cy="60.68" r="0.72"/><circle cx="375.92" cy="60.79" r="0.72"/><circle cx="374.08" cy="58.62" r="0.72"/><circle cx="373.95" cy="57.79" r="0.72"/><circle cx="374.74" cy="57.32" r="0.72"/><circle cx="376.45" cy="57.96" r="0.72"/><circle cx="375.01" cy="54.61" r="0.72"/><circle cx="377.01" cy="53.81" r="0.72"/><circle cx="377.54" cy="53.86" r="0.72"/><circle cx="379.29" cy="57.00" r="0.72"/><circle cx="413.98" cy="65.98" r="0.72"/><circle cx="414.55" cy="66.49" r="0.72"/><circle cx="414.92" cy="66.83" r="0.72"/><circle cx="415.36" cy="67.37" r="0.72"/><circle cx="416.23" cy="67.65" r="0.72"/><circle cx="416.66" cy="68.37" r="0.72"/><circle cx="417.69" cy="68.46" r="0.72"/><circle cx="418.30" cy="68.96" r="0.72"/><circle cx="418.32" cy="69.77" r="0.72"/><circle cx="418.55" cy="69.83" r="0.72"/><circle cx="399.55" cy="85.17" r="0.72"/><circle cx="399.05" cy="84.44" r="0.72"/><circle cx="398.12" cy="83.96" r="0.72"/><circle cx="399.73" cy="83.98" r="0.72"/><circle cx="398.52" cy="83.35" r="0.72"/><circle cx="398.93" cy="82.92" r="0.72"/><circle cx="400.47" cy="83.46" r="0.72"/><circle cx="399.29" cy="82.16" r="0.72"/><circle cx="399.42" cy="82.08" r="0.72"/><circle cx="399.98" cy="81.36" r="0.72"/><circle cx="401.81" cy="82.82" r="0.72"/><circle cx="400.33" cy="80.84" r="0.72"/><circle cx="401.36" cy="82.03" r="0.72"/><circle cx="401.26" cy="81.17" r="0.72"/><circle cx="401.71" cy="81.05" r="0.72"/><circle cx="402.85" cy="82.12" r="0.72"/><circle cx="402.60" cy="81.75" r="0.72"/><circle cx="402.97" cy="81.80" r="0.72"/><circle cx="403.05" cy="79.44" r="0.72"/><circle cx="403.09" cy="80.35" r="0.72"/><circle cx="403.67" cy="80.76" r="0.72"/><circle cx="403.88" cy="79.80" r="0.72"/><circle cx="404.44" cy="80.53" r="0.72"/><circle cx="404.55" cy="80.62" r="0.72"/><circle cx="404.85" cy="79.98" r="0.72"/><circle cx="405.50" cy="80.52" r="0.72"/><circle cx="405.39" cy="81.13" r="0.72"/><circle cx="406.10" cy="80.02" r="0.72"/><circle cx="406.50" cy="80.77" r="0.72"/><circle cx="407.08" cy="80.29" r="0.72"/><circle cx="406.92" cy="80.96" r="0.72"/><circle cx="407.67" cy="80.34" r="0.72"/><circle cx="407.95" cy="80.53" r="0.72"/><circle cx="407.58" cy="81.77" r="0.72"/><circle cx="408.64" cy="81.01" r="0.72"/><circle cx="408.24" cy="81.61" r="0.72"/><circle cx="409.47" cy="81.16" r="0.72"/><circle cx="408.95" cy="82.54" r="0.72"/><circle cx="410.03" cy="82.16" r="0.72"/><circle cx="409.33" cy="82.61" r="0.72"/><circle cx="410.23" cy="82.35" r="0.72"/><circle cx="410.76" cy="82.94" r="0.72"/><circle cx="410.47" cy="83.60" r="0.72"/><circle cx="410.33" cy="84.00" r="0.72"/><circle cx="357.45" cy="95.54" r="0.72"/><circle cx="359.37" cy="94.55" r="0.72"/><circle cx="359.68" cy="93.52" r="0.72"/><circle cx="359.41" cy="93.79" r="0.72"/><circle cx="358.82" cy="92.91" r="0.72"/><circle cx="355.92" cy="93.72" r="0.72"/><circle cx="355.84" cy="93.15" r="0.72"/><circle cx="355.82" cy="92.05" r="0.72"/><circle cx="356.90" cy="91.34" r="0.72"/><circle cx="359.62" cy="91.36" r="0.72"/><circle cx="357.26" cy="90.74" r="0.72"/><circle cx="359.30" cy="90.75" r="0.72"/><circle cx="355.73" cy="89.56" r="0.72"/><circle cx="358.21" cy="90.39" r="0.72"/><circle cx="356.32" cy="88.96" r="0.72"/><circle cx="359.14" cy="89.73" r="0.72"/><circle cx="357.31" cy="88.70" r="0.72"/><circle cx="358.57" cy="88.25" r="0.72"/><circle cx="358.57" cy="88.22" r="0.72"/><circle cx="358.65" cy="87.84" r="0.72"/><circle cx="358.38" cy="87.54" r="0.72"/><circle cx="359.40" cy="86.69" r="0.72"/><circle cx="360.50" cy="87.32" r="0.72"/><circle cx="358.58" cy="85.34" r="0.72"/><circle cx="359.61" cy="85.69" r="0.72"/><circle cx="359.37" cy="85.15" r="0.72"/><circle cx="361.55" cy="86.30" r="0.72"/><circle cx="359.39" cy="84.52" r="0.72"/><circle cx="361.00" cy="84.42" r="0.72"/><circle cx="360.44" cy="83.78" r="0.72"/><circle cx="361.77" cy="85.32" r="0.72"/><circle cx="361.26" cy="83.88" r="0.72"/><circle cx="362.56" cy="85.02" r="0.72"/><circle cx="361.80" cy="81.89" r="0.72"/><circle cx="362.24" cy="82.75" r="0.72"/><circle cx="362.53" cy="81.98" r="0.72"/><circle cx="363.99" cy="84.17" r="0.72"/><circle cx="364.45" cy="85.43" r="0.72"/><circle cx="364.45" cy="83.44" r="0.72"/><circle cx="364.57" cy="83.52" r="0.72"/><circle cx="325.52" cy="97.24" r="0.72"/><circle cx="325.23" cy="96.77" r="0.72"/><circle cx="326.03" cy="95.98" r="0.72"/><circle cx="325.83" cy="95.32" r="0.72"/><circle cx="326.58" cy="94.61" r="0.72"/><circle cx="326.44" cy="94.26" r="0.72"/><circle cx="327.34" cy="93.69" r="0.72"/><circle cx="370.05" cy="122.80" r="0.72"/><circle cx="370.62" cy="120.23" r="0.72"/><circle cx="369.80" cy="121.90" r="0.72"/><circle cx="368.67" cy="122.26" r="0.72"/><circle cx="369.32" cy="119.72" r="0.72"/><circle cx="369.38" cy="119.83" r="0.72"/><circle cx="368.17" cy="121.06" r="0.72"/><circle cx="366.90" cy="120.93" r="0.72"/><circle cx="367.03" cy="120.89" r="0.72"/><circle cx="367.63" cy="119.39" r="0.72"/><circle cx="368.17" cy="117.91" r="0.72"/><circle cx="366.12" cy="119.91" r="0.72"/><circle cx="367.00" cy="118.34" r="0.72"/><circle cx="365.66" cy="118.49" r="0.72"/><circle cx="366.73" cy="117.82" r="0.72"/><circle cx="365.84" cy="117.48" r="0.72"/><circle cx="365.41" cy="117.43" r="0.72"/><circle cx="365.68" cy="116.20" r="0.72"/><circle cx="366.74" cy="115.76" r="0.72"/><circle cx="364.63" cy="116.21" r="0.72"/><circle cx="363.84" cy="116.09" r="0.72"/><circle cx="366.57" cy="114.50" r="0.72"/><circle cx="365.36" cy="114.21" r="0.72"/><circle cx="363.97" cy="113.96" r="0.72"/><circle cx="364.24" cy="113.92" r="0.72"/><circle cx="363.84" cy="113.10" r="0.72"/><circle cx="364.02" cy="112.99" r="0.72"/><circle cx="364.46" cy="111.95" r="0.72"/><circle cx="366.62" cy="112.37" r="0.72"/><circle cx="365.72" cy="111.78" r="0.72"/><circle cx="364.77" cy="110.82" r="0.72"/><circle cx="366.66" cy="111.26" r="0.72"/><circle cx="365.27" cy="110.10" r="0.72"/><circle cx="364.52" cy="109.67" r="0.72"/><circle cx="367.41" cy="110.39" r="0.72"/><circle cx="367.65" cy="109.91" r="0.72"/><circle cx="341.12" cy="139.70" r="0.72"/><circle cx="340.63" cy="138.76" r="0.72"/><circle cx="340.35" cy="138.15" r="0.72"/><circle cx="340.86" cy="136.80" r="0.72"/><circle cx="339.58" cy="139.07" r="0.72"/><circle cx="338.88" cy="137.81" r="0.72"/><circle cx="339.01" cy="136.85" r="0.72"/><circle cx="338.98" cy="136.97" r="0.72"/><circle cx="339.41" cy="134.94" r="0.72"/><circle cx="338.59" cy="135.78" r="0.72"/><circle cx="337.74" cy="135.74" r="0.72"/><circle cx="337.57" cy="135.91" r="0.72"/><circle cx="335.89" cy="136.52" r="0.72"/><circle cx="335.47" cy="136.50" r="0.72"/><circle cx="337.40" cy="134.70" r="0.72"/><circle cx="337.88" cy="133.88" r="0.72"/><circle cx="334.75" cy="134.56" r="0.72"/><circle cx="337.08" cy="133.44" r="0.72"/><circle cx="334.43" cy="134.08" r="0.72"/><circle cx="334.03" cy="133.21" r="0.72"/><circle cx="336.68" cy="132.01" r="0.72"/><circle cx="336.37" cy="131.90" r="0.72"/><circle cx="334.43" cy="131.91" r="0.72"/><circle cx="335.91" cy="131.42" r="0.72"/><circle cx="336.98" cy="130.34" r="0.72"/><circle cx="332.78" cy="130.38" r="0.72"/><circle cx="334.97" cy="129.61" r="0.72"/><circle cx="334.03" cy="129.60" r="0.72"/><circle cx="332.39" cy="129.01" r="0.72"/><circle cx="335.41" cy="128.63" r="0.72"/><circle cx="334.57" cy="127.94" r="0.72"/><circle cx="333.53" cy="127.60" r="0.72"/><circle cx="333.32" cy="127.76" r="0.72"/><circle cx="334.76" cy="126.83" r="0.72"/><circle cx="334.98" cy="126.58" r="0.72"/><circle cx="334.70" cy="126.38" r="0.72"/><circle cx="334.92" cy="126.15" r="0.72"/><circle cx="335.56" cy="125.26" r="0.72"/><circle cx="333.74" cy="123.94" r="0.72"/><circle cx="337.46" cy="125.11" r="0.72"/><circle cx="335.58" cy="123.54" r="0.72"/><circle cx="336.45" cy="124.47" r="0.72"/><circle cx="338.03" cy="124.86" r="0.72"/><circle cx="335.28" cy="121.81" r="0.72"/><circle cx="335.63" cy="121.76" r="0.72"/><circle cx="338.72" cy="123.55" r="0.72"/><circle cx="337.56" cy="121.44" r="0.72"/><circle cx="337.68" cy="120.70" r="0.72"/><circle cx="338.91" cy="121.92" r="0.72"/><circle cx="337.89" cy="119.47" r="0.72"/><circle cx="339.47" cy="121.01" r="0.72"/><circle cx="339.65" cy="120.64" r="0.72"/><circle cx="340.62" cy="122.80" r="0.72"/><circle cx="340.48" cy="121.84" r="0.72"/><circle cx="340.28" cy="120.27" r="0.72"/><circle cx="429.46" cy="97.31" r="0.72"/><circle cx="429.93" cy="97.14" r="0.72"/><circle cx="429.59" cy="97.91" r="0.72"/><circle cx="429.89" cy="98.76" r="0.72"/><circle cx="431.46" cy="97.52" r="0.72"/><circle cx="430.19" cy="99.54" r="0.72"/><circle cx="430.87" cy="99.29" r="0.72"/><circle cx="429.91" cy="100.47" r="0.72"/><circle cx="429.80" cy="100.42" r="0.72"/><circle cx="429.85" cy="101.47" r="0.72"/><circle cx="430.14" cy="101.50" r="0.72"/><circle cx="430.07" cy="101.71" r="0.72"/><circle cx="430.18" cy="102.23" r="0.72"/><circle cx="429.89" cy="102.36" r="0.72"/><circle cx="431.76" cy="102.60" r="0.72"/><circle cx="429.51" cy="103.14" r="0.72"/><circle cx="431.47" cy="103.76" r="0.72"/><circle cx="429.67" cy="104.28" r="0.72"/><circle cx="431.37" cy="104.58" r="0.72"/><circle cx="433.61" cy="104.92" r="0.72"/><circle cx="429.81" cy="104.99" r="0.72"/><circle cx="430.05" cy="105.62" r="0.72"/><circle cx="430.75" cy="106.37" r="0.72"/><circle cx="429.34" cy="105.88" r="0.72"/><circle cx="430.10" cy="107.10" r="0.72"/><circle cx="430.67" cy="107.91" r="0.72"/><circle cx="429.74" cy="108.02" r="0.72"/><circle cx="429.69" cy="107.78" r="0.72"/><circle cx="430.48" cy="109.47" r="0.72"/><circle cx="428.50" cy="107.98" r="0.72"/><circle cx="430.92" cy="110.96" r="0.72"/><circle cx="427.55" cy="108.31" r="0.72"/><circle cx="427.95" cy="108.61" r="0.72"/><circle cx="427.42" cy="108.71" r="0.72"/><circle cx="429.11" cy="111.08" r="0.72"/><circle cx="426.94" cy="110.18" r="0.72"/><circle cx="407.49" cy="137.87" r="0.72"/><circle cx="407.33" cy="138.67" r="0.72"/><circle cx="406.09" cy="138.35" r="0.72"/><circle cx="406.13" cy="139.06" r="0.72"/><circle cx="404.87" cy="138.97" r="0.72"/><circle cx="404.79" cy="139.87" r="0.72"/><circle cx="404.06" cy="139.49" r="0.72"/><circle cx="403.20" cy="139.88" r="0.72"/><circle cx="402.15" cy="139.22" r="0.72"/><circle cx="356.15" cy="142.49" r="0.72"/><circle cx="355.51" cy="142.10" r="0.72"/><circle cx="354.94" cy="141.65" r="0.72"/><circle cx="354.76" cy="141.39" r="0.72"/><circle cx="353.86" cy="141.21" r="0.72"/><circle cx="353.85" cy="140.75" r="0.72"/><circle cx="352.81" cy="140.55" r="0.72"/><circle cx="352.58" cy="139.91" r="0.72"/><circle cx="352.52" cy="139.37" r="0.72"/><circle cx="352.26" cy="138.67" r="0.72"/><circle cx="360.66" cy="158.02" r="0.72"/><circle cx="359.73" cy="157.09" r="0.72"/><circle cx="359.49" cy="158.24" r="0.72"/><circle cx="358.40" cy="158.24" r="0.72"/><circle cx="357.63" cy="157.45" r="0.72"/><circle cx="356.85" cy="157.69" r="0.72"/><circle cx="356.86" cy="157.11" r="0.72"/><circle cx="356.45" cy="157.02" r="0.72"/><circle cx="355.41" cy="156.01" r="0.72"/><circle cx="419.78" cy="155.30" r="0.72"/><circle cx="422.52" cy="155.90" r="0.72"/><circle cx="419.29" cy="155.65" r="0.72"/><circle cx="422.20" cy="156.95" r="0.72"/><circle cx="418.72" cy="156.49" r="0.72"/><circle cx="423.05" cy="158.54" r="0.72"/><circle cx="421.24" cy="158.24" r="0.72"/><circle cx="421.74" cy="159.37" r="0.72"/><circle cx="421.35" cy="160.02" r="0.72"/><circle cx="418.72" cy="158.61" r="0.72"/><circle cx="418.16" cy="158.27" r="0.72"/><circle cx="417.71" cy="159.10" r="0.72"/><circle cx="421.02" cy="161.64" r="0.72"/><circle cx="420.26" cy="162.00" r="0.72"/><circle cx="418.66" cy="160.87" r="0.72"/><circle cx="419.24" cy="162.56" r="0.72"/><circle cx="417.95" cy="162.49" r="0.72"/><circle cx="417.89" cy="163.71" r="0.72"/><circle cx="417.27" cy="162.71" r="0.72"/><circle cx="415.55" cy="160.70" r="0.72"/><circle cx="415.87" cy="163.36" r="0.72"/><circle cx="414.76" cy="161.65" r="0.72"/><circle cx="415.05" cy="163.00" r="0.72"/><circle cx="413.86" cy="161.13" r="0.72"/><circle cx="414.38" cy="163.30" r="0.72"/><circle cx="414.29" cy="163.66" r="0.72"/><circle cx="413.01" cy="163.25" r="0.72"/><circle cx="412.72" cy="164.17" r="0.72"/><circle cx="412.61" cy="162.92" r="0.72"/><circle cx="411.39" cy="162.87" r="0.72"/><circle cx="411.56" cy="161.44" r="0.72"/><circle cx="411.34" cy="161.92" r="0.72"/><circle cx="409.83" cy="164.58" r="0.72"/><circle cx="409.15" cy="165.56" r="0.72"/><circle cx="408.97" cy="165.29" r="0.72"/><circle cx="409.14" cy="162.94" r="0.72"/><circle cx="407.53" cy="164.73" r="0.72"/><circle cx="407.75" cy="162.80" r="0.72"/><circle cx="407.65" cy="162.33" r="0.72"/><circle cx="405.92" cy="164.06" r="0.72"/><circle cx="406.19" cy="164.27" r="0.72"/><circle cx="407.83" cy="160.48" r="0.72"/><circle cx="406.47" cy="160.97" r="0.72"/><circle cx="405.27" cy="162.20" r="0.72"/><circle cx="405.03" cy="162.61" r="0.72"/><circle cx="405.34" cy="161.00" r="0.72"/><circle cx="403.95" cy="161.69" r="0.72"/><circle cx="404.90" cy="159.51" r="0.72"/><circle cx="491.10" cy="148.13" r="0.72"/><circle cx="490.71" cy="148.94" r="0.72"/><circle cx="491.54" cy="149.55" r="0.72"/><circle cx="491.48" cy="150.74" r="0.72"/><circle cx="490.96" cy="151.54" r="0.72"/><circle cx="490.03" cy="151.23" r="0.72"/><circle cx="490.07" cy="151.94" r="0.72"/><circle cx="489.66" cy="152.66" r="0.72"/><circle cx="489.61" cy="153.35" r="0.72"/><circle cx="339.13" cy="192.92" r="0.72"/><circle cx="339.17" cy="194.58" r="0.72"/><circle cx="337.63" cy="193.50" r="0.72"/><circle cx="336.32" cy="193.34" r="0.72"/><circle cx="337.22" cy="195.10" r="0.72"/><circle cx="335.74" cy="194.41" r="0.72"/><circle cx="335.49" cy="194.67" r="0.72"/><circle cx="334.60" cy="195.89" r="0.72"/><circle cx="333.76" cy="196.99" r="0.72"/><circle cx="333.07" cy="194.35" r="0.72"/><circle cx="332.95" cy="194.24" r="0.72"/><circle cx="331.98" cy="195.40" r="0.72"/><circle cx="331.36" cy="195.96" r="0.72"/><circle cx="330.91" cy="194.95" r="0.72"/><circle cx="329.41" cy="195.97" r="0.72"/><circle cx="329.66" cy="194.00" r="0.72"/><circle cx="328.93" cy="194.19" r="0.72"/><circle cx="327.52" cy="193.86" r="0.72"/><circle cx="326.58" cy="193.21" r="0.72"/><circle cx="328.43" cy="191.85" r="0.72"/><circle cx="325.95" cy="191.76" r="0.72"/><circle cx="325.64" cy="191.17" r="0.72"/><circle cx="432.08" cy="16.91" r="0.72"/><circle cx="432.17" cy="17.39" r="0.72"/><circle cx="433.70" cy="16.50" r="0.72"/><circle cx="434.14" cy="17.55" r="0.72"/><circle cx="434.89" cy="17.16" r="0.72"/><circle cx="435.20" cy="18.06" r="0.72"/><circle cx="331.82" cy="69.60" r="0.72"/><circle cx="332.44" cy="69.50" r="0.72"/><circle cx="331.91" cy="67.96" r="0.72"/><circle cx="332.92" cy="68.09" r="0.72"/><circle cx="333.12" cy="67.72" r="0.72"/><circle cx="333.79" cy="67.02" r="0.72"/><circle cx="319.06" cy="116.79" r="0.72"/><circle cx="318.48" cy="116.91" r="0.72"/><circle cx="317.88" cy="116.29" r="0.72"/><circle cx="317.73" cy="115.27" r="0.72"/><circle cx="319.20" cy="114.98" r="0.72"/><circle cx="318.42" cy="114.39" r="0.72"/><circle cx="318.93" cy="113.98" r="0.72"/><circle cx="380.32" cy="151.04" r="0.72"/><circle cx="380.20" cy="150.64" r="0.72"/><circle cx="379.27" cy="150.29" r="0.72"/><circle cx="377.91" cy="150.71" r="0.72"/><circle cx="377.85" cy="149.39" r="0.72"/><circle cx="389.95" cy="156.14" r="0.72"/><circle cx="389.83" cy="157.20" r="0.72"/><circle cx="389.17" cy="156.31" r="0.72"/><circle cx="387.77" cy="157.28" r="0.72"/><circle cx="387.80" cy="156.38" r="0.72"/><circle cx="439.80" cy="60.91" r="0.72"/><circle cx="441.07" cy="60.61" r="0.72"/><circle cx="441.30" cy="61.77" r="0.72"/><circle cx="441.85" cy="62.60" r="0.72"/><circle cx="443.02" cy="63.24" r="0.72"/><circle cx="443.30" cy="64.41" r="0.72"/><circle cx="482.09" cy="140.09" r="0.72"/><circle cx="484.89" cy="139.78" r="0.72"/><circle cx="482.89" cy="139.64" r="0.72"/><circle cx="482.79" cy="140.63" r="0.72"/><circle cx="482.10" cy="140.95" r="0.72"/><circle cx="484.72" cy="141.19" r="0.72"/><circle cx="484.54" cy="141.38" r="0.72"/><circle cx="484.71" cy="141.85" r="0.72"/><circle cx="483.46" cy="142.84" r="0.72"/><circle cx="429.65" cy="121.81" r="0.72"/><circle cx="429.12" cy="123.37" r="0.72"/><circle cx="431.26" cy="124.14" r="0.72"/><circle cx="428.07" cy="124.01" r="0.72"/><circle cx="428.89" cy="125.59" r="0.72"/><circle cx="428.19" cy="124.18" r="0.72"/><circle cx="430.11" cy="126.54" r="0.72"/><circle cx="427.75" cy="124.80" r="0.72"/><circle cx="427.58" cy="124.96" r="0.72"/><circle cx="428.84" cy="127.49" r="0.72"/><circle cx="373.75" cy="117.11" r="0.72"/><circle cx="373.29" cy="118.76" r="0.72"/><circle cx="372.76" cy="117.40" r="0.72"/><circle cx="372.63" cy="118.72" r="0.72"/><circle cx="372.14" cy="118.27" r="0.72"/><circle cx="372.08" cy="116.79" r="0.72"/><circle cx="371.33" cy="118.17" r="0.72"/><circle cx="370.86" cy="117.64" r="0.72"/><circle cx="370.65" cy="117.46" r="0.72"/><circle cx="370.32" cy="117.25" r="0.72"/><circle cx="383.83" cy="130.17" r="0.72"/><circle cx="383.84" cy="130.85" r="0.72"/><circle cx="383.00" cy="130.83" r="0.72"/><circle cx="382.66" cy="131.49" r="0.72"/><circle cx="382.29" cy="131.21" r="0.72"/><circle cx="381.73" cy="131.19" r="0.72"/><circle cx="380.92" cy="131.47" r="0.72"/><circle cx="380.46" cy="131.20" r="0.72"/></g>
<g fill="#6a6a6a"><circle cx="397.54" cy="39.56" r="0.6"/><circle cx="408.20" cy="48.76" r="0.6"/><circle cx="395.26" cy="46.61" r="0.6"/><circle cx="388.96" cy="53.38" r="0.6"/><circle cx="396.18" cy="49.76" r="0.6"/><circle cx="387.66" cy="64.33" r="0.6"/><circle cx="397.68" cy="50.23" r="0.6"/><circle cx="391.18" cy="65.27" r="0.6"/><circle cx="397.62" cy="44.48" r="0.6"/><circle cx="388.65" cy="54.89" r="0.6"/><circle cx="383.98" cy="53.99" r="0.6"/><circle cx="384.03" cy="52.75" r="0.6"/><circle cx="389.67" cy="55.94" r="0.6"/><circle cx="395.08" cy="45.27" r="0.6"/><circle cx="424.17" cy="33.53" r="0.6"/><circle cx="415.93" cy="46.96" r="0.6"/><circle cx="404.00" cy="56.17" r="0.6"/><circle cx="387.87" cy="59.87" r="0.6"/><circle cx="421.34" cy="58.76" r="0.6"/><circle cx="427.30" cy="61.29" r="0.6"/><circle cx="409.95" cy="60.94" r="0.6"/><circle cx="406.63" cy="76.74" r="0.6"/><circle cx="412.25" cy="66.53" r="0.6"/><circle cx="404.73" cy="59.83" r="0.6"/><circle cx="395.99" cy="66.92" r="0.6"/><circle cx="402.26" cy="57.63" r="0.6"/><circle cx="392.04" cy="61.16" r="0.6"/><circle cx="444.97" cy="61.62" r="0.6"/><circle cx="433.42" cy="76.63" r="0.6"/><circle cx="427.28" cy="92.27" r="0.6"/><circle cx="412.84" cy="82.09" r="0.6"/><circle cx="395.35" cy="87.43" r="0.6"/><circle cx="380.24" cy="89.89" r="0.6"/><circle cx="395.36" cy="94.04" r="0.6"/><circle cx="383.65" cy="104.26" r="0.6"/><circle cx="404.39" cy="91.52" r="0.6"/><circle cx="416.19" cy="97.20" r="0.6"/><circle cx="407.88" cy="94.34" r="0.6"/><circle cx="412.13" cy="105.64" r="0.6"/><circle cx="407.69" cy="80.81" r="0.6"/><circle cx="394.66" cy="77.77" r="0.6"/><circle cx="385.25" cy="70.15" r="0.6"/><circle cx="399.52" cy="80.39" r="0.6"/><circle cx="389.30" cy="69.50" r="0.6"/><circle cx="400.74" cy="96.09" r="0.6"/><circle cx="396.16" cy="107.87" r="0.6"/><circle cx="399.86" cy="100.85" r="0.6"/><circle cx="396.14" cy="112.32" r="0.6"/><circle cx="396.10" cy="101.24" r="0.6"/><circle cx="387.45" cy="116.66" r="0.6"/><circle cx="397.45" cy="80.80" r="0.6"/><circle cx="396.67" cy="87.18" r="0.6"/><circle cx="391.07" cy="93.09" r="0.6"/><circle cx="376.85" cy="100.59" r="0.6"/><circle cx="404.25" cy="100.26" r="0.6"/><circle cx="403.62" cy="120.14" r="0.6"/><circle cx="409.72" cy="88.22" r="0.6"/><circle cx="358.77" cy="93.62" r="0.6"/><circle cx="342.47" cy="96.73" r="0.6"/><circle cx="369.49" cy="102.21" r="0.6"/><circle cx="356.84" cy="90.51" r="0.6"/><circle cx="370.66" cy="83.86" r="0.6"/><circle cx="376.18" cy="72.40" r="0.6"/><circle cx="367.73" cy="99.45" r="0.6"/><circle cx="359.22" cy="86.88" r="0.6"/><circle cx="347.99" cy="79.03" r="0.6"/><circle cx="373.85" cy="83.95" r="0.6"/><circle cx="379.86" cy="96.37" r="0.6"/><circle cx="392.75" cy="100.55" r="0.6"/><circle cx="364.79" cy="118.12" r="0.6"/><circle cx="352.88" cy="124.62" r="0.6"/><circle cx="363.35" cy="114.17" r="0.6"/><circle cx="345.07" cy="114.90" r="0.6"/><circle cx="377.64" cy="121.94" r="0.6"/><circle cx="385.00" cy="109.95" r="0.6"/><circle cx="394.98" cy="106.83" r="0.6"/><circle cx="365.75" cy="123.86" r="0.6"/><circle cx="382.58" cy="113.61" r="0.6"/><circle cx="402.26" cy="113.24" r="0.6"/><circle cx="386.90" cy="114.98" r="0.6"/><circle cx="352.33" cy="133.25" r="0.6"/><circle cx="355.66" cy="128.84" r="0.6"/><circle cx="372.79" cy="128.14" r="0.6"/><circle cx="344.14" cy="102.04" r="0.6"/><circle cx="361.43" cy="109.16" r="0.6"/><circle cx="348.09" cy="156.61" r="0.6"/><circle cx="340.26" cy="173.94" r="0.6"/><circle cx="358.42" cy="142.33" r="0.6"/><circle cx="367.16" cy="132.54" r="0.6"/><circle cx="390.67" cy="135.73" r="0.6"/><circle cx="405.42" cy="148.06" r="0.6"/><circle cx="384.53" cy="126.80" r="0.6"/><circle cx="380.89" cy="136.20" r="0.6"/><circle cx="386.29" cy="140.36" r="0.6"/><circle cx="393.91" cy="122.22" r="0.6"/><circle cx="406.41" cy="116.73" r="0.6"/><circle cx="421.51" cy="119.36" r="0.6"/><circle cx="424.35" cy="117.50" r="0.6"/><circle cx="437.05" cy="123.54" r="0.6"/><circle cx="456.21" cy="132.88" r="0.6"/><circle cx="472.92" cy="141.57" r="0.6"/><circle cx="420.02" cy="106.97" r="0.6"/><circle cx="408.99" cy="108.30" r="0.6"/><circle cx="406.28" cy="117.37" r="0.6"/><circle cx="409.03" cy="123.34" r="0.6"/><circle cx="413.98" cy="125.00" r="0.6"/><circle cx="412.82" cy="140.12" r="0.6"/><circle cx="405.39" cy="114.10" r="0.6"/><circle cx="407.63" cy="143.80" r="0.6"/><circle cx="398.56" cy="133.88" r="0.6"/><circle cx="406.36" cy="145.38" r="0.6"/><circle cx="412.93" cy="103.91" r="0.6"/><circle cx="400.43" cy="107.65" r="0.6"/><circle cx="399.19" cy="112.09" r="0.6"/><circle cx="399.67" cy="92.44" r="0.6"/><circle cx="424.24" cy="89.02" r="0.6"/><circle cx="354.87" cy="123.53" r="0.6"/><circle cx="365.88" cy="117.52" r="0.6"/><circle cx="366.01" cy="113.70" r="0.6"/><circle cx="390.40" cy="96.17" r="0.6"/><circle cx="404.31" cy="113.20" r="0.6"/><circle cx="382.48" cy="113.61" r="0.6"/><circle cx="403.62" cy="117.95" r="0.6"/><circle cx="394.12" cy="122.13" r="0.6"/><circle cx="399.12" cy="108.92" r="0.6"/><circle cx="390.13" cy="118.39" r="0.6"/><circle cx="403.52" cy="114.46" r="0.6"/><circle cx="403.38" cy="123.27" r="0.6"/><circle cx="379.40" cy="117.48" r="0.6"/><circle cx="405.30" cy="42.50" r="0.6"/><circle cx="406.10" cy="44.30" r="0.6"/><circle cx="406.90" cy="46.10" r="0.6"/><circle cx="407.70" cy="47.90" r="0.6"/><circle cx="408.50" cy="49.70" r="0.6"/><circle cx="393.90" cy="36.30" r="0.6"/><circle cx="396.30" cy="60.00" r="0.6"/><circle cx="375.50" cy="69.80" r="0.6"/><circle cx="383.10" cy="67.60" r="0.6"/><circle cx="392.90" cy="72.00" r="0.6"/><circle cx="398.70" cy="68.70" r="0.6"/><circle cx="373.00" cy="75.60" r="0.6"/><circle cx="426.00" cy="58.20" r="0.6"/><circle cx="448.30" cy="59.30" r="0.6"/><circle cx="450.70" cy="57.80" r="0.6"/><circle cx="416.70" cy="81.30" r="0.6"/><circle cx="332.10" cy="90.70" r="0.6"/><circle cx="353.20" cy="140.60" r="0.6"/><circle cx="346.70" cy="161.30" r="0.6"/><circle cx="341.70" cy="171.30" r="0.6"/></g>
<g fill="#505050"><circle cx="402.70" cy="38.60" r="2.7"/><circle cx="388.10" cy="41.30" r="1.9"/><circle cx="411.30" cy="54.50" r="3.0"/><circle cx="381.60" cy="61.30" r="1.7"/><circle cx="379.50" cy="65.50" r="1.4"/><circle cx="412.70" cy="72.30" r="1.9"/><circle cx="437.70" cy="65.70" r="1.7"/><circle cx="404.70" cy="85.90" r="3.9"/><circle cx="366.70" cy="92.10" r="3.2"/><circle cx="334.80" cy="98.20" r="1.3"/><circle cx="368.50" cy="105.00" r="1.3"/><circle cx="372.70" cy="113.80" r="3.3"/><circle cx="344.30" cy="129.30" r="3.5"/><circle cx="403.70" cy="104.10" r="2.4"/><circle cx="422.80" cy="103.70" r="3.3"/><circle cx="414.90" cy="113.00" r="2.8"/><circle cx="393.20" cy="115.50" r="1.3"/><circle cx="392.20" cy="124.50" r="1.6"/><circle cx="381.20" cy="127.80" r="1.6"/><circle cx="403.20" cy="133.60" r="1.6"/><circle cx="357.50" cy="135.80" r="2.3"/><circle cx="359.40" cy="149.30" r="1.6"/><circle cx="411.80" cy="153.40" r="3.5"/><circle cx="446.00" cy="127.80" r="1.2"/><circle cx="483.90" cy="147.80" r="1.6"/><circle cx="333.40" cy="189.10" r="2.3"/><circle cx="429.40" cy="25.00" r="1.1"/><circle cx="456.40" cy="55.20" r="1.0"/><circle cx="339.50" cy="73.10" r="1.0"/><circle cx="340.00" cy="87.80" r="1.0"/><circle cx="327.30" cy="115.60" r="1.1"/><circle cx="380.70" cy="141.50" r="1.1"/><circle cx="389.30" cy="147.80" r="1.1"/><circle cx="425.50" cy="123.20" r="1.0"/><circle cx="387.50" cy="73.80" r="1.1"/><circle cx="390.70" cy="65.50" r="1.0"/><circle cx="425.40" cy="76.20" r="1.0"/><circle cx="380.90" cy="75.90" r="0.9"/><circle cx="425.50" cy="76.20" r="0.9"/><circle cx="389.70" cy="88.30" r="0.9"/><circle cx="420.70" cy="93.30" r="0.9"/><circle cx="396.70" cy="96.30" r="0.9"/><circle cx="384.70" cy="119.30" r="0.9"/><circle cx="467.70" cy="138.60" r="0.9"/><circle cx="475.70" cy="139.90" r="0.9"/><circle cx="479.30" cy="141.60" r="0.9"/><circle cx="482.30" cy="140.70" r="0.8"/></g>
<g fill="#1d4fc4"><circle cx="402.80" cy="78.10" r="1.7"/><circle cx="407.20" cy="80.50" r="1.7"/><circle cx="410.50" cy="79.10" r="1.7"/><circle cx="412.50" cy="83.00" r="1.7"/><circle cx="408.10" cy="85.80" r="1.7"/></g>
<g fill="#35b6ea"><circle cx="395.60" cy="60.30" r="1.9"/><circle cx="402.60" cy="61.90" r="1.9"/><circle cx="399.50" cy="68.30" r="1.9"/><circle cx="406.40" cy="69.00" r="1.9"/><circle cx="408.20" cy="68.60" r="1.9"/><circle cx="392.20" cy="71.90" r="1.9"/><circle cx="387.70" cy="83.20" r="1.9"/><circle cx="394.90" cy="78.10" r="1.9"/><circle cx="387.40" cy="100.00" r="1.9"/><circle cx="386.20" cy="104.30" r="1.9"/><circle cx="397.70" cy="98.80" r="1.9"/><circle cx="401.90" cy="96.40" r="1.9"/><circle cx="404.30" cy="94.60" r="1.9"/><circle cx="403.10" cy="103.70" r="1.9"/><circle cx="399.50" cy="105.50" r="1.9"/><circle cx="407.90" cy="106.70" r="1.9"/><circle cx="413.30" cy="106.10" r="1.9"/><circle cx="414.50" cy="112.70" r="1.9"/><circle cx="404.90" cy="114.50" r="1.9"/><circle cx="408.50" cy="119.30" r="1.9"/><circle cx="420.50" cy="109.70" r="1.9"/><circle cx="430.80" cy="119.90" r="1.9"/><circle cx="421.10" cy="119.90" r="1.9"/><circle cx="400.00" cy="89.20" r="1.9"/><circle cx="352.20" cy="106.10" r="1.9"/><circle cx="381.70" cy="102.80" r="1.9"/><circle cx="387.80" cy="99.80" r="1.9"/><circle cx="386.00" cy="105.20" r="1.9"/><circle cx="363.70" cy="122.70" r="1.9"/><circle cx="372.10" cy="122.70" r="1.9"/><circle cx="332.80" cy="90.50" r="1.9"/><circle cx="400.10" cy="83.90" r="1.9"/><circle cx="409.57" cy="80.26" r="1.9"/><circle cx="399.75" cy="82.14" r="1.9"/><circle cx="407.25" cy="86.87" r="1.9"/><circle cx="400.90" cy="78.06" r="1.9"/><circle cx="408.58" cy="84.56" r="1.9"/><circle cx="410.53" cy="85.65" r="1.9"/><circle cx="404.47" cy="80.53" r="1.9"/><circle cx="412.04" cy="81.67" r="1.9"/><circle cx="402.03" cy="78.04" r="1.9"/><circle cx="406.17" cy="83.81" r="1.9"/><circle cx="402.95" cy="82.01" r="1.9"/><circle cx="406.56" cy="85.67" r="1.9"/><circle cx="410.02" cy="83.28" r="1.9"/><circle cx="399.19" cy="84.64" r="1.9"/><circle cx="399.56" cy="81.75" r="1.9"/><circle cx="399.43" cy="82.41" r="1.9"/><circle cx="401.42" cy="83.39" r="1.9"/><circle cx="412.18" cy="82.30" r="1.9"/><circle cx="408.39" cy="77.63" r="1.9"/><circle cx="403.75" cy="85.56" r="1.9"/><circle cx="404.62" cy="84.60" r="1.9"/><circle cx="405.67" cy="78.06" r="1.9"/><circle cx="407.78" cy="78.87" r="1.9"/></g>
<g fill="#1d4fc4"><circle cx="397.50" cy="82.50" r="1.7"/><circle cx="415.80" cy="80.30" r="1.7"/><circle cx="414.90" cy="93.10" r="1.7"/><circle cx="414.50" cy="94.00" r="1.7"/><circle cx="413.90" cy="95.80" r="1.7"/><circle cx="409.70" cy="99.40" r="1.7"/><circle cx="415.10" cy="100.00" r="1.7"/><circle cx="412.70" cy="103.10" r="1.7"/><circle cx="406.70" cy="102.50" r="1.7"/><circle cx="408.50" cy="104.90" r="1.7"/><circle cx="403.70" cy="110.30" r="1.7"/><circle cx="409.70" cy="109.70" r="1.7"/><circle cx="407.30" cy="116.30" r="1.7"/><circle cx="418.10" cy="119.30" r="1.7"/><circle cx="419.90" cy="118.10" r="1.7"/><circle cx="422.30" cy="116.30" r="1.7"/><circle cx="416.90" cy="116.90" r="1.7"/><circle cx="398.90" cy="120.50" r="1.7"/><circle cx="391.60" cy="123.50" r="1.7"/><circle cx="391.00" cy="126.60" r="1.7"/><circle cx="389.80" cy="127.20" r="1.7"/><circle cx="392.80" cy="127.80" r="1.7"/><circle cx="387.40" cy="136.80" r="1.7"/><circle cx="390.40" cy="136.20" r="1.7"/><circle cx="380.50" cy="127.50" r="1.7"/><circle cx="381.70" cy="133.60" r="1.7"/><circle cx="384.20" cy="135.40" r="1.7"/><circle cx="386.60" cy="136.60" r="1.7"/><circle cx="389.60" cy="137.20" r="1.7"/><circle cx="391.40" cy="123.90" r="1.7"/><circle cx="392.60" cy="126.30" r="1.7"/><circle cx="390.20" cy="127.50" r="1.7"/></g>
<g fill="#1d4fc4"><circle cx="410.50" cy="79.10" r="1.3"/><circle cx="412.50" cy="83.00" r="1.3"/><circle cx="415.80" cy="80.30" r="1.3"/><circle cx="408.10" cy="85.80" r="1.3"/></g>
<path d="M334.8,98.2L325.57,97.07M334.8,98.2L325.65,96.56M334.8,98.2L325.75,96.06M334.8,98.2L325.88,95.57M334.8,98.2L326.04,95.08M334.8,98.2L326.22,94.61M334.8,98.2L326.43,94.14M334.8,98.2L326.67,93.69" stroke="#35b6ea" stroke-width="0.5" fill="none"/>
<g fill="#35b6ea"><circle cx="325.57" cy="97.07" r="1.0"/><circle cx="325.65" cy="96.56" r="1.0"/><circle cx="325.75" cy="96.06" r="1.0"/><circle cx="325.88" cy="95.57" r="1.0"/><circle cx="326.04" cy="95.08" r="1.0"/><circle cx="326.22" cy="94.61" r="1.0"/><circle cx="326.43" cy="94.14" r="1.0"/><circle cx="326.67" cy="93.69" r="1.0"/><circle cx="334.8" cy="98.2" r="1.8"/></g>
<text x="413.60" y="90.40" font-size="7" font-weight="bold" fill="#111" textLength="21.80" lengthAdjust="spacingAndGlyphs" stroke="#fff" stroke-opacity="0.6" stroke-width="0.8" paint-order="stroke">TOP2A</text>
<text x="335.90" y="99.10" font-size="7" font-weight="bold" fill="#111" textLength="24.50" lengthAdjust="spacingAndGlyphs" stroke="#fff" stroke-opacity="0.6" stroke-width="0.8" paint-order="stroke">TNFSF9</text>
<text x="380.20" y="111.00" font-size="7" font-weight="bold" fill="#111" textLength="20.20" lengthAdjust="spacingAndGlyphs" stroke="#fff" stroke-opacity="0.6" stroke-width="0.8" paint-order="stroke">CENPF</text>
<text x="420.30" y="115.20" font-size="7" font-weight="bold" fill="#111" textLength="20.30" lengthAdjust="spacingAndGlyphs" stroke="#fff" stroke-opacity="0.6" stroke-width="0.8" paint-order="stroke">MKI67</text>
<text x="395.30" y="126.80" font-size="7" font-weight="bold" fill="#111" textLength="22.20" lengthAdjust="spacingAndGlyphs" stroke="#fff" stroke-opacity="0.6" stroke-width="0.8" paint-order="stroke">PTGDS</text>
<text x="363.70" y="132.20" font-size="7" font-weight="bold" fill="#111" textLength="16.50" lengthAdjust="spacingAndGlyphs" stroke="#fff" stroke-opacity="0.6" stroke-width="0.8" paint-order="stroke">DTX1</text>
<text x="181.40" y="184.20" font-size="9.3" font-weight="bold" fill="#111" textLength="81.30" lengthAdjust="spacingAndGlyphs">Network topology</text>
<text x="181.20" y="200.30" font-size="9.3" fill="#222" textLength="86.60" lengthAdjust="spacingAndGlyphs" stroke="#222" stroke-width="0.18">Curated interactions</text>
<text x="181.20" y="215.00" font-size="9.3" fill="#222" textLength="97.60" lengthAdjust="spacingAndGlyphs" stroke="#222" stroke-width="0.18">Species: Homo sapiens</text>
<text x="181.80" y="236.20" font-size="9.3" fill="#222" textLength="47.70" lengthAdjust="spacingAndGlyphs" stroke="#222" stroke-width="0.18">Nodes: 511</text>
<text x="181.80" y="247.30" font-size="9.3" fill="#222" textLength="46.70" lengthAdjust="spacingAndGlyphs" stroke="#222" stroke-width="0.18">Edges: 600</text>
<text x="181.80" y="258.60" font-size="9.3" fill="#222" textLength="40.40" lengthAdjust="spacingAndGlyphs" stroke="#222" stroke-width="0.18">Seeds: 42</text>
<text x="239.20" y="236.20" font-size="9.3" fill="#222" textLength="18.60" lengthAdjust="spacingAndGlyphs" stroke="#222" stroke-width="0.18">Size:</text>
<text x="239.20" y="247.30" font-size="9.3" fill="#222" textLength="60.30" lengthAdjust="spacingAndGlyphs" stroke="#222" stroke-width="0.18">Degree values</text>
<text x="239.20" y="258.70" font-size="9.3" fill="#222" textLength="26.50" lengthAdjust="spacingAndGlyphs" stroke="#222" stroke-width="0.18">Color:</text>
<text x="239.20" y="270.20" font-size="9.3" fill="#222" textLength="101.60" lengthAdjust="spacingAndGlyphs" stroke="#222" stroke-width="0.18">In betweeness centrality</text>
<text x="345.90" y="184.40" font-size="9.3" font-weight="bold" fill="#111" textLength="67.70" lengthAdjust="spacingAndGlyphs">GO enrichment</text>
<text x="345.90" y="201.90" font-size="9.3" fill="#222" textLength="113.70" lengthAdjust="spacingAndGlyphs" stroke="#222" stroke-width="0.18">GO (BP) name (Hits, Adj-P)</text>
<text x="345.90" y="213.10" font-size="9.3" fill="#222" textLength="112.20" lengthAdjust="spacingAndGlyphs" stroke="#222" stroke-width="0.18">Cell cycle (53/1860), 1e-15</text>
<text x="345.90" y="224.50" font-size="9.3" fill="#222" textLength="138.30" lengthAdjust="spacingAndGlyphs" stroke="#222" stroke-width="0.18">Cell proliferation (37/1900), 1e-6</text>
<text x="345.90" y="235.90" font-size="9.3" fill="#222" textLength="167.10" lengthAdjust="spacingAndGlyphs" stroke="#222" stroke-width="0.18">Programmed cell death (37/2160), 1e-5</text>
<text x="345.90" y="247.30" font-size="9.3" fill="#222" textLength="125.20" lengthAdjust="spacingAndGlyphs" stroke="#222" stroke-width="0.18">MAPK cascade (18/665), 3e-5</text>
<text x="244.4" y="311.7" font-size="10" fill="#e8262b"><tspan stroke="#e8262b" stroke-width="0.3">NK</tspan><tspan font-size="7.8" dy="-3.6" stroke="#e8262b" stroke-width="0.25">imm</tspan></text>
<text x="275.70" y="311.70" font-size="10" fill="#e8262b" textLength="30.20" lengthAdjust="spacingAndGlyphs" stroke="#e8262b" stroke-width="0.4">unique</text>
<text x="193.90" y="324.60" font-size="8.4" font-weight="bold" fill="#222" textLength="25.60" lengthAdjust="spacingAndGlyphs">Group:</text>
<line x1="193.8" y1="325.7" x2="220.0" y2="325.7" stroke="#777" stroke-width="0.6"/>
<rect x="194" y="329" width="8.6" height="8" rx="1" fill="#fff" stroke="#333" stroke-width="0.8"/>
<text x="204.50" y="335.30" font-size="8" fill="#222" textLength="10.00" lengthAdjust="spacingAndGlyphs">HD</text>
<rect x="194" y="340" width="8.6" height="8" rx="1" fill="#bdbdbd" stroke="#333" stroke-width="0.8"/>
<text x="204.50" y="346.30" font-size="8" fill="#222" textLength="9.60" lengthAdjust="spacingAndGlyphs">NP</text>
<rect x="194" y="351" width="8.6" height="8" rx="1" fill="#444" stroke="#333" stroke-width="0.8"/>
<text x="204.5" y="357.3" font-size="8" fill="#e8262b">NK<tspan font-size="5.6" dy="-2.8">imm</tspan></text>
<rect x="245.20" y="318.6" width="8.6" height="7.8" rx="1" fill="#fff" stroke="#333" stroke-width="0.8"/>
<rect x="256.40" y="318.6" width="8.6" height="7.8" rx="1" fill="#bdbdbd" stroke="#333" stroke-width="0.8"/>
<rect x="267.60" y="318.6" width="8.6" height="7.8" rx="1" fill="#444" stroke="#333" stroke-width="0.8"/>
<rect x="340.00" y="318.6" width="8.6" height="7.8" rx="1" fill="#fff" stroke="#333" stroke-width="0.8"/>
<rect x="351.20" y="318.6" width="8.6" height="7.8" rx="1" fill="#bdbdbd" stroke="#333" stroke-width="0.8"/>
<rect x="362.40" y="318.6" width="8.6" height="7.8" rx="1" fill="#444" stroke="#333" stroke-width="0.8"/>
<rect x="244.30" y="329.70" width="11.15" height="11.03" fill="#fff"/>
<rect x="255.45" y="329.70" width="11.15" height="11.03" fill="#f7b3b3"/>
<rect x="266.60" y="329.70" width="11.15" height="11.03" fill="#ee4c42"/>
<rect x="244.30" y="340.73" width="11.15" height="11.03" fill="#fff"/>
<rect x="255.45" y="340.73" width="11.15" height="11.03" fill="#fcdada"/>
<rect x="266.60" y="340.73" width="11.15" height="11.03" fill="#f07572"/>
<rect x="244.30" y="351.76" width="11.15" height="11.03" fill="#fff"/>
<rect x="255.45" y="351.76" width="11.15" height="11.03" fill="#fdf0ee"/>
<rect x="266.60" y="351.76" width="11.15" height="11.03" fill="#f07875"/>
<rect x="244.30" y="362.79" width="11.15" height="11.03" fill="#fff"/>
<rect x="255.45" y="362.79" width="11.15" height="11.03" fill="#d6daf2"/>
<rect x="266.60" y="362.79" width="11.15" height="11.03" fill="#f07b78"/>
<rect x="244.30" y="373.82" width="11.15" height="11.03" fill="#fff"/>
<rect x="255.45" y="373.82" width="11.15" height="11.03" fill="#fbdcdc"/>
<rect x="266.60" y="373.82" width="11.15" height="11.03" fill="#f07a77"/>
<rect x="244.30" y="384.85" width="11.15" height="11.03" fill="#fff"/>
<rect x="255.45" y="384.85" width="11.15" height="11.03" fill="#fde9e9"/>
<rect x="266.60" y="384.85" width="11.15" height="11.03" fill="#f07a77"/>
<rect x="244.30" y="395.88" width="11.15" height="11.03" fill="#fff"/>
<rect x="255.45" y="395.88" width="11.15" height="11.03" fill="#fce2e2"/>
<rect x="266.60" y="395.88" width="11.15" height="11.03" fill="#f08280"/>
<line x1="244.3" y1="340.73" x2="277.75" y2="340.73" stroke="#555" stroke-width="0.9"/>
<line x1="244.3" y1="351.76" x2="277.75" y2="351.76" stroke="#555" stroke-width="0.9"/>
<line x1="244.3" y1="362.79" x2="277.75" y2="362.79" stroke="#555" stroke-width="0.9"/>
<line x1="244.3" y1="373.82" x2="277.75" y2="373.82" stroke="#555" stroke-width="0.9"/>
<line x1="244.3" y1="384.85" x2="277.75" y2="384.85" stroke="#555" stroke-width="0.9"/>
<line x1="244.3" y1="395.88" x2="277.75" y2="395.88" stroke="#555" stroke-width="0.9"/>
<line x1="255.45" y1="329.7" x2="255.45" y2="406.91" stroke="#555" stroke-width="0.9"/>
<line x1="266.60" y1="329.7" x2="266.60" y2="406.91" stroke="#555" stroke-width="0.9"/>
<rect x="244.3" y="329.7" width="33.45" height="77.21" fill="none" stroke="#222" stroke-width="1.1"/>
<text x="280.20" y="337.81" font-size="9.2" fill="#111" stroke="#222" stroke-width="0.18">FAM30A</text>
<text x="280.20" y="348.84" font-size="9.2" fill="#111" stroke="#222" stroke-width="0.18">CENPF</text>
<text x="280.20" y="359.88" font-size="9.2" fill="#111" stroke="#222" stroke-width="0.18">LOC284454</text>
<text x="280.20" y="370.90" font-size="9.2" fill="#111" stroke="#222" stroke-width="0.18">TNFSF9</text>
<text x="280.20" y="381.94" font-size="9.2" fill="#111" stroke="#222" stroke-width="0.18">TOP2A</text>
<text x="280.20" y="392.96" font-size="9.2" fill="#111" stroke="#222" stroke-width="0.18">MKI67</text>
<text x="280.20" y="404.00" font-size="9.2" fill="#111" stroke="#222" stroke-width="0.18">DTX1</text>
<rect x="338.80" y="329.50" width="11.15" height="11.03" fill="#fff"/>
<rect x="349.95" y="329.50" width="11.15" height="11.03" fill="#e1e3f4"/>
<rect x="361.10" y="329.50" width="11.15" height="11.03" fill="#8f95d6"/>
<rect x="338.80" y="340.53" width="11.15" height="11.03" fill="#fff"/>
<rect x="349.95" y="340.53" width="11.15" height="11.03" fill="#efeff8"/>
<rect x="361.10" y="340.53" width="11.15" height="11.03" fill="#a6aade"/>
<rect x="338.80" y="351.56" width="11.15" height="11.03" fill="#fff"/>
<rect x="349.95" y="351.56" width="11.15" height="11.03" fill="#fdeeee"/>
<rect x="361.10" y="351.56" width="11.15" height="11.03" fill="#b3b7e2"/>
<rect x="338.80" y="362.59" width="11.15" height="11.03" fill="#fff"/>
<rect x="349.95" y="362.59" width="11.15" height="11.03" fill="#fdeeee"/>
<rect x="361.10" y="362.59" width="11.15" height="11.03" fill="#c5c8ea"/>
<line x1="338.8" y1="340.53" x2="372.25" y2="340.53" stroke="#555" stroke-width="0.9"/>
<line x1="338.8" y1="351.56" x2="372.25" y2="351.56" stroke="#555" stroke-width="0.9"/>
<line x1="338.8" y1="362.59" x2="372.25" y2="362.59" stroke="#555" stroke-width="0.9"/>
<line x1="349.95" y1="329.5" x2="349.95" y2="373.62" stroke="#555" stroke-width="0.9"/>
<line x1="361.10" y1="329.5" x2="361.10" y2="373.62" stroke="#555" stroke-width="0.9"/>
<rect x="338.8" y="329.5" width="33.45" height="44.12" fill="none" stroke="#222" stroke-width="1.1"/>
<text x="375.50" y="337.62" font-size="9.2" fill="#111" stroke="#222" stroke-width="0.18">PTGDS</text>
<text x="375.50" y="348.64" font-size="9.2" fill="#111" stroke="#222" stroke-width="0.18">COL13A1</text>
<text x="375.50" y="359.68" font-size="9.2" fill="#111" stroke="#222" stroke-width="0.18">EPN2</text>
<text x="375.50" y="370.70" font-size="9.2" fill="#111" stroke="#222" stroke-width="0.18">B3GAT1</text>
<defs><linearGradient id="cb" x1="0" y1="0" x2="0" y2="1"><stop offset="0" stop-color="#e02a2a"/><stop offset="0.333" stop-color="#ffffff"/><stop offset="1" stop-color="#1b45a8"/></linearGradient></defs>
<rect x="432.5" y="332" width="7.2" height="54.2" fill="url(#cb)" stroke="#222" stroke-width="0.8"/>
<line x1="432.5" y1="350.1" x2="434.5" y2="350.1" stroke="#222" stroke-width="0.8"/><line x1="437.7" y1="350.1" x2="439.7" y2="350.1" stroke="#222" stroke-width="0.8"/>
<line x1="432.5" y1="368.2" x2="434.5" y2="368.2" stroke="#222" stroke-width="0.8"/><line x1="437.7" y1="368.2" x2="439.7" y2="368.2" stroke="#222" stroke-width="0.8"/>
<text x="420.80" y="313.70" font-size="9.3" fill="#111" textLength="30.80" lengthAdjust="spacingAndGlyphs" stroke="#222" stroke-width="0.18">Median</text>
<text x="420.3" y="325.2" font-size="9.3" fill="#111" stroke="#222" stroke-width="0.18">Log<tspan font-size="6.5" dy="2">2</tspan><tspan dy="-2">FC</tspan></text>
<text x="447.40" y="335.20" font-size="7.7" fill="#222">3</text>
<text x="447.40" y="352.80" font-size="7.7" fill="#222">0</text>
<text x="445.80" y="370.90" font-size="7.7" fill="#222">−3</text>
<text x="445.80" y="389.40" font-size="7.7" fill="#222">−6</text>
<text x="458.40" y="329.20" font-size="9.4" fill="#111" textLength="30.10" lengthAdjust="spacingAndGlyphs" stroke="#222" stroke-width="0.18">More in</text>
<text x="458.40" y="340.60" font-size="9.4" fill="#111" textLength="51.00" lengthAdjust="spacingAndGlyphs" stroke="#222" stroke-width="0.18">neutropenia</text>
<text x="458.40" y="383.60" font-size="9.4" fill="#111" textLength="30.10" lengthAdjust="spacingAndGlyphs" stroke="#222" stroke-width="0.18">More in</text>
<text x="458.40" y="394.80" font-size="9.4" fill="#111" textLength="29.60" lengthAdjust="spacingAndGlyphs" stroke="#222" stroke-width="0.18">healthy</text>
</svg></body></html>
